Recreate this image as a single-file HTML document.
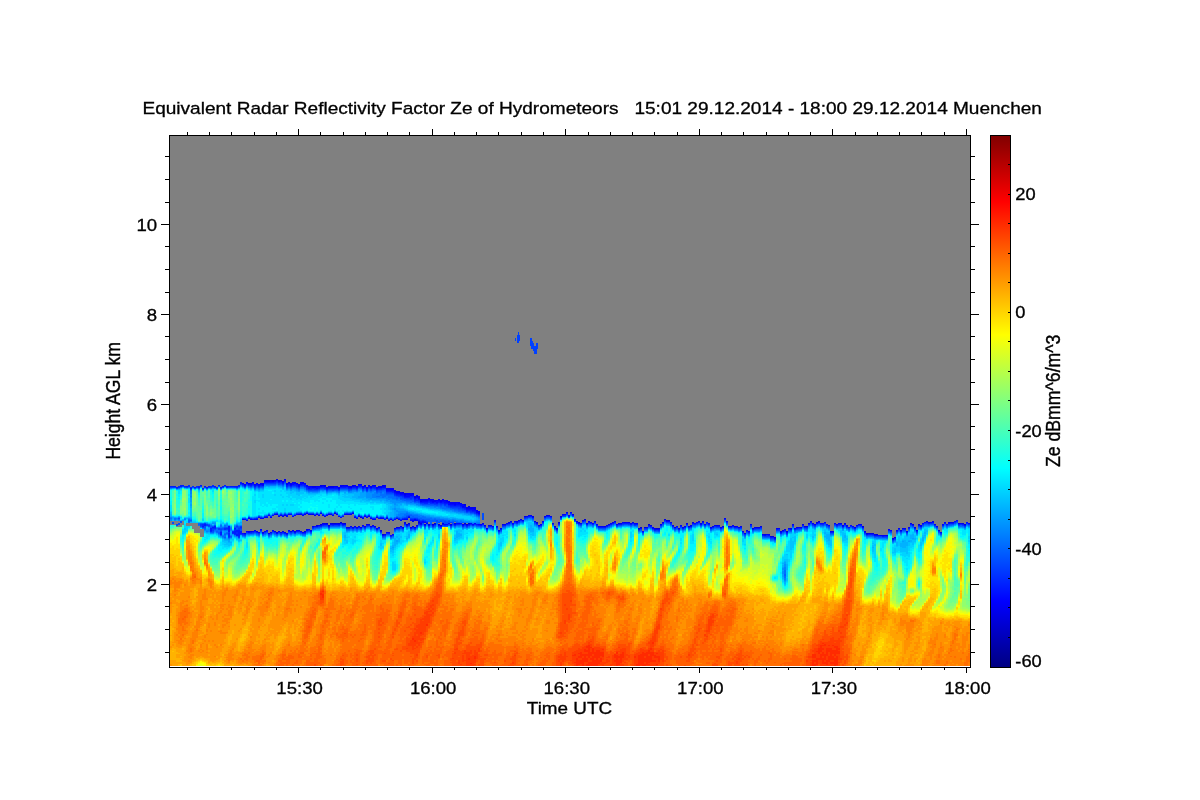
<!DOCTYPE html>
<html><head><meta charset="utf-8"><title>Radar Reflectivity</title>
<style>html,body{margin:0;padding:0;background:#fff;}body{width:1200px;height:800px;overflow:hidden;font-family:"Liberation Sans",sans-serif;}svg{display:block}</style>
</head><body>
<svg width="1200" height="800" viewBox="0 0 1200 800">
<rect width="1200" height="800" fill="#fff"/>
<rect x="170" y="136" width="800" height="531" fill="#808080"/>
<rect x="170" y="666" width="800" height="1" fill="#fff"/>
<g shape-rendering="crispEdges" fill="none" stroke-width="2">
<path stroke="#0000d4" d="M305 531v1m16-8v1m6-2v1m2 1v1m4-3v1m2-1v1m4-1v1m2-2v1m4 0v1m38 10v1m24-11v1m2-2v1m10-2v1m14 1v1m2-2v1m4 0v1m2 0v1m2-3v1m8 0v1m4-2v1m10-1v1m2 0v1m2-2v1m68-2v1m18 3v1m2 1v1m2-7v1m2-7v1m24 2v1m54 8v1m2-2v1m8-4v1m8 3v1m2-1v1m8-9v1m2-1v1m24 1v1m94 8v1m30-10v1m2-2v1m44 4v1m4 6v1m10 0v1m42-11v1m8-4v1m38 2v1"/>
<path stroke="#0000e6" d="M245 533v1m4-51v1m0 47v1m2-49v1m0 47v1m6-1v1m6 0v1m2-53v1m2-1v1m2-1v1m0 52v1m4-54v1m2 50v1m2-53v1m0 34v1m0 17v1m2-53v1m0 50v1m4-16v1m0 14v1m2 0v1m4-51v1m2 48v1m2-2v1m2 0v1m2-49v1m10 45v1m4 0v1m2-45v1m0 27v1m0 11v1m2-41v1m2 38v1m4-41v1m2-1v1m0 37v1m2-39v1m0 37v1m2-37v1m4-2v1m0 36v1m2-38v1m2 26v1m2 9v1m6-39v1m0 37v1m6 3v1m4-43v1m8 31v1m4-33v1m2 38v1m2-1v1m12 5v1m2-46v1m4 32v1m10 8v1m6-36v1m2 0v2m0 27v1m6 4v1m2-35v1m0 27v1m0 4v1m2-31v2m0 29v1m2-32v1m4 26v1m4 0v1m4-1v1m34-1v1m2-21v1m4 1v1m16 18v1m2 2v1m2-4v1m2-1v1m6 0v1m4 1v1m2-5v1m2-1v1m4-3v1m2-2v1m6-1v1m2-2v1m2-2v1m4-4v1m8-1v1m2 4v1m12-7v1m20-4v1m6 1v1m4 6v1m2 0v1m10-2v1m6-1v1m10 4v1m4-3v1m4-3v1m2-2v1m4 1v1m2-1v1m4-2v1m4-1v1m4-1v1m12 4v1m6-3v1m4 2v1m6-5v1m2-3v1m2-4v1m10 7v1m4 0v1m8-6v1m2 2v1m2-2v1m10-3v1m2-3v1m10 4v1m4-2v1m4 1v1m14-2v1m4 0v1m6 5v1m2-4v1m6-3v1m4-2v1m2-1v1m2-2v1m4 7v1m6 1v1m2-1v1m2 0v1m6-7v1m2-2v1m8-3v1m6-2v1m6-4v1m2 1v1m2-1v1m2-4v1m2-3v1m2 1v1m2 0v1m26-2v1m2 1v1m2-3v1m2 1v1m18 5v1m4 1v1m2-1v1m2-1v1m2 0v1m18 3v1m2-2v1m6-8v1m6 0v1m4-9v1m2 0v1m8 0v1m12-5v1m16 0v1m2-1v1m2-1v1m6 0v1m4-1v1"/>
<path stroke="#0000f6" d="M243 483v1m0 35v1m2-36v1m2-3v1m0 48v1m2-14v1m2 0v1m2-38v1m0 48v1m2-48v1m0 34v1m0 10v1m2-48v1m0 35v1m2-36v1m0 47v1m2-50v2m0 33v1m0 10v1m2-47v2m0 33v1m2-38v1m0 35v1m0 13v1m2-51v1m0 35v1m0 12v1m2-50v1m2-2v1m0 36v1m0 14v1m2-52v1m0 48v1m2-51v1m0 33v1m4-34v1m0 34v1m2-37v1m0 34v1m0 16v1m2-52v1m2-3v2m0 34v1m2-33v2m0 31v1m0 16v1m2-51v1m0 46v1m2-48v2m2-3v1m2-1v2m2 46v1m2-47v2m0 28v1m0 15v1m2-49v1m0 31v1m0 16v1m2-50v2m0 31v1m0 16v1m2-50v1m0 30v1m2-30v1m0 27v1m2-28v1m0 27v1m0 14v1m2-44v1m0 27v1m2-28v1m2-1v1m0 27v1m2-30v1m0 27v1m2-29v1m0 28v1m0 9v1m2-40v1m0 26v1m2 1v1m2-30v1m0 29v1m2-2v1m2-30v2m0 26v1m2-28v1m0 26v1m2-28v1m0 27v1m2-30v1m2-1v1m0 27v1m2-28v2m2-4v2m4-2v1m0 28v1m2-30v1m0 28v1m0 12v1m2-42v1m0 27v1m2-29v2m0 26v1m0 11v1m2-41v1m0 26v1m0 13v1m2-43v1m0 31v1m0 8v1m2-41v1m0 31v1m0 8v1m2-44v1m0 31v1m0 9v1m2-43v1m0 42v1m2-42v1m0 31v1m0 6v1m2-40v1m0 29v1m0 9v1m2-40v1m0 29v1m2-33v1m0 30v1m2-31v2m0 30v1m0 7v1m2-42v1m0 33v1m0 5v1m2-41v1m0 33v1m0 6v1m2-40v1m0 29v1m0 10v1m2-43v2m0 39v1m2-42v2m0 30v1m2-33v1m0 31v1m2-34v2m0 47v1m2-47v2m0 42v1m2-45v2m0 30v1m0 11v1m2-45v2m0 29v1m2-32v2m2 0v2m0 36v1m2-38v2m0 25v1m2-28v2m0 26v1m0 7v1m2-36v2m0 26v1m0 5v1m2-34v1m0 33v1m2-33v1m0 23v1m2-27v2m0 24v1m2-27v2m0 22v1m2-25v3m2-2v1m0 25v1m2-2v2m2-26v1m0 1v1m0 22v1m0 4v1m2-30v3m0 22v1m2-23v3m2-3v2m2-2v2m0 21v1m2-24v2m0 22v1m2-26v2m2-1v2m2-2v3m2-2v2m2-2v1m2-2v2m2-1v2m2-3v2m2-1v1m2-1v2m2-1v2m2-1v2m2-2v2m2-2v3m2-3v1m2-1v2m2-1v1m2 0v1m0 1v1m2-2v1m2 1v2m2-2v2m2-2v2m2-2v2m2-2v3m2 0v3m2-2v3m2 10v1m2-2v1m10 2v1m2-7v1m4 9v1m8-8v1m6-1v1m2-3v1m8-2v1m4-5v1m2-2v1m2-1v1m8 9v1m2-2v1m2-4v1m2-6v1m4-2v1m2 0v1m2 6v1m10-10v1m2-1v1m4 0v1m2-4v1m10 10v1m2-4v1m4 2v1m4-2v1m2 0v1m4 0v1m2 1v1m2-1v1m2-1v1m4-2v1m4-3v1m6 0v1m6-3v1m4-1v1m4 0v1m4-1v1m2-1v1m10 3v1m6-1v1m18-6v1m2 2v1m8-1v1m2 1v1m2-2v1m12-5v1m2-2v1m6 2v1m4-2v1m2 3v1m4-3v1m4-1v1m4 0v1m2-9v1m2 2v1m4 4v1m2-2v1m4 0v1m4-1v1m2 4v1m6-1v1m2-8v1m4 2v1m8 6v1m4-1v1m2-1v1m8-7v1m2-1v1m6 0v1m4-2v1m4-5v1m2 3v1m4-2v1m2-1v1m24-6v1m4 2v1m2 5v1m2-1v1m2-9v1m2 0v1m2-2v1m16 3v1m2-3v1m2-2v1m2-1v1m20 10v1m2-1v1m2-1v1m2-1v1m2-7v1m2 0v1m6-1v1m2-3v1m4-1v1m2-1v1m4-2v1m6-1v1m2 2v1m6-8v1m6-2v1m2-1v1m4 1v1m2 1v1m2 3v1m2 1v1m2-9v1m2-3v1m16 0v1m8-1v1"/>
<path stroke="#0008ff" d="M243 533v1m2-49v1m0 33v1m2-37v1m0 36v1m2-37v1m0 47v1m2-49v1m2-2v1m0 35v1m2-35v1m2-2v1m2 0v1m0 31v1m4-33v1m0 47v1m6-19v1m2-35v1m2 33v1m2-35v1m2-2v1m0 52v1m4-53v1m2 0v1m4 32v1m2-2v1m2-30v1m0 28v1m2-32v2m0 31v1m2-2v1m0 16v1m2-49v1m0 29v1m2-29v1m2-4v2m4-1v1m0 47v1m2-47v1m0 43v1m2-44v2m2-2v1m0 43v1m4-6v1m2-40v2m0 37v1m2-40v1m2 37v1m2-40v1m0 37v1m2-1v1m2-37v1m0 35v1m2 1v1m2-3v1m2-1v1m2-38v1m0 36v1m2-38v1m0 36v1m2-9v1m0 7v1m2-8v1m0 5v1m2-38v1m0 37v1m2-39v1m0 37v1m2-39v1m2 0v1m6-2v1m2 0v1m2-3v1m2-1v1m2 1v1m4 0v1m2-3v1m4-1v1m2-1v1m2 1v1m2 29v1m2 12v1m2-45v1m0 47v1m2-49v1m0 31v1m2-30v1m2-1v1m2-1v1m0 44v1m2-46v1m0 29v1m0 13v1m2-43v1m0 26v1m2-27v1m2-1v1m2 0v1m2-1v1m0 24v1m2-24v1m0 26v1m2-29v2m0 28v1m2-31v2m0 27v1m2-5v1m2-26v1m2 2v1m4 0v1m0 23v1m2-2v1m0 1v1m2-24v1m0 19v2m2-22v1m0 23v1m2-25v1m2-2v1m0 24v1m2-25v1m2 0v1m0 22v1m2-2v1m2-24v2m2-2v1m0 23v1m2-24v1m0 23v1m2-26v1m0 22v1m2-24v2m0 21v1m2-23v1m0 21v1m2-22v2m0 18v1m2-20v1m0 20v1m2-22v1m2 0v1m0 18v1m2-22v2m0 18v1m2-20v1m0 18v1m2-20v2m0 17v1m2-19v1m0 1v1m0 17v1m2-20v2m0 16v1m2-16v1m0 15v1m2-17v1m0 14v1m2-16v1m0 13v1m2-15v2m0 13v1m2-15v1m0 12v1m4 0v1m30-2v1m8-2v1m16-6v1m4 5v1m18 3v1m2 1v1m2-7v1m2-7v1m14 1v1m4 3v1m6-4v1m54 8v1m2-2v1m2 2v1m6-7v1m4 2v1m2 0v1m2-1v1m2-1v1m8-9v1m2-1v1m8 4v1m14-1v1m2-4v1m2-1v1m6 0v1m2-3v1m4-1v1m22 3v1m36 8v1m10 2v1m6-7v1m6-1v1m4-4v1m26-7v1m2-2v1m2 0v1m2-1v1m4 0v1m16 1v1m2-3v1m2 1v1m2 0v1m2-3v1m2 0v1m10 0v1m2 4v1m2 1v1m8 0v1m2-1v1m2-1v1m14 3v1m26-15v1m2 0v1m4-5v1m8-1v1m14 1v1m2-2v1m6-3v1m2-2v1m8 4v1m2-4v1"/>
<path stroke="#001aff" d="M171 486v1m2-1v1m2-1v1m2 0v1m4-3v2m2-2v1m4 0v1m4 1v1m4-2v1m4-2v2m2-3v1m2 40v1m2-41v1m0 37v2m2-39v1m2-2v1m2 41v3m2-4v1m2-42v1m0 39v2m4-43v1m2 1v1m0 44v3m2-49v1m2-2v1m2 0v1m2 39v6m2-46v1m2-1v1m0 45v1m2-47v1m0 41v1m0 2v3m2-48v1m0 43v2m0 2v2m2-51v1m0 44v6m2-54v2m0 47v3m2-50v1m2 49v1m6-50v1m0 46v1m2-49v1m2 1v1m0 44v1m2-47v1m0 32v1m0 13v1m2-47v1m2-2v1m0 44v1m4-49v1m2-1v1m0 33v1m0 14v1m2-50v1m2-1v1m2-1v1m0 48v1m6-50v1m4 0v1m0 31v1m0 16v1m2-52v1m0 32v1m0 18v1m2-49v1m0 48v1m2-51v1m0 46v1m4-1v1m2-48v1m2 0v1m0 45v1m2-1v1m4-48v1m2 0v1m2 1v1m4 0v1m2-1v1m0 38v1m2-40v1m4-1v1m2-2v1m2-1v1m2-1v1m2 1v1m2-2v1m2-1v1m2-1v1m2-1v1m2-1v1m2 0v1m2-3v1m2-1v1m0 28v1m2-30v1m2 40v1m2-41v1m0 39v1m2-41v1m2-2v1m0 40v1m2-42v1m0 28v1m0 10v1m2-40v1m0 39v1m2-43v1m0 28v1m0 11v1m2-42v1m0 29v1m2-29v1m0 28v1m0 8v1m2-40v1m0 39v1m2-39v1m0 35v1m2-39v1m0 37v1m2-38v1m2-2v1m0 38v1m2-40v1m0 39v1m2-39v1m0 39v1m2-42v1m2-1v1m0 28v1m4 17v1m2-45v1m0 25v1m2-27v1m0 41v1m2-43v1m2-1v1m2 1v1m2 0v1m0 33v1m2-35v1m0 33v1m2-34v1m2-1v1m0 32v1m2-32v1m0 20v1m2-22v1m0 20v1m2-22v1m0 18v1m2-21v1m0 22v1m0 8v1m2-33v1m0 22v1m0 7v1m2-29v1m0 28v1m2-31v1m0 20v1m0 6v1m2-7v1m2-19v1m0 18v1m2-20v1m2-1v1m0 18v1m2-20v1m0 19v1m2-22v1m2 0v1m4-1v1m2 0v1m2-2v1m4-1v1m2 0v1m2-1v1m4 1v1m2-1v1m4-1v1m2-1v1m2 0v1m4 1v1m2 1v1m2-1v1m2-1v1m2 0v1m2-1v1m2 1v1m0 10v1m2-11v1m2 10v1m2-2v1m2 1v1m2 2v1m2-4v1m2-1v1m4-6v1m2 5v1m2 3v1m2-3v1m2-5v1m2-1v1m6-4v1m2 1v1m6-4v1m2-2v1m4-4v1m4-2v1m2-1v1m10 8v1m2-4v1m2-6v1m2-2v1m2-1v1m14-2v1m4-3v1m2 2v1m4-2v1m4 6v1m6-2v1m4 2v1m2-3v1m6-1v1m2 2v1m2 1v1m2-1v1m2-1v1m2-1v1m2-2v1m2-2v1m2-2v1m2-2v1m2-2v1m4 1v1m2-1v1m2-2v1m2-1v1m2-1v1m2-1v1m2 0v1m2-2v1m2 0v1m2-1v1m14 1v1m10-2v1m2-3v1m2-4v1m8 5v1m6 2v1m2-4v1m2 1v1m2-2v1m2-4v1m2 2v1m10-6v1m10 1v1m2 3v1m2-2v1m4-2v1m2-1v1m2 1v1m2-2v1m2-9v1m8 6v1m2 0v1m2-1v1m4-1v1m6 3v1m2 0v1m4-4v1m2-2v1m2-1v1m2-1v1m2-2v1m2 7v1m6-1v1m2 1v1m2-1v1m4-9v1m6 1v1m2-2v1m8-6v1m2 3v1m2-2v1m6-4v1m2 1v1m2-1v1m2-4v1m2-3v1m2 1v1m2 0v1m16 6v1m2-1v1m4-8v1m2-2v1m2-1v1m14 3v1m6-4v1m8 8v1m2-1v1m2-1v1m10 1v1m6-7v1m6 7v1m2-8v1m4-1v1m4-3v1m2 2v1m2-5v1m2-5v1m2 0v1m2 2v1m12-7v1m2 0v1m14 1v1m2-3v1m6-1v1m2-1v1m6 0v1m4-1v1"/>
<path stroke="#002aff" d="M179 486v2m6-2v1m4-2v2m2 0v1m2-2v1m4-1v1m6 1v1m0 35v2m8-40v1m0 44v1m2-47v2m0 41v1m2-1v1m2-42v1m8 40v2m2-43v1m0 40v1m2-43v1m0 46v4m4-6v1m0 1v1m2-5v2m0 3v1m2-48v1m0 44v2m2-48v1m0 49v1m2-10v1m2 6v1m2-49v1m2 45v1m2-48v1m0 31v1m2 0v1m2 13v1m2-15v1m4 14v1m2-17v1m4-2v1m0 15v1m4 1v1m2-19v1m0 16v1m4-52v1m0 49v1m2-52v1m0 31v1m2 1v1m0 16v1m2-51v1m0 31v1m0 18v1m6-48v1m2-2v1m2 0v1m0 45v1m2-48v1m2-1v1m2 0v1m2 0v1m2-3v1m0 27v1m0 18v1m2-48v1m0 28v1m0 18v1m2-48v1m0 26v1m0 19v1m2-46v1m2 0v1m0 40v1m2-42v1m4-1v1m2-1v1m2 36v1m2-1v1m2-13v1m0 10v1m2-38v1m2 25v1m2 12v1m4-3v1m2-14v1m4 12v1m4-1v1m4-39v1m0 25v1m4-1v1m0 13v1m2-16v1m4 4v1m4 10v1m4-14v1m2-26v1m0 25v1m2-2v1m2 1v1m0 9v1m2-10v1m2-31v1m0 29v1m4-30v1m0 38v1m2-40v1m2-2v1m0 28v1m2-30v1m2 44v1m2-15v1m2 16v1m2-45v1m0 42v1m2-42v1m0 34v1m2-35v1m2-1v1m0 22v1m2 0v1m0 7v1m2-32v1m0 21v1m2 5v1m2 1v1m2-2v1m2-29v2m2-2v1m2 2v1m0 17v1m2-20v2m2-1v1m0 23v1m4-5v1m2-18v1m2-1v1m2-2v1m2 0v1m2-1v1m0 22v1m2-24v1m6-1v1m2-1v1m2 0v1m0 20v1m4-21v1m2 0v1m2-1v1m2-1v1m0 18v1m2-20v1m0 17v1m2-19v1m0 17v1m2-18v1m2 0v1m0 17v1m2-18v1m2 1v1m0 14v1m2-2v1m2-15v1m0 12v1m2 0v1m2-14v1m0 11v1m4 0v1m14 1v1m14-4v1m8-3v1m2 0v1m6-3v1m4-5v1m8 4v1m4 3v1m12-10v1m2 6v1m2 3v1m4-5v1m6-10v1m6-3v1m4 6v1m6 3v1m10-2v1m2 0v1m24 0v1m26 6v1m2-5v1m2-1v1m2-3v1m6 3v1m4-1v1m12-8v1m4 4v1m2-2v1m18-4v1m2-2v1m8 1v1m2-3v1m8 2v1m12-5v1m4 4v1m8 0v1m4 3v1m2 1v1m6-10v1m16 9v1m8 3v1m4-11v1m2 3v1m6-1v1m2-5v1m10-2v1m2-1v1m18-6v1m2 0v1m2-1v1m2-2v1m2 1v1m2 0v1m6-3v1m12 2v1m4-2v1m2 0v1m4-2v1m2-2v1m26 10v1m2-1v1m4-6v1m8-3v1m4-1v1m14 1v1m6-8v1m8-2v1m4 1v1m2 1v1m2 3v1m2 1v1m14-12v1m2-2v1m4 2v1m6-2v1m2 0v1"/>
<path stroke="#003cff" d="M171 487v1m2-1v1m2-1v1m2 0v1m6-3v1m4 0v1m4 1v1m6-3v1m4-2v1m0 37v2m2 1v1m2-41v1m0 35v1m2-36v1m0 35v2m2-39v1m0 37v1m2-39v1m2 41v2m2-44v1m2 0v1m2 39v2m2-42v1m0 40v1m0 1v1m2-45v1m4 41v1m2 2v1m0 4v1m6-51v1m2 38v1m2 1v2m0 7v1m2-54v1m0 41v1m0 1v1m0 5v1m2-50v1m2 49v1m2-52v1m0 34v1m2 13v1m2-48v1m0 46v1m2-49v1m2 1v1m0 44v1m4-46v1m0 28v1m2-31v1m2-1v1m2-4v1m2-1v1m2-1v1m0 30v1m2-32v1m2-1v1m2-1v1m0 29v1m2-32v1m2 0v1m2-1v1m0 50v1m2-51v1m0 48v1m2-52v1m10 50v1m2-21v1m2-1v1m8-25v1m0 22v1m0 18v1m2-19v1m2-1v1m0 18v1m2-44v1m0 23v1m0 14v1m2-15v1m0 12v1m2-15v1m0 13v1m2-39v1m0 24v1m2-27v1m0 23v1m2-25v1m2 26v1m0 9v1m2-36v1m0 34v1m2-37v1m0 23v1m2-25v1m0 23v1m0 11v1m2-37v1m0 24v1m2-26v1m0 35v1m2-37v1m0 23v1m0 11v1m2-36v1m2-3v1m0 35v1m2-37v1m2-1v1m0 24v1m0 11v1m2-38v1m2 0v1m0 23v1m2-25v1m0 38v1m2-41v1m2-1v1m2 0v1m2-3v1m2-1v1m2 1v1m2-2v1m0 39v1m2-3v1m2-39v1m2 0v1m2-2v1m4 1v1m0 25v1m4 15v1m2-44v1m0 46v1m4-45v1m2-1v1m2-1v1m0 25v1m4-24v1m0 22v1m2-2v1m2-22v1m2-1v1m0 31v1m2-32v1m2 0v1m2-1v1m0 18v1m2-20v1m2 0v1m0 18v1m2-21v1m0 19v1m0 9v1m2-28v1m0 27v1m2-12v1m0 8v1m2-27v1m0 17v1m2-17v1m0 16v1m0 4v1m2-23v1m0 19v1m2-4v1m0 5v1m2-6v1m2 4v1m2-3v1m4-21v1m0 20v1m2-22v1m2-2v1m0 22v1m2-23v1m0 22v1m2-3v1m2-21v1m2-2v1m0 20v1m2-20v1m0 17v1m2-18v1m0 14v1m0 3v1m2-20v1m0 16v1m2-18v1m2-1v1m2-1v2m2-1v1m0 15v1m2-16v1m2 15v1m4-15v1m2 0v1m2-1v1m2 0v1m2 0v1m0 10v1m2-11v1m22 14v1m2-5v1m6-3v1m10-3v1m6-5v1m4-2v1m4 0v1m4 5v1m20 5v1m4-13v1m6-5v1m10 8v1m2 0v1m6-4v1m4 1v1m8 2v1m26-3v1m6-1v1m6 0v1m4 4v1m2-2v1m10-3v1m2 1v1m4 0v1m8-10v1m2 0v1m2-1v1m2 1v1m20 2v1m2-4v1m8 0v1m2-3v1m14 3v1m2-1v1m10-1v1m12 0v1m8 4v1m2-8v1m4 2v1m6-2v1m4 7v1m2-1v1m2-1v1m2 1v1m2-1v1m4-9v1m2-1v1m6 0v1m6-2v1m2-5v1m4 2v1m6-4v1m4 1v1m4-6v1m2 1v1m2 0v1m2-3v1m20 1v1m2-2v1m4 1v1m2-3v1m4 2v1m12-3v1m2 1v1m2 4v1m2 1v1m6-1v1m2 0v1m2-1v1m2-1v1m2-1v1m12 3v1m2-2v1m24-14v1m2 0v1m4-5v1m2-1v1m6-1v1m14 1v1m2-2v1m10 0v1m4-1v1m2 0v1"/>
<path stroke="#004dff" d="M173 522v2m4 0v2m2-8v1m0 4v2m2-4v2m4-36v1m8-1v1m2 0v1m4-1v1m2 37v1m2-38v1m2 36v2m4-2v1m2 0v1m2-2v1m0 4v1m2-7v1m0 3v1m6-2v1m0 1v1m0 4v1m2-8v2m2-44v1m0 40v1m2-1v1m2-41v1m2-1v1m2-1v1m2 39v1m2-1v1m0 1v1m2-3v1m2 1v2m2-13v1m0 16v1m2-18v1m2 14v1m6-16v1m0 14v1m4-48v1m0 46v1m2 0v1m2-4v1m2-15v1m0 16v1m2-2v1m2-2v1m2 2v1m2-2v1m2-3v1m2 0v1m2 0v1m2-51v1m0 48v1m6 0v1m2-48v1m0 26v1m0 20v1m2-50v1m0 26v1m0 18v1m2-46v1m0 25v1m0 19v1m2-48v1m0 28v1m0 16v1m2-47v1m0 27v1m2-28v1m0 44v1m2-45v1m0 43v1m2-47v1m0 46v1m2-48v1m2 0v1m4 2v1m0 40v1m2-42v1m2-1v1m2-1v1m2-1v1m2 36v1m6-39v1m8 0v1m10 24v1m4 13v1m2-40v1m0 38v1m4-1v1m2-2v1m2 0v1m2-2v1m2 0v1m2-40v1m0 36v1m4-37v1m2 34v1m2-37v1m0 37v1m2-2v1m2-39v1m0 38v1m2-38v1m0 38v1m2-41v1m0 26v1m2-28v1m4-2v1m0 28v1m0 17v1m2-44v1m0 40v1m2-42v1m0 40v1m2-42v1m2-1v1m0 25v1m2 10v1m2-35v1m0 32v1m2-1v1m2-33v2m2-1v1m0 30v1m2-13v1m2-19v1m0 16v1m2-18v1m0 15v1m2 13v1m2-31v1m4 1v1m2 0v1m4 1v1m0 14v1m0 4v1m2-21v1m2-1v1m2-2v2m2-1v1m2-1v1m4 0v1m0 14v2m2-18v1m0 17v1m2-18v1m0 15v1m2-18v1m0 17v1m2-2v3m2-19v2m0 15v2m2-17v1m0 13v2m4-15v1m0 13v2m2-16v1m2-1v1m2 0v1m2-1v1m2 0v1m2-1v1m2 1v1m0 14v1m14-2v1m2-14v7m0 5v1m2 1v1m2 2v1m2-4v1m2-1v1m2 0v1m2-7v1m2 5v1m2 3v1m6-7v1m6-4v1m2 1v1m2-3v1m6-3v1m6-4v1m4-2v1m4 5v1m6 2v1m2-4v1m2-6v1m2-2v1m2-1v1m2 0v1m12-3v1m2-1v1m4 0v1m2-4v1m2 1v1m8 8v1m2-4v1m4 2v1m8-3v1m4 4v1m2-1v1m2-1v1m2-1v1m2-2v1m2-2v1m2-2v1m2-2v1m2-2v1m2 2v1m2-2v1m2-1v1m4-2v1m2-1v1m4 0v1m2-2v1m4 0v1m8 3v1m2-1v1m12 1v1m2-6v1m2-3v1m10 2v1m2 1v1m2-2v1m2 1v1m2-4v1m2 1v1m2-2v1m2-4v1m2 2v1m8-5v1m2-2v1m8 0v1m2 0v1m2 3v1m2-2v1m2-2v1m6 1v1m2-2v1m2-9v1m2 2v1m6 3v1m2 0v1m2-1v1m2 0v1m4 3v1m2 1v1m2-4v1m6-3v1m4-2v1m2-1v1m4 6v1m20-5v1m4 1v1m2-5v1m6-1v1m4-2v1m6-2v1m4-4v1m14-1v1m2-2v1m2 1v1m2 0v1m2 5v1m2-1v1m2-9v1m6-1v1m12 2v1m2 0v1m2-3v1m12 7v1m2-1v1m12 1v1m2-1v1m2-1v1m2-7v1m2 0v1m6-1v1m2-3v1m2 1v1m2-3v1m2-1v1m2 2v1m2-5v1m2-5v1m2 0v1m2 2v1m2 2v1m6-8v1m6-2v1m6 1v1m4 5v1m2 1v1m2-9v1m8-3v1m2-1v1m2-2v1m2-2v1"/>
<path stroke="#005eff" d="M181 487v1m8 32v2m2-2v1m8 3v1m2-2v1m2-1v1m2 4v1m4-5v1m2 1v1m0 5v1m2-1v1m4-5v1m0 2v1m2-46v1m0 45v2m6 0v1m0 2v1m2-5v1m4 2v1m6-12v1m0 2v1m2-3v1m6-40v1m2-3v1m2 0v1m6 1v1m2 28v1m4-31v1m2-1v1m4-4v1m0 30v1m2-32v1m2-1v1m2-1v1m0 29v1m2-31v1m2-2v1m4 0v1m2 0v1m2-3v1m0 29v1m18 20v1m2-1v1m2-3v1m4 0v1m4-6v1m4-39v1m2-2v1m0 37v1m2-39v1m0 36v1m2-1v1m2-36v1m0 34v1m2-37v1m0 37v1m2-39v1m0 35v1m2-1v1m2-37v1m0 35v1m2-37v1m0 35v1m2-12v1m0 10v1m2-38v1m0 26v1m0 8v1m2-37v1m0 36v1m2-38v1m0 36v1m2-38v1m4 0v1m2-2v1m2-1v1m2 0v1m4-3v1m4 0v1m4-1v1m4-1v1m4 2v1m2-2v1m0 37v1m2-39v2m2-3v1m0 46v1m2-48v1m2 3v1m0 21v1m2-23v1m2-1v1m0 42v1m2-44v1m0 41v1m2-41v1m2 0v2m2-2v1m0 19v1m2-19v1m0 18v1m2-20v1m0 17v1m2-19v2m0 24v1m2-26v1m0 14v1m0 11v1m2-28v1m0 25v1m2-27v1m0 14v1m0 1v1m2-18v2m0 14v2m2-16v1m0 14v1m2-16v1m0 14v1m2 0v1m0 6v1m2-22v1m0 13v2m0 6v1m4-8v1m0 7v1m2-9v2m0 3v1m2-6v3m0 5v1m2-23v1m0 14v4m0 1v1m2-21v1m0 14v2m0 5v1m2-23v1m0 13v3m0 4v1m2-5v2m2-19v1m0 15v1m0 5v1m2-22v1m0 13v1m0 7v1m2-24v1m0 14v2m2-16v1m0 13v1m0 5v1m2-20v1m0 13v1m0 4v1m2-7v1m0 4v1m2-18v1m0 18v1m2-7v1m0 3v1m2-17v1m0 11v1m0 4v1m2-18v1m0 12v1m0 2v1m2-16v1m0 11v1m0 2v1m2-16v1m2 11v1m0 4v1m2-17v1m0 14v1m4-15v1m0 13v1m2-14v1m0 11v1m2-13v1m2 11v1m2-11v1m0 10v1m2-11v1m0 9v1m22 4v1m6-7v1m2-1v1m14-4v1m10-4v1m6 7v1m16 1v1m4-5v1m16-5v1m10 0v1m6 1v1m2 0v1m48 4v1m2 2v1m6-7v1m6 3v1m2-1v1m12-9v1m24 1v1m2-1v1m8-2v1m2 1v1m26 1v1m30 0v1m4 7v1m2-1v1m2-1v1m2 1v1m2-1v1m2 0v1m10 33v2m6-45v1m10-3v1m2-3v1m4 1v1m12-6v1m2 0v1m24 0v1m2 1v1m2 0v1m2-3v1m8-2v1m4 2v1m2 4v1m10 2v1m4-1v1m2-1v1m12 3v1m26-15v1m2 0v1m4-5v1m2-1v1m4-1v1m2-1v1m4 3v1m8-5v1m2 1v1m2-2v1m12-1v1m4 1v1m2-4v1m2 0v1"/>
<path stroke="#006eff" d="M171 518v1m4-1v2m4-32v1m0 30v1m10-33v1m0 31v1m0 2v1m2-33v1m8 32v1m0 1v1m4 2v1m2 0v1m6-5v1m2-39v1m2 42v1m2-2v2m0 1v1m2-3v2m2-7v3m2-1v1m0 8v1m2-12v2m0 3v1m0 2v1m0 1v2m2-7v1m0 1v1m2 5v1m2-11v2m0 7v1m4-12v1m0 8v1m2-48v1m0 47v1m2-50v1m4-2v1m2 49v1m4-3v1m2-48v1m2-2v1m2 46v1m2-47v1m0 46v1m2-47v1m0 46v1m2-20v1m0 15v1m2 2v1m2-52v1m0 49v1m2-2v1m2 2v1m2-22v1m2 17v1m2 0v1m2 0v1m4-23v1m0 21v1m2-22v1m2 20v1m2-48v1m2-2v1m0 45v1m2-46v1m0 45v1m2-48v1m0 45v1m2-47v1m2 0v1m2 0v1m0 43v1m2-47v1m2-1v1m2 0v1m2 1v1m2 0v1m2-1v1m2-1v1m0 37v1m2-39v1m2-1v1m0 36v1m2-1v1m20-38v1m8 38v1m2-40v1m0 38v1m2-2v1m2 0v1m2-16v1m0 13v1m2 0v1m2-43v1m0 25v1m0 14v1m4-39v1m0 24v1m2-27v1m0 38v1m2-3v1m2-38v1m2 0v1m0 37v1m2-40v1m2-1v1m0 38v1m2-37v1m0 2v1m2-5v1m0 3v1m2-4v3m0 20v1m0 16v1m2-43v1m0 2v4m2-7v6m0 40v1m2-43v1m2-1v3m0 20v1m2-24v3m2-3v4m2-2v2m0 18v1m0 13v1m2-33v1m0 16v1m2-19v1m0 31v1m2-14v1m0 11v1m2-30v1m0 15v1m0 13v1m2-17v3m2-16v1m0 11v2m2-14v1m0 12v1m2-14v2m0 11v1m0 1v1m0 13v1m2-16v1m0 13v1m2-15v2m2-2v2m0 11v1m2-26v1m0 12v2m2-1v1m2-13v1m0 10v3m2-14v1m0 11v2m2-14v1m0 12v1m2-14v1m0 12v1m2-1v2m2-1v1m2-14v1m0 11v1m2-13v1m0 12v1m0 4v1m2-19v1m0 12v2m2-14v1m0 11v1m2-14v3m0 10v1m0 6v1m2-20v2m2-1v1m0 11v1m2-13v1m2 0v1m0 11v1m2-13v1m0 10v1m2-11v1m2-1v1m0 10v1m2-11v1m2-1v1m0 9v2m0 2v1m2-15v1m2 0v1m0 9v1m8 0v1m0 2v1m2-13v1m2 8v1m2-1v1m2 3v1m2-2v1m4 4v1m4-4v1m2 0v1m4-1v1m2 3v1m4-7v1m2-1v1m6-4v1m2 1v1m4-3v1m2-2v1m2-2v1m4-4v1m6-2v1m4 5v1m2 0v1m8-7v1m2-2v1m2-1v1m2 0v1m2 5v1m4 5v1m4-13v1m6-5v1m4-1v1m8 9v1m4-3v1m6 0v1m8 2v1m2 1v1m4-1v1m2-1v1m4-3v1m2-2v1m12-2v1m6-1v1m2 0v1m2-2v1m4 0v1m2 4v1m12-4v1m2 1v1m8-4v1m2-3v1m2-4v1m2 0v1m4 1v1m2 2v1m2 1v1m2-2v1m2 1v1m2-4v1m4 0v1m2-4v1m2 2v1m2-2v1m8-5v1m2 1v1m10 3v1m2-2v1m2-2v1m2-1v1m2-1v1m2 1v1m6-7v1m2 3v1m10 1v1m2-2v1m2 4v1m2 1v1m2-4v1m2 0v1m2-8v1m2 3v1m2-2v1m2-1v1m2-1v1m4 6v1m14-7v1m2-1v1m2 2v1m2-2v1m2-2v1m0 37v4m0 2v2m4-47v1m4-5v1m2 3v1m2-2v1m2-1v1m6-2v1m6-6v1m2 1v1m2 0v1m2-3v1m8-1v1m2 1v1m2 0v1m2 5v1m2-1v1m4-8v1m2-2v1m2-1v1m2 1v1m12 1v1m6-4v1m6 8v1m2-1v1m2-1v1m2-1v1m4 0v1m10 0v1m2-7v1m6 7v1m2-8v1m2-3v1m2 1v1m2-3v1m2-1v1m2 2v1m2-5v1m2-5v1m2 0v1m2 2v1m2 2v1m6-8v1m6-2v1m22-1v1m8 0v1m2-1v1m2-1v1"/>
<path stroke="#0080ff" d="M171 488v1m0 28v1m0 1v1m6-2v1m2-2v1m6 1v1m6-29v3m0 2v1m0 22v1m0 1v1m10 5v1m6-5v1m0 7v1m4-44v1m4 42v1m4-5v1m0 6v1m4-5v1m0 4v1m0 1v1m2 0v1m2-14v2m0 7v1m4-8v1m0 2v1m0 4v1m8 2v1m2-54v1m0 39v1m2 10v1m4-3v1m2-48v1m2 29v1m0 16v1m2-1v1m2-46v1m0 27v1m8-30v1m2 26v1m2-31v1m2-1v1m2-1v1m0 49v1m2-51v1m2-1v1m2-2v1m0 27v1m2-28v1m0 28v1m0 19v1m2-50v1m2 0v1m0 47v1m2-51v1m2 51v1m8-3v1m2-2v1m2-22v1m2-25v1m0 23v1m0 21v1m2-47v1m0 24v1m0 21v1m2-47v1m0 22v1m0 22v1m4-4v1m6-4v1m4-39v1m4-2v1m0 22v1m4-22v1m2-2v1m2-1v1m2-1v1m0 21v1m4-23v1m2 0v1m2-3v1m2-1v1m0 36v1m2-38v1m0 36v1m2-38v1m0 21v1m4-22v1m0 20v1m2-23v1m0 20v1m2-22v1m2 0v1m0 24v1m4-28v1m0 25v1m0 14v1m2-3v1m2-15v1m2-23v1m0 22v1m2-25v1m0 22v1m0 12v1m2-36v1m0 23v1m2-26v1m0 2v4m0 19v1m0 10v1m2-37v6m0 19v1m2-24v2m0 1v1m0 17v1m0 15v1m2-39v3m0 1v1m0 32v1m2-35v2m2-6v2m0 22v1m2-20v1m2-2v3m0 36v1m2-38v2m0 35v1m2-38v1m0 18v1m0 20v1m2-40v1m0 18v1m0 18v1m2-39v1m2 0v1m0 29v1m2-32v2m0 13v3m2-17v2m0 11v4m2-16v1m0 11v3m2-15v1m0 11v1m0 12v1m2-25v1m0 9v1m0 15v1m2-27v1m0 10v1m4-12v1m0 11v1m2-12v1m0 10v1m0 15v1m2-28v2m0 9v1m2-11v1m0 10v1m2-11v1m0 9v2m0 10v1m2-3v1m2-10v1m0 11v1m2-23v1m0 10v1m0 7v1m2-20v1m0 10v1m2-12v1m0 10v1m0 8v1m2-21v1m0 11v1m2-12v1m0 19v1m2-10v1m2-12v1m0 10v1m2-11v1m4 0v1m0 9v1m2-11v1m0 9v1m2-11v1m2 10v1m2-11v1m0 8v1m2-9v1m0 8v1m0 6v1m2-17v1m0 8v1m2 0v1m0 4v1m2-15v1m0 7v1m2-9v1m0 8v1m0 6v1m2-2v1m2-15v1m0 8v1m2-10v1m0 8v1m0 4v1m2-14v1m0 7v1m6-7v1m0 5v1m2-6v1m0 4v1m6 5v1m4-1v1m6-6v1m32-5v1m2-2v1m4 1v1m6 7v1m2-2v1m2-4v1m38 1v1m4-4v1m2 2v1m4-2v1m2 0v1m2-3v1m6 4v1m6-2v1m6-4v1m2-2v1m4 1v1m2-1v1m4-2v1m2-1v1m8 0v1m6 4v1m2 2v1m2-5v1m2-1v1m12 1v1m24-3v1m10-5v1m2-1v1m2-2v1m10-1v1m2 0v1m14 2v1m2-9v1m8 6v1m2 0v1m2-1v1m34 10v1m2-1v1m2 0v1m10 25v3m0 8v2m2-45v1m14-6v1m6-1v1m2-5v1m10-2v1m2 0v1m2-1v1m12-1v1m14 3v1m4-2v1m4-2v1m2-2v1m4 2v1m14 7v1m2-1v1m2-1v1m2-1v1m2-1v1m6-6v1m2 8v1m26-15v1m6-4v1m2-1v1m8 1v1m4 5v1m2 1v1m2-9v1m2-3v1m2 1v1m6-3v1m2-2v1m2-2v1m10 1v1m2 0v1"/>
<path stroke="#0090ff" d="M171 520v1m4-1v1m2-2v1m2 0v1m6-3v1m4-1v1m2-25v2m0 1v1m8-9v1m6 40v1m2-42v1m0 36v1m0 3v1m2-4v1m0 1v3m2-8v1m0 8v1m2-11v1m0 1v1m0 7v1m2-11v2m2 2v1m4-39v1m0 34v1m0 11v1m4-6v2m2-9v1m0 6v1m2-7v1m0 13v1m4-10v1m0 3v1m2-10v1m0 10v1m2-13v1m2 0v1m8-8v1m2-3v1m4-30v1m0 29v1m4-30v1m0 46v1m2-47v1m0 25v1m2-28v1m4-4v1m4 27v1m6-2v1m12-24v1m2-2v1m2 0v1m2-2v1m2-1v1m0 24v1m2-25v1m0 22v1m2-23v1m8 0v1m0 19v1m0 21v1m2-42v1m0 19v1m2-1v1m2-21v1m0 19v1m2-21v1m0 20v1m2-22v1m0 19v1m2 0v1m2-24v1m0 20v1m0 16v1m2-2v1m2-38v1m0 23v1m0 12v1m2-15v1m0 13v1m2-16v1m0 16v1m2-18v1m0 14v1m2-1v1m2-37v1m0 19v1m0 15v1m2-16v1m0 14v1m2-1v1m2-2v1m4-15v1m2 18v1m2-40v1m0 19v1m2-21v1m0 37v1m2-40v1m2-1v1m0 38v1m2 0v1m2-43v2m4 1v1m2-2v1m2 1v5m2-6v6m2-5v6m2-7v2m2-3v1m2 6v1m2-1v1m2-1v1m2-1v1m0 39v1m2-41v1m0 18v1m0 20v1m2-40v2m0 14v1m4-17v3m2-2v3m2-3v5m0 3v2m2-9v2m0 7v2m0 2v2m2-15v2m0 8v3m0 17v1m2-30v1m0 8v2m0 17v1m2-29v1m0 8v2m0 18v1m2-30v1m0 8v2m2-10v1m0 7v1m2-9v1m0 8v1m0 14v1m2-25v1m0 9v1m2-11v1m0 9v1m6-9v1m0 8v1m0 11v1m4-12v1m2-10v1m2 9v1m2-1v1m0 11v1m2-22v1m2-1v1m0 9v1m0 10v1m2-12v1m2-11v2m0 8v1m0 7v1m2-18v1m0 8v1m0 10v1m2-11v1m2-10v1m0 8v1m2-1v1m2-9v1m0 7v1m2-9v1m0 8v1m2-10v1m0 8v1m0 8v1m2-18v1m0 14v1m2-8v1m2-8v1m0 13v1m2-15v1m0 7v1m2 5v1m2-7v1m2-8v1m0 7v1m2-1v1m0 6v1m2-15v1m0 6v1m2 4v1m2-13v1m0 7v1m0 4v1m2-13v1m0 6v1m0 3v1m2-6v1m0 5v1m2-10v1m0 1v2m0 5v1m16-4v1m6 7v1m2-5v1m2-1v1m2-3v1m2-1v1m2-2v1m2 1v1m2-4v1m2 0v1m2-2v1m4-2v1m8-5v1m4 5v1m2 0v1m20 5v1m32-8v1m28 1v1m32 0v1m6 3v1m2-1v1m6-7v1m2-4v1m2 0v1m2-1v1m12 4v1m10-1v1m12-5v1m2 1v1m12 1v1m2-1v1m12-1v1m10 0v1m2 4v1m2 1v1m4-3v1m2-8v1m2 3v1m6-2v1m2-2v1m2 7v1m2-1v1m2-1v1m2-1v1m8-7v1m4 2v1m2-2v1m0 33v2m0 1v3m2-41v1m0 30v3m0 13v1m4-49v1m2-1v1m2-5v1m2 3v1m2-2v1m6-4v1m2 1v1m6-6v1m2 1v1m2 0v1m2-3v1m12 2v1m2 5v1m8-9v1m2-1v1m2 1v1m2-3v1m2 1v1m4-2v1m14 6v1m2 1v1m6-1v1m2 0v1m20 2v1m6-8v1m2-3v1m4 2v1m2-5v1m2-5v1m4 3v1m2 2v1m4-6v1m10-5v1m2-1v1m4 3v1m12-4v1m10 0v1m4-1v1m2 0v1"/>
<path stroke="#00a2ff" d="M171 516v1m2-29v1m0 28v2m2-2v1m2-29v1m6 30v1m4-33v1m4 9v4m0 2v2m0 12v1m6-31v1m4-2v1m4 34v1m2 6v1m0 2v1m2-5v1m4-7v1m2-35v1m0 33v1m0 9v1m2-44v1m0 43v1m2 1v1m4-10v1m0 4v2m0 1v1m0 3v1m2-15v1m0 14v1m2-52v1m0 34v1m0 14v2m2 0v2m2-16v1m0 4v4m0 3v1m6-2v1m4-16v1m4-35v1m0 28v1m0 19v1m2-52v1m2 48v1m2-48v1m4 45v1m4 1v1m2-4v1m2-45v1m0 26v1m2-31v1m0 48v1m2-2v1m2-49v1m0 50v1m2-2v1m2-24v1m0 20v1m2 0v1m2-51v1m0 50v1m2-51v1m2-1v1m0 49v1m2-50v1m2-3v1m0 26v1m0 23v1m2-24v1m0 23v1m2-26v1m0 21v1m2-45v1m0 21v1m0 22v1m2-47v1m0 24v1m0 19v1m2-46v1m0 45v1m2-46v1m0 43v1m2-44v1m2-3v1m2-1v1m2 0v1m6 1v1m0 41v1m2-5v1m4-2v1m2-38v1m0 36v1m4-39v1m4 1v1m2-2v1m2-1v1m6-1v1m2 0v1m2-3v1m0 23v1m2-25v1m0 22v1m2-24v2m0 35v1m2-38v1m2 39v1m4-40v1m0 38v1m4-40v1m2-2v1m0 4v2m0 32v1m2-41v1m0 1v6m0 33v1m2-39v5m0 31v1m2-38v5m0 33v1m2-33v1m0 29v1m2-31v2m0 28v1m2-30v1m0 30v1m2-33v2m0 29v1m2-32v2m0 30v1m2-32v1m2-1v1m0 16v1m0 14v1m2-33v2m0 33v1m2-36v1m2-1v2m2 0v1m2-2v2m2 0v2m2-1v1m0 4v2m0 7v1m0 20v1m0 8v1m2-43v3m0 2v7m0 15v1m2-30v3m0 2v2m0 2v2m0 17v1m0 8v2m2-39v1m0 4v3m2-8v2m0 4v2m2-2v2m2-8v1m0 6v1m2-7v1m0 24v1m2-2v1m2-25v1m0 7v1m0 18v1m2-28v1m0 7v1m0 17v1m2-27v1m0 8v1m0 17v1m2-27v1m0 7v1m0 15v1m4-16v1m2-9v1m2 8v1m2-9v1m0 7v1m2-9v1m0 7v1m2-8v1m0 7v1m0 10v1m2-20v1m0 7v1m2-9v1m2 17v1m4-18v1m0 7v1m2-8v1m0 6v1m2-8v1m4 0v1m0 6v1m2-8v1m2 6v1m2-7v1m0 5v1m2 0v1m2-7v1m0 5v1m0 7v1m2-15v1m0 5v1m2-7v1m0 5v1m0 9v1m2-16v1m0 5v1m0 7v1m2-15v1m4 0v1m0 5v1m2 6v1m2-13v1m0 4v1m2-5v1m0 2v1m2-2v1m2 8v1m2-2v1m8 1v1m6 0v1m2 3v1m22-12v1m4-4v1m2-1v1m2-2v1m4 1v1m6 7v1m4-5v1m2-6v1m2-2v1m2-1v1m2 0v1m4 9v1m24-5v1m2 0v1m2-4v1m4 2v1m10 0v1m2 1v1m2-1v1m2-1v1m2-1v1m2-2v1m2-2v1m2-2v1m20-1v1m2-2v1m4 0v1m2 4v1m12-4v1m2 1v1m18-6v1m2 2v1m2 1v1m2-2v1m2 1v1m4-2v1m2-2v1m2-4v1m2 2v1m6-4v1m4-3v1m2 1v1m8-1v1m2 3v1m2-2v1m2-2v1m6 1v1m2-2v1m4-6v1m8 4v1m2-1v1m2 0v1m8 2v1m8-4v1m2-1v1m22 0v1m4 34v1m0 2v1m0 3v3m2-15v2m0 17v1m2-46v1m10-5v1m2-2v1m8-1v1m2-5v1m14-1v1m2-2v1m2 1v1m6 6v1m4-8v1m6 1v1m6 0v1m6-1v1m2-3v1m4-2v1m8 8v1m2-1v1m12 1v1m2-1v1m2-1v1m2-7v1m2 0v1m6-1v1m2-3v1m4 8v1m2-10v1m4 8v1m4-14v1m0 9v1m6-10v1m4-3v1m2-2v1m2-1v1m2-1v1m10 7v1m4-7v1m2-3v1m6-1v1m10 0v1m8-1v1"/>
<path stroke="#00b2ff" d="M171 514v2m2 3v1m2-32v1m2 28v1m0 2v1m2-32v1m0 26v1m2-29v1m0 31v1m2-34v1m4 30v1m4-17v2m0 2v2m0 9v1m0 4v1m2-35v1m10 1v1m2-3v1m0 42v1m2-10v1m0 5v1m2-41v1m0 34v1m0 8v1m2-10v1m2-36v1m6 47v1m2 0v1m2-5v1m2 6v1m2-6v1m0 1v1m0 2v1m2-53v1m0 53v1m2-1v1m2-55v1m0 46v1m2-48v1m2 34v1m0 14v1m2-16v2m0 14v2m2-55v1m0 36v2m0 10v1m2-49v1m0 29v1m4 17v1m4-1v1m2-1v1m2-46v1m2-2v1m0 26v1m2-27v1m2-2v1m2 46v1m4-51v1m0 27v1m4-29v1m2-1v1m2-1v1m4 48v1m2-49v1m0 24v1m2-25v1m0 24v1m0 21v1m2-50v1m2 3v1m2-2v1m6 0v1m2 0v1m2 42v1m2-45v1m0 44v1m2-46v1m2 0v1m0 44v1m2-45v1m2 0v1m0 39v1m2-41v1m2-1v1m2-1v1m2-1v1m4-3v1m0 37v1m4-39v1m0 36v1m8-37v1m2-1v1m4 1v1m0 19v1m2 12v1m2 0v1m2-36v1m0 41v3m2-6v1m2-40v1m2-1v1m2-1v1m0 2v2m2-6v6m2-5v6m2-7v4m0 2v1m2-8v1m0 6v1m2-1v2m2-3v3m2-1v2m2-1v1m4-1v1m2-1v1m2-1v1m0 31v1m2-33v1m2 0v1m0 13v1m2-16v1m0 38v1m2-39v2m0 36v1m2-38v1m0 33v1m2-35v2m0 13v1m0 18v1m2-31v4m0 2v5m0 22v1m0 8v1m2-45v4m0 2v7m0 28v2m0 1v2m2-12v8m2-40v2m0 24v1m0 3v2m0 4v2m2-40v4m0 24v1m0 5v4m2-37v1m0 2v1m0 22v1m2-29v1m0 4v1m2-5v1m0 4v1m0 17v1m2-23v1m0 4v1m0 27v1m2-35v1m0 6v1m0 22v4m2-27v1m4-7v1m0 6v1m4-7v1m0 6v1m2-8v1m0 6v1m2-7v1m0 6v1m2-8v1m0 6v1m0 14v1m2-4v1m2-19v1m0 20v1m2-15v1m2-1v1m0 13v1m2-21v1m0 6v1m0 11v1m2-20v1m0 6v1m2-8v1m0 6v1m0 12v1m2-14v1m4 0v1m2-7v1m0 5v1m4-6v1m0 4v2m2-7v1m0 4v1m2 10v1m0 9v1m2-26v1m0 4v1m0 8v1m0 3v7m2-5v4m2-10v1m0 6v2m2-22v1m4 0v1m0 4v1m0 8v1m2-15v1m0 4v1m0 7v1m2-9v1m0 6v1m2-13v2m0 4v1m2-2v1m2-3v2m0 8v1m8 0v1m2 2v1m2-4v1m4 0v1m8 2v1m2-5v1m4-3v1m8-3v1m14-6v1m0 7v2m2-10v1m0 4v7m2-4v4m2-6v1m2 0v1m4 0v1m12-3v1m6-1v1m26-3v1m4 1v1m2-1v1m2 0v1m2-3v1m18 0v1m2-2v1m6 1v1m2-2v1m2-1v1m2-1v1m2-1v1m6 0v1m6 4v1m4-2v1m2-1v1m10 1v1m2-1v1m2-6v1m6-4v1m2-1v1m24 1v1m4-2v1m10-1v1m8 3v1m10-9v1m4 6v1m4-1v1m12 8v1m26 2v1m2-1v1m2 0v1m6-7v1m2 26v1m0 1v2m0 10v2m2-18v1m0 20v2m2-20v6m4-37v1m2-5v1m2 3v1m6-3v1m12-4v1m2 0v1m6-3v1m4 4v2m0 2v1m2-3v5m2-9v1m0 3v7m2-5v1m4-10v1m4 0v1m2-1v1m4-1v1m0 6v3m2-8v1m4-2v1m2 0v1m6-3v1m4 2v1m2 4v1m2 1v1m6-1v1m0 8v1m2-9v1m2-1v1m4-1v1m12 3v1m2-2v1m2-1v4m4-11v1m0 7v4m2-7v1m0 1v6m2-8v8m2-12v1m0 5v4m2-6v1m2-13v1m0 6v4m0 1v2m2-8v4m0 1v1m2-8v1m0 5v2m2-5v1m6 1v4m2-9v2m0 1v1m16 0v1m6-9v1m6-3v1m2-2v1m2-2v1m8 4v1m2-4v1"/>
<path stroke="#00c3ff" d="M171 512v2m2 2v1m0 3v1m10-2v1m2-32v1m0 31v1m0 7v2m4-42v1m0 28v1m2-10v9m2 5v1m2-34v1m0 32v1m4-33v1m0 31v1m2-1v1m4 9v1m2-6v1m0 5v1m2-1v1m4-13v1m0 2v1m2-4v1m0 11v1m2 0v1m2-9v1m2-4v1m2-36v1m0 34v1m0 1v1m0 13v3m2-55v1m0 53v2m0 1v1m2-9v1m0 4v4m2-2v3m2-58v1m0 50v1m0 1v1m0 1v2m2-9v1m0 2v1m2-16v1m0 12v1m2-49v1m0 49v1m2-52v1m0 52v1m2-21v1m0 18v1m2-4v1m6-50v1m2 0v1m2-2v1m2 27v1m2-27v1m2 0v1m2-2v1m0 24v1m2-26v1m2-4v1m0 26v1m0 21v1m2-2v1m2-49v1m2-1v1m0 26v1m0 22v1m2-51v1m2-1v1m0 48v1m2-51v1m0 24v1m2-25v1m0 25v1m4-25v1m6 0v1m2 0v3m2-4v3m0 42v1m2-45v1m2 0v3m2-3v4m0 15v1m2-21v3m0 17v1m2-21v3m0 42v1m4-44v1m0 40v1m2-41v1m2-1v1m2-1v1m2-1v1m0 35v1m2-1v1m2-38v1m0 36v1m2-39v1m2-1v1m0 35v1m2-37v1m2 1v1m0 33v1m2-36v1m0 36v1m2-38v1m0 34v1m2-1v1m2-1v1m2-36v1m0 34v1m2-34v1m0 32v1m2-37v1m2-1v1m0 1v1m0 1v1m2-3v4m0 34v3m0 3v3m2-49v3m0 1v2m0 13v1m0 25v1m0 2v3m2-49v4m0 34v1m2-39v5m0 32v1m2-38v2m0 2v2m0 32v1m2-35v2m0 14v1m0 16v1m2-33v1m0 15v1m0 16v1m2-34v1m0 13v1m0 17v1m2-33v3m0 30v1m2-33v1m0 14v1m2-16v2m0 29v1m2-31v1m2-1v1m2-2v1m0 1v1m0 28v1m2-31v2m0 27v1m2-30v1m2-1v2m2-2v2m2-1v1m0 32v1m0 7v3m2-45v2m0 12v1m2-13v1m2-1v2m0 9v1m2-11v6m0 2v5m2-13v2m0 4v2m0 34v2m0 1v3m2-10v3m0 5v3m2-20v1m0 2v2m0 8v2m2-14v2m0 2v2m0 4v1m2-11v4m0 4v1m2-37v2m0 28v2m2-34v4m0 24v1m2-28v1m0 2v1m2 0v1m0 26v2m0 1v1m2-30v1m0 20v3m2-29v1m0 26v1m2-28v1m0 5v1m0 19v1m2-21v1m2-6v1m0 5v1m2 14v1m2-21v1m0 20v1m2-16v1m0 12v1m4-19v1m0 5v1m2-1v1m2-6v1m2-1v1m2 5v1m4-6v1m2-1v1m2 0v1m0 4v1m2-6v1m0 4v1m2-5v1m0 3v1m2-5v1m0 4v1m2-5v1m0 15v1m2-17v1m0 13v1m2-15v1m0 3v1m0 17v3m0 1v2m2-11v1m0 7v2m2-26v1m0 3v1m0 10v4m0 4v2m2-25v1m0 3v1m0 11v2m0 1v1m0 2v2m2-23v1m0 2v1m2-4v1m0 3v1m2-1v1m4-4v1m0 2v1m2-3v1m0 2v1m2-4v3m0 7v1m4 0v1m16-4v1m2 5v1m4 10v4m4-17v1m4-3v1m2-2v1m6-1v1m6-3v1m2-4v1m2-1v1m2 0v6m0 2v1m2-9v3m0 7v1m0 1v1m2-12v5m0 4v4m14-16v1m10 12v1m6-17v1m4-2v1m4-1v1m6 7v1m2 2v1m4-3v1m4 2v1m32-2v1m12 0v1m2-2v1m6 5v1m4 1v1m12-3v1m10-10v1m12 6v1m4-2v1m2 1v1m8-3v1m14-3v1m6 3v1m6-3v1m0 3v1m2-5v1m24 5v1m6-1v1m2-8v1m2 3v1m8-3v1m4 7v1m2-1v1m10-7v1m6 1v1m0 26v1m0 1v1m0 14v1m2-46v1m0 24v2m0 23v1m2-31v1m0 4v5m0 6v7m0 1v3m2-48v1m2 4v12m2-13v1m0 3v7m2-12v6m8-13v1m2 1v1m4-4v1m2-3v1m2 9v2m6-12v1m4 1v1m2-2v1m0 1v3m0 2v2m0 1v1m2-9v1m0 2v2m0 5v3m2-10v2m0 7v4m2-5v6m10-16v3m2-1v9m2-8v2m0 3v3m2-3v2m24-2v1m2 4v1m0 1v2m0 1v4m2-8v2m4-7v1m14 12v1m2-5v5m2-18v1m0 5v1m0 4v1m2-14v1m0 2v10m2-5v2m0 4v5m2-19v1m0 5v1m0 8v4m2-16v4m0 8v4m2-15v5m0 4v8m2-22v1m0 1v6m0 2v4m2-12v1m0 4v1m0 2v1m2-14v1m0 2v2m0 6v5m2-10v3m0 2v2m6 0v4m2-11v2m0 4v1m2-13v3m0 2v1m0 1v2m2-8v2m4-6v1m4 1v1m2 1v1m8-4v1m4-1v1m10 0v1m4-1v1"/>
<path stroke="#00d4ff" d="M171 489v1m0 21v1m10-23v1m0 27v1m2 13v3m2-17v1m0 6v4m0 2v3m2-16v1m0 1v1m0 1v2m0 3v5m2-5v1m4-6v1m2-1v1m2 0v1m2-32v1m4 27v2m0 1v1m6 11v1m2-46v1m0 32v1m0 11v1m2-1v1m6-48v1m0 49v1m2-17v2m2-1v1m0 1v1m0 17v3m2-22v1m0 19v1m0 1v2m2-25v1m0 22v2m2-1v1m2-22v1m0 14v1m0 4v1m2-9v2m0 1v1m4-19v1m2-1v1m2-4v2m0 15v1m0 2v1m4-2v1m2-52v1m0 48v1m2-22v1m0 20v1m4-21v1m2-26v1m0 2v2m0 4v3m0 32v1m2 0v1m2 0v1m2-47v1m2-1v1m0 2v4m2-10v1m2-2v2m2-1v1m0 23v1m0 25v1m2-51v1m2-1v1m0 46v1m2-48v1m0 1v2m0 2v2m0 15v1m2-25v1m0 49v1m2-50v1m2-1v1m0 1v2m0 2v2m2 0v2m0 6v2m0 6v1m2-26v5m0 16v4m2-21v3m0 2v1m0 7v2m0 6v1m2-22v7m0 37v1m2-42v2m0 2v2m0 4v2m0 5v1m0 24v1m2-44v5m0 6v2m0 7v1m2-22v6m0 14v1m0 23v1m2-42v5m0 11v1m0 23v1m2-40v3m2-5v1m0 1v4m2-6v4m0 14v1m2-21v5m0 1v1m0 12v1m2-18v4m2-3v1m2-1v3m0 37v1m2-41v2m2-2v1m2-2v1m2-1v1m0 1v1m0 15v1m2-20v3m0 14v1m2-18v1m0 18v1m2-20v1m0 19v1m2-19v1m0 16v1m2-19v1m0 16v1m2-18v1m0 16v1m2-19v1m0 18v1m2-20v1m0 16v1m2-17v1m0 16v1m2-16v3m2-6v7m2-7v1m0 1v1m0 1v4m0 31v6m2-40v4m0 9v1m0 17v3m0 9v3m2-49v1m0 2v3m0 32v4m0 1v2m0 3v1m2-46v3m0 10v1m0 24v2m2-39v2m0 10v1m2-12v1m0 9v1m0 28v5m2-44v2m0 34v2m0 2v2m2-42v2m2-2v2m2 0v1m0 11v1m2-14v2m0 27v1m2-29v1m0 10v1m2-12v2m0 10v1m0 14v1m2-28v1m0 10v1m0 15v1m2-29v1m0 1v1m0 11v1m2-13v1m0 12v1m2-15v1m0 13v1m0 14v1m2-29v1m0 10v1m2-12v1m0 11v1m0 16v1m2-30v1m0 36v3m0 3v3m2-46v1m0 39v1m0 2v2m2-40v2m0 2v2m0 2v1m2-12v9m2-4v2m2 40v2m2-15v3m0 11v3m0 6v8m2-36v2m0 12v2m0 14v6m2-37v1m0 11v2m2-14v1m0 9v1m2-12v4m0 2v6m2-4v2m2-36v2m0 28v1m2-31v3m0 23v4m0 4v1m2-36v2m0 22v2m0 7v1m2-33v1m0 3v1m0 22v1m2-28v1m0 3v1m2-5v1m0 25v1m2-26v1m0 3v1m2-5v1m0 3v2m2-1v1m2-5v1m2-1v1m0 4v1m0 48v1m2-50v1m2-5v1m2 4v1m2-5v1m0 3v1m0 25v1m2-31v1m0 3v1m2-5v1m0 4v1m2-1v1m0 18v4m2-27v1m0 3v1m4-4v1m2 0v1m2-1v1m0 1v2m0 9v1m2-13v3m2-3v3m2-3v1m0 1v1m0 13v2m0 2v1m0 6v2m2-29v4m0 10v2m0 10v3m2-28v3m0 10v1m0 10v1m2-25v3m0 10v2m0 2v1m0 5v1m2-23v2m0 12v9m2-23v3m2-3v3m0 14v1m0 3v2m2-23v4m2-3v2m2-1v2m26 15v3m0 5v7m2-12v4m0 4v1m2-12v1m0 1v5m10-14v1m6-4v1m2-2v1m6-3v2m2-3v1m0 9v3m2-13v1m0 11v1m0 1v3m2-16v1m2 4v9m2-8v2m6-4v1m2-6v1m10 9v1m10-15v1m8-1v1m8 10v1m0 1v2m2-4v2m2 0v2m20-1v1m2-2v1m2-2v1m22 2v6m4-10v1m14 0v1m14-3v1m8-1v1m8 5v1m6-3v1m4-1v1m4 2v7m6-15v1m4-1v1m6 1v1m0 7v2m4-7v1m2-1v4m2-3v2m0 1v1m14-6v1m10 0v1m2 6v4m2 2v1m2-10v1m10-4v1m2-1v1m4 6v1m6-1v1m10-7v1m4 23v5m0 18v2m2-28v5m0 26v1m2-40v6m0 3v4m0 18v1m0 3v1m2-41v11m0 7v3m2-28v4m0 12v8m2-26v5m0 1v3m0 7v2m2-16v2m0 6v2m12-10v4m6-9v7m0 2v2m2-10v2m0 2v2m2-9v1m6 1v2m0 1v1m2-5v1m0 9v2m2-10v2m0 10v2m2-13v1m0 13v2m2-10v3m0 6v2m6-19v1m2-1v2m2-2v1m0 3v2m2-4v1m0 9v1m2-12v3m0 8v2m2-7v2m0 2v3m4-13v1m2 0v1m2 0v1m2-3v1m4-2v1m8 8v1m4 2v2m0 1v1m0 7v2m2-14v4m0 2v12m8-18v1m2-1v1m2-1v1m4-6v1m2 11v5m0 1v1m2-9v3m0 5v2m2-16v2m0 6v5m2-17v1m0 10v5m2-15v5m0 11v1m0 1v1m2-17v1m0 13v4m2-23v1m0 1v1m0 16v5m2-3v2m0 2v1m2-26v1m0 12v5m0 1v5m2-28v5m0 9v5m2-17v1m0 13v2m2-14v2m0 7v1m2-5v1m4-9v1m0 8v3m0 4v3m2-21v1m0 4v2m0 7v2m2-17v2m0 9v1m2-12v3m0 2v2m2-7v1m4-2v1m6 8v1m4-7v1m18-2v1m8-1v1m0 7v3m0 1v2"/>
<path stroke="#00e5ff" d="M171 505v6m4 5v1m2-1v1m2-27v4m2-4v1m0 27v2m2 9v2m0 3v1m2-14v3m0 9v1m2-14v1m0 10v1m2-38v2m0 2v5m0 13v1m0 10v1m4-8v1m2-1v1m4-29v1m2 35v1m2-11v1m2 14v1m0 3v1m0 1v1m2-50v1m0 43v5m2-17v1m0 12v2m2-16v1m2-33v3m2 42v1m2-15v2m0 13v1m2-11v1m2-6v1m0 17v1m0 3v4m2-1v4m2-2v1m2-1v2m2-25v1m0 22v1m4-19v1m0 11v1m2-4v1m2-18v1m0 18v1m2 1v1m2-56v1m0 30v1m0 18v2m0 2v1m2-54v1m2 0v1m2 52v6m2-59v1m2 0v1m0 25v1m2-28v1m0 6v20m0 20v1m2-45v2m0 2v4m0 3v13m2-25v1m0 8v1m0 14v1m2-24v6m0 2v2m0 6v2m0 2v3m2-23v14m0 6v2m0 20v1m2-43v2m0 4v6m0 2v1m0 3v4m0 1v1m0 21v1m2-49v17m0 6v2m2-25v13m0 2v3m0 6v1m2-25v1m0 1v13m2-15v1m0 1v8m0 1v6m0 6v2m2-25v3m0 2v10m0 4v2m0 1v2m2-24v1m0 2v2m0 2v8m0 4v2m2-22v16m0 2v2m2-19v24m0 23v1m2-48v1m0 2v2m0 2v16m0 25v1m2-48v6m0 2v2m0 2v2m0 2v6m0 24v1m2-45v16m0 29v1m2-44v2m0 1v3m0 2v2m0 2v6m0 26v1m2-41v14m2-16v2m0 2v4m0 2v5m2-13v3m0 1v2m0 2v7m2-15v5m0 1v8m2-12v11m2-12v3m0 2v2m0 2v3m0 24v1m2-41v1m0 4v4m0 2v2m0 2v1m2-13v3m2-4v1m0 1v3m2-4v4m0 8v1m2-15v7m0 8v1m0 22v1m2-37v2m0 11v1m2-15v3m0 11v1m0 19v1m2-36v6m0 10v1m2-18v6m0 10v1m2-17v1m0 1v2m0 1v2m2-6v2m0 32v3m2-39v3m0 1v2m0 2v2m2-10v3m0 1v2m2-4v2m0 2v2m2-7v3m0 6v4m2-13v3m0 2v2m0 8v1m2-17v1m0 1v4m2-6v6m0 8v2m2-15v9m0 2v2m2-9v7m0 4v2m0 1v1m2-14v4m0 2v2m0 4v3m2-14v3m0 6v2m0 1v1m0 15v3m0 6v7m0 1v1m2-45v2m0 40v1m2-44v3m0 6v1m2-10v4m0 1v2m0 25v3m0 2v4m2-41v3m0 4v1m0 23v4m0 2v6m2-43v3m0 29v6m0 5v1m2-43v4m0 26v4m0 2v2m0 2v1m2-41v2m0 8v1m0 1v1m0 19v1m0 5v1m2-39v3m2-2v2m0 3v2m2-7v2m0 27v1m2-30v2m2-1v1m2-2v1m2 0v1m0 1v2m2-4v1m0 1v4m2-7v2m2-1v1m0 28v1m2-30v1m0 41v2m2-40v2m0 4v1m0 21v4m0 9v1m2-46v10m0 26v3m0 1v2m0 2v1m2-45v4m0 2v2m0 2v2m0 24v3m2-6v1m4 5v1m0 1v1m0 8v4m2-2v2m0 3v1m0 8v1m2-21v3m0 1v1m0 6v3m0 6v1m2-24v2m2-5v3m2-3v1m2-12v7m0 2v1m2-15v2m0 1v5m0 1v2m0 1v2m2-12v2m0 9v1m2-35v3m2-3v1m0 1v1m0 24v2m2-29v1m0 24v2m2-27v4m2-1v1m0 19v1m2-23v1m0 1v1m2-3v1m0 1v2m2-3v1m0 2v1m2-4v1m0 2v1m0 17v4m0 4v1m0 20v3m0 1v1m2-55v1m0 17v6m2-23v1m0 2v1m0 31v2m2-37v1m0 2v1m0 28v3m2-32v1m0 23v3m0 1v2m2-32v1m0 1v1m0 15v2m2-20v1m0 2v1m0 12v3m2-19v4m0 15v4m0 4v1m2-27v3m2-3v4m2-3v3m2-1v1m2-2v1m6 0v1m0 13v1m0 2v2m0 9v2m2-2v1m2-4v1m2-2v1m2-1v1m2-11v6m2-5v3m0 2v2m0 2v1m2-10v2m2-4v5m2-4v3m8-3v1m2-2v1m2 1v1m4-1v1m2-1v1m6 1v1m0 21v1m2-17v5m0 7v2m2-18v4m0 9v2m2-19v5m0 1v1m0 5v2m2-14v3m0 1v2m2-8v1m0 2v4m0 1v2m8-12v1m0 3v2m0 2v2m12-12v3m2 7v2m2 2v1m2-3v4m2-4v2m2-8v2m2-2v1m2-2v1m8-10v1m2 0v1m8 5v1m18-3v1m2 2v9m2-8v1m0 2v4m2-10v2m0 2v5m2-10v5m0 2v3m0 1v1m2-8v1m0 2v2m2-7v1m2-1v1m6 1v1m2 1v1m2-1v1m2-1v1m8-4v1m6-1v1m4-1v1m4-2v1m4-1v1m2 1v1m0 1v1m0 6v4m2-12v2m0 2v3m4-9v1m14 1v1m2 1v1m8-4v1m8 4v2m2-8v1m2 1v1m2 1v1m6 5v3m0 1v2m6-16v1m4 6v9m2-16v6m0 7v3m2-16v1m2-2v1m4 0v1m6-2v1m0 3v1m0 3v1m2-3v3m0 2v4m2-3v1m0 1v3m4-9v3m2-7v1m0 4v1m2-6v6m2-5v1m2-2v1m10-2v1m2 0v1m2-1v1m2 0v1m4 4v1m0 4v3m2-6v5m0 1v1m0 2v1m6-17v2m4-2v1m18 9v2m2 33v2m6-42v2m0 23v2m0 8v2m2-18v1m0 25v1m2-32v3m2-17v1m0 6v2m0 6v2m0 28v1m2-43v1m0 11v7m0 3v4m2-8v2m2-30v2m0 18v3m2-9v1m2-12v3m2-4v1m8-1v2m0 4v1m2-10v3m2-5v5m0 2v3m2 3v1m2-9v2m0 2v2m6-10v1m2 2v1m0 1v1m2 6v1m2 3v1m2 2v1m2 0v2m2-14v1m2-9v1m6 6v1m2 6v1m2-14v1m0 13v3m2-11v1m0 7v3m6-14v1m4-2v1m2-3v1m4 2v2m2 3v3m8-1v2m0 13v4m2 0v4m6-22v1m0 7v3m2-9v6m2-7v2m4-9v1m4 9v3m0 7v2m2-13v2m0 10v1m2-20v3m0 13v1m2-19v1m0 16v2m2 0v1m0 1v1m2-22v4m0 18v5m2-27v1m0 22v6m2-7v2m0 1v7m0 2v2m2-19v1m0 5v3m2-12v3m0 1v2m2-24v1m0 16v2m2-6v1m2-8v2m0 1v1m2-10v4m0 11v7m2-14v1m0 10v2m2-20v2m0 11v1m2-6v1m2-6v1m14 2v1m4-10v3m2-2v3m4-5v1m6-3v1m6 3v6m2-5v5m2-8v2m2 0v7m0 3v1m0 2v2"/>
<path stroke="#00f6ff" d="M171 501v4m2-16v1m4 0v1m2 3v3m0 1v1m2-8v3m0 22v1m2 18v4m2-5v1m4-46v5m0 2v2m0 5v7m0 2v2m4 5v1m2-1v1m2 1v1m2-29v2m4 18v5m0 3v1m2-1v1m0 12v3m0 1v1m0 1v2m2-3v1m2-3v2m2-4v1m2-44v2m0 26v1m0 14v1m2-16v1m0 14v2m2-11v1m2-6v1m0 2v1m0 20v6m2-61v1m0 28v1m0 21v1m0 4v6m2-31v1m0 27v1m2-2v2m2-1v1m2-27v1m0 24v1m2-3v1m2-5v1m4-23v1m2 22v2m2-28v1m2 20v1m2-23v1m2-29v1m0 28v1m0 19v5m0 6v2m2-36v1m2 21v1m2-47v6m4-4v8m0 1v14m0 22v1m2-40v2m0 2v6m0 2v2m0 26v2m0 2v5m2-41v6m0 2v1m2-11v2m0 1v3m0 4v1m2-9v6m0 25v2m2-37v2m0 3v6m0 23v3m2-49v1m0 13v8m0 27v1m2-50v1m0 8v1m0 6v6m0 26v2m2-48v2m0 10v4m0 2v1m2-7v4m0 2v1m0 26v1m2-34v2m0 2v3m6-11v2m4-2v2m6-1v1m0 34v1m2-34v1m4-2v2m0 2v2m2-4v2m0 2v2m0 26v1m2-36v11m2-10v9m0 26v1m2-36v8m2-7v5m2-8v3m0 1v2m0 2v2m2-10v7m2-5v5m0 1v4m2-11v4m0 1v1m2-8v1m0 2v10m2-14v12m0 23v1m2-37v1m0 2v2m0 2v8m0 20v1m2-36v1m0 2v13m2-15v2m0 2v10m2-14v6m0 4v3m2-13v2m0 2v8m2-15v1m0 4v12m2-12v8m2-4v2m0 2v3m2-5v4m0 2v1m2-9v2m0 2v4m0 16v1m2-25v6m0 2v1m0 32v1m0 1v1m2-44v7m0 34v1m2-42v6m0 34v2m2-41v1m0 2v3m0 31v7m2-45v4m0 1v2m0 25v2m0 6v4m2-44v6m0 35v1m2-40v6m0 1v1m0 29v1m2-40v8m0 1v1m0 19v1m0 1v5m0 1v1m2-37v8m0 19v4m0 3v3m2-37v3m0 2v2m0 1v1m0 19v3m0 4v2m2-37v7m0 2v1m0 16v1m0 1v2m2-30v8m0 19v1m2-28v9m0 16v1m2-27v9m2-8v1m0 2v7m0 17v6m2-33v1m0 4v6m0 15v2m2-28v11m2-11v9m2-9v10m0 18v2m0 1v10m0 2v2m2-46v4m0 2v4m0 36v1m2-37v1m2 28v1m4-7v1m2 2v1m0 1v1m0 1v1m0 13v4m0 2v2m2-8v3m0 10v1m2-19v1m0 1v3m0 1v2m0 10v1m2-23v2m0 13v5m2-22v1m2-3v1m2-3v3m2-16v1m0 8v1m0 2v1m4-4v1m2-32v1m0 27v1m2-29v2m0 24v1m4-27v2m2-1v1m2-1v1m2 0v2m2-2v2m0 22v4m0 1v1m0 17v2m0 5v1m2-55v3m0 20v3m0 14v3m0 3v2m0 3v2m2-52v2m0 17v1m0 13v1m0 2v6m2-42v2m0 15v1m0 12v1m0 3v2m2-36v2m0 17v2m0 4v1m0 6v1m2-32v1m0 18v3m2-22v2m0 16v4m0 7v7m2-9v2m8-27v1m6 13v1m0 11v4m2 1v1m4-5v2m2-3v3m2-3v1m2-6v3m2-4v1m0 5v1m2-12v1m0 2v4m2-3v1m2-2v2m14-1v1m6-3v1m0 22v7m2-35v3m2 4v1m0 8v12m0 1v1m2-4v1m2-4v1m2-6v2m2-13v1m0 2v7m2-13v1m0 4v1m0 2v1m4-12v1m2 1v3m2-4v2m0 2v2m0 2v1m10-15v1m2 4v1m2 8v3m2 0v1m4-2v2m2-8v1m10-12v1m6 5v1m4 14v3m4-25v1m16 5v1m2 10v1m2-2v1m2-2v2m0 1v2m2-5v1m0 1v2m2-9v2m0 2v3m4-9v1m2-1v1m2-3v1m12 4v3m6-7v1m2-2v1m8 0v1m4-1v1m4 2v1m0 11v3m2-17v2m0 2v2m0 3v4m6-7v6m2-7v1m4-2v1m20-1v3m2-9v5m2 2v1m2-5v3m6 0v2m2 15v4m2-22v7m0 3v1m0 2v3m2-14v5m8-7v1m0 1v2m0 9v7m2-7v7m2-11v2m0 1v4m12-19v3m0 1v3m0 1v2m2-9v4m0 9v4m2-13v6m0 1v1m0 3v4m2-16v1m2 5v1m2-2v1m2-1v1m6-15v1m4 6v1m14 14v1m2 0v2m0 1v1m4-13v2m2-9v2m0 2v2m10-4v1m10 9v1m2 1v1m2-2v1m0 32v1m2-1v3m4-40v3m0 19v1m0 2v8m0 2v4m2-42v1m0 18v1m0 27v1m2-34v1m0 35v1m2-49v1m0 2v3m0 39v2m2-51v6m0 26v2m2-8v2m2-9v1m2-9v1m2-10v2m10 1v1m2-8v4m2-4v2m0 3v2m2 2v1m2-4v1m6-10v1m2 4v1m2 6v1m2 3v3m2 0v3m2-1v2m8-21v1m4 11v1m2 2v3m2-18v4m0 11v1m2-15v1m2-2v1m2 1v1m2-1v1m2-2v1m6 1v2m2 4v4m2-5v1m4 7v4m2 7v2m4-20v1m0 17v9m4-25v6m0 3v1m2-11v1m0 6v10m2-15v1m8 12v1m2-1v1m8 4v1m2 1v3m0 2v1m2-3v2m0 2v2m2-12v9m2-18v1m0 2v10m2-15v2m2-7v1m2-5v1m2-7v1m0 9v1m0 7v6m2-7v2m2-24v2m0 14v1m2-6v1m12-10v1m8-1v2m2-1v1m6-6v1m6 1v1m2-1v2m0 1v2m0 2v1m2-2v2m2-2v1m2-7v4m2 11v4m0 2v1"/>
<path stroke="#09fff6" d="M171 497v4m6 14v1m2-19v1m0 1v1m0 15v1m2-22v1m2 23v1m0 9v1m0 10v3m2-7v1m4-26v2m0 2v2m0 12v1m6-11v1m2-30v1m2 5v2m2-9v1m2 20v4m0 24v7m4-23v1m0 18v1m2-20v1m0 17v1m2-50v1m0 29v1m0 15v1m2-43v4m0 38v1m2-48v1m0 61v1m0 2v1m2-65v1m0 28v1m0 16v1m0 11v1m0 1v4m2-34v1m0 1v1m0 15v1m0 5v1m0 6v3m2-54v2m0 4v4m0 6v3m0 20v2m0 11v1m2-33v1m0 29v3m2-3v2m2-63v1m0 31v1m0 28v1m2-30v2m0 26v1m2-3v1m2-5v2m2-22v1m0 15v1m2-50v1m0 28v1m2 1v1m0 23v2m2-59v2m0 25v2m0 25v1m2-54v1m0 26v1m2-27v1m0 57v6m2-39v1m0 34v2m2-62v1m0 15v2m0 2v4m2-23v10m6 37v2m2 0v2m0 5v2m6-10v1m2-1v3m2-2v2m2-2v4m2-8v6m2-4v3m2-3v7m14-8v1m2-1v1m10-1v1m2 0v2m2-5v1m2-28v3m2-8v1m0 2v2m0 2v1m2-4v4m2-4v1m0 23v1m2-27v1m0 1v4m0 33v2m2-15v1m2 2v1m2-6v3m0 1v1m2-5v1m16-1v1m0 16v3m4-3v1m2-1v6m2-3v2m2-3v2m2-4v2m2-36v1m0 31v2m2-4v2m0 2v3m2-13v3m0 3v3m2-33v1m0 23v4m0 2v2m2-32v2m0 21v3m2-5v1m2-3v1m2-2v2m2 6v1m2-6v1m2-2v1m2 1v1m0 6v4m2-10v1m0 14v5m2-4v2m2-4v1m4-12v1m4 2v1m0 20v2m0 2v4m2 2v1m2-15v1m2-8v5m0 2v6m0 5v1m2-22v3m2-5v2m2-2v1m2-4v2m2-3v1m4-6v1m2-3v1m2-3v1m10 6v2m0 14v1m2-8v1m0 3v3m0 2v3m0 2v2m2-34v2m0 20v3m0 2v3m2-32v2m0 9v1m0 6v3m2-18v2m0 1v1m0 8v1m2-11v2m2-2v2m0 3v2m0 7v2m2-9v1m2-13v1m8-3v1m2 2v1m2-2v1m0 7v3m0 4v2m2 0v1m2-3v1m2-2v1m2-1v1m2-3v1m2-4v5m2-2v1m2-6v1m2-3v2m2-2v1m4-6v1m2-1v1m12 26v4m2-8v2m0 7v2m2-34v1m0 17v3m0 1v11m2-28v2m0 4v2m0 14v2m2-5v2m2-5v1m2-5v1m2-4v2m2-16v1m0 9v2m6-9v1m2-6v1m0 9v2m8-14v1m2-3v1m4 15v1m2 0v1m2-1v1m4-8v2m8-13v2m2-2v2m8 8v1m2 1v8m0 3v2m6-29v1m14 9v2m0 4v3m2 1v1m2-2v4m2-4v1m0 2v1m0 1v1m2-4v3m2-5v1m2-10v2m2-1v2m2-2v1m14 4v4m2-8v2m10-4v1m12 16v1m2-5v1m6-2v4m2-10v2m2 0v1m4-5v1m8 1v2m2-2v1m6-1v2m2-11v1m0 2v4m0 3v1m2-5v1m2-6v2m0 4v1m0 3v1m6 21v2m2-26v2m0 18v3m2-23v1m0 13v1m0 4v2m2-8v3m2-12v4m2-10v1m4 16v1m0 2v1m2-21v1m0 18v2m2-2v1m2-23v2m0 11v1m0 4v3m10-21v1m2 8v2m2 6v2m2 0v1m2-16v5m2 1v1m2-2v1m2-1v2m8-14v1m14 5v1m2 13v2m2 2v2m4-13v1m2-4v1m2-3v1m6-2v2m2-2v2m6 5v1m2-1v1m2 2v1m2 1v1m0 31v2m2-35v1m0 34v1m2-46v1m0 40v1m0 3v1m2-46v1m0 31v4m2-11v2m0 17v1m2-42v1m0 16v1m0 29v1m2-50v2m0 12v1m0 37v2m2-50v2m0 44v2m2-19v3m2-9v2m2-10v3m2-11v3m2-11v1m4-7v1m4-1v2m0 8v6m0 14v1m2-23v1m2-5v1m2 2v3m2 0v1m2-4v2m10 1v1m2 5v1m2 2v1m2 0v2m6-24v1m2 1v1m2 3v1m2 7v2m2 3v2m2-4v2m2-16v1m2-2v1m2 1v1m2-1v1m2-2v1m2-4v1m0 1v1m2-3v1m2 5v6m2 2v4m2-8v1m4-2v1m0 5v2m0 4v3m2 6v2m2 0v8m2-29v1m0 15v1m0 9v4m2-7v2m2-25v1m0 10v4m2 2v2m2-16v2m0 12v3m6-17v6m2 7v2m2-2v4m2-8v1m2-1v1m2 2v1m2 5v3m2 1v2m0 1v1m2 2v2m2-5v1m2-6v3m2-16v1m2-7v2m2-6v1m0 7v4m0 1v2m2-21v1m0 7v1m0 14v1m0 1v1m0 22v2m2-48v1m0 15v5m10-31v1m8 8v3m6-6v2m2-2v1m8-8v1m4 3v1m2 0v1m0 2v2m0 1v1m2-1v2m2-3v2m2-5v1m2 14v2m0 1v3"/>
<path stroke="#1affe5" d="M171 490v7m2 18v1m0 9v1m4-32v2m0 2v2m2 0v4m2-9v1m0 42v2m2 2v4m4-57v1m0 26v1m0 15v1m4-7v1m2-10v2m2-2v1m2 2v1m2-24v1m2 23v1m2-31v1m0 14v3m2-20v1m0 30v1m0 21v1m2-2v1m2-53v1m2 1v4m0 42v1m2-40v3m0 18v1m0 34v1m2-36v1m0 17v1m0 12v1m0 1v2m0 1v2m2-39v1m0 6v1m0 11v1m0 9v1m0 1v1m0 4v2m2-33v1m0 30v3m2-62v1m0 1v1m0 1v1m0 2v4m0 4v6m0 37v2m2-36v1m0 33v2m2-33v1m0 29v1m2-2v1m2-34v3m0 29v1m2-27v1m0 23v1m2-4v1m2-57v1m2 27v2m0 22v1m2-53v1m0 30v1m0 26v1m2-58v12m0 9v4m0 28v1m2-54v1m2 48v1m0 5v3m0 6v2m2-42v1m0 1v1m0 35v2m2-55v3m0 1v3m0 2v2m0 27v1m2-37v15m6 24v1m2 8v1m4-12v1m2 1v4m2-2v4m2-4v3m4-3v4m2-5v4m2 0v1m2-8v1m10-3v2m2 0v1m2-1v1m2-2v1m4-2v1m4 5v2m2-4v1m2-5v1m8 10v2m2-18v1m0 11v1m0 2v1m2-8v5m2-9v1m4-6v1m2-2v2m2 0v1m8-3v1m2 19v2m2-7v2m0 3v2m2-3v1m0 3v2m2-7v3m0 2v2m2 0v1m2-4v2m2-3v1m2-3v1m0 3v2m2-8v2m0 2v2m2-8v2m0 3v2m2-6v3m2-4v2m2-8v2m2-6v2m2-4v1m2-1v2m6-1v1m2 1v6m0 4v15m2-5v3m2-5v2m4-11v1m6 25v1m0 1v1m2 0v1m2-2v1m2-17v2m0 12v1m2-20v3m2-6v2m2-3v1m6-8v1m2-3v1m4-5v1m2-4v1m4-3v1m2-3v2m2 23v4m0 9v1m2-30v1m0 10v2m0 16v2m2-34v1m0 9v1m0 12v2m0 3v3m2-33v2m0 5v2m0 10v2m2-18v1m0 10v1m2-10v2m2-2v3m0 11v2m2-10v1m12-12v1m2-2v4m0 2v1m0 9v2m2-1v2m2-4v1m2-2v1m0 1v3m2-5v3m2-5v2m2-1v2m0 1v1m4-10v1m2-2v2m2-3v2m2-9v1m6 1v1m10 29v1m2-11v2m0 11v2m2-35v1m0 19v1m0 11v1m2-27v4m0 18v7m2-10v3m0 6v1m2-14v1m2-5v1m2-3v1m2-5v1m2-14v1m2-1v1m2 4v2m0 7v2m2-5v2m2-14v3m8-6v1m2 3v1m2 11v1m4 0v1m2-2v2m2-7v1m2-5v1m2-2v1m2-4v2m2-5v2m2-2v1m8 8v10m2 4v2m20-22v1m0 2v4m0 3v3m2-1v2m2 0v2m2-2v1m0 1v1m2-2v1m2-5v2m2-10v4m2-3v1m2-2v2m12 0v1m0 8v1m2-4v1m2-7v4m12-7v1m8 12v8m2-4v2m2-6v2m6 0v2m2-10v2m12-5v1m2 2v2m2-3v2m2-3v1m4-7v1m0 4v1m2-8v2m2 4v1m2-5v4m0 5v2m2-7v2m4-1v3m0 21v1m0 2v2m2-26v1m0 16v1m0 3v2m2-24v2m0 10v1m0 7v1m2-6v2m2-10v3m6-13v1m0 13v3m0 1v2m0 1v2m2-2v5m2-6v4m2-25v1m0 6v2m0 10v2m2-24v1m2-2v1m8 12v2m2 6v5m2-4v1m2-12v4m4-3v1m2 0v1m0 1v1m12-12v1m6 0v1m2 0v1m2-1v2m2 13v1m2 3v2m2-18v2m2 2v3m2-6v2m2-4v1m4-3v1m2 1v1m2-1v1m2 4v1m2-1v1m2 0v1m4 2v1m2 31v1m0 2v1m2-35v1m2-11v1m0 38v1m2-40v1m0 27v3m0 4v3m0 1v1m2-33v1m0 15v1m0 20v1m2-42v1m0 46v1m2-49v1m0 10v1m2 38v1m2-17v1m2-8v1m2-8v2m2-10v1m2-11v1m2-7v1m4-4v1m0 15v4m2-16v8m0 6v3m0 6v5m0 1v1m0 2v1m4-30v1m4 5v2m4-17v1m2-2v1m2 2v1m2 4v1m2 7v2m2 4v2m2 1v2m8-23v1m6 14v2m2 3v4m2-6v1m2-16v2m2-3v1m2 1v1m6-5v1m2-1v1m2 10v10m2-4v2m2-9v2m2-4v1m2 0v2m0 1v2m0 9v1m2 7v1m2 7v2m0 2v1m2-33v1m0 13v1m0 14v4m2-35v1m0 22v1m0 2v5m2-15v1m2 3v7m0 1v2m2-24v1m0 7v4m0 3v6m2-26v2m2-8v1m2 0v1m0 5v2m0 6v3m2 6v1m2 1v1m2-8v1m4 2v1m2 7v1m2 4v3m2 1v1m2-5v1m2-4v1m2-16v4m2-9v1m2-6v1m0 5v1m0 4v1m0 2v1m2-15v1m0 16v1m0 1v2m0 19v1m0 2v1m2-55v1m0 26v2m2-14v1m2-6v1m2-7v1m2-8v1m6 0v1m2 6v5m2-2v1m2-2v1m2-9v1m0 1v1m2 2v1m4-8v1m8-3v1m2 4v2m4 6v1m2-2v1m2-5v8m0 4v2m0 6v2m2-2v3"/>
<path stroke="#2bffd4" d="M171 525v3m2-2v1m2-38v1m0 35v1m2-35v3m0 2v2m0 2v8m0 6v1m2-11v4m0 2v2m0 2v1m2-19v3m0 38v1m0 2v2m2-54v1m0 28v1m0 28v2m2-32v1m0 19v1m2-22v1m6-27v1m0 26v1m2-27v1m0 25v1m2 2v1m2-22v2m2 42v5m2-44v3m0 38v1m2-27v2m0 23v1m2-53v1m2 27v2m2-26v5m0 19v1m2-19v1m0 35v1m0 13v3m0 1v4m2-21v1m0 10v1m0 7v1m2-54v2m0 11v1m0 4v3m0 31v2m2-39v1m0 37v1m2-67v4m0 1v1m0 1v1m0 56v2m2-41v3m0 36v1m2-68v1m0 64v1m2-34v1m0 31v1m2-64v1m0 26v2m4-29v1m0 35v2m0 1v1m2-7v1m0 17v1m2-25v1m0 31v2m2-31v1m2-18v9m2-20v6m0 1v2m0 39v1m0 14v6m2-69v1m0 20v4m0 24v1m0 3v1m0 11v3m2-70v1m0 12v2m0 4v6m0 40v4m2-67v8m0 3v1m0 35v1m0 7v4m4-13v1m2-2v1m2 4v1m2 8v1m2-16v1m2 3v1m2 4v2m2 0v1m2-2v2m2-3v3m2-1v1m2-2v2m2-1v3m2-12v1m0 1v2m2-3v1m2-2v1m2 0v1m2 0v1m4-1v1m2-1v2m2-3v1m2-3v2m2-1v1m2 10v1m2-11v1m0 1v2m0 2v1m2-4v1m2-5v1m2-3v1m4-4v1m2 13v1m0 2v1m2-18v1m0 14v1m2-16v1m0 11v1m2-9v1m4-6v2m2-2v2m2-1v1m2-4v1m2-1v1m2-1v1m2 0v1m0 21v4m2-27v1m0 17v2m0 2v2m2-23v1m0 20v1m2-3v3m0 2v4m2-8v2m0 2v1m0 1v1m2-5v2m0 1v1m2-3v1m2-3v1m2-3v3m0 2v3m2-9v2m0 2v2m2-3v2m2-5v1m2-3v1m2-7v3m2-7v2m2-5v2m2-1v3m2 2v1m2-6v1m2 16v10m0 1v2m0 2v1m2-7v5m0 1v2m2-10v2m2-5v1m6-17v1m2 12v4m2 15v1m0 1v1m2 0v1m2-2v1m2-3v1m2-18v5m0 5v2m2-16v1m2-3v1m2-4v1m6-7v1m2-4v1m2-2v1m2-4v1m2-5v1m2 1v1m2-2v1m2 12v1m0 8v1m0 14v1m2-21v1m0 20v1m2-34v2m0 5v2m0 21v2m2-33v2m0 1v2m0 14v2m4-16v1m0 12v5m2-4v3m2-12v1m2-14v1m12 3v2m0 12v1m2 0v1m2-4v2m2-3v1m0 3v1m2-3v1m2-4v1m2 0v1m2-4v1m2-5v1m2-1v1m2-2v1m2-9v2m2-1v1m2-1v2m2-1v1m2-3v2m2 0v1m2 2v1m2-4v1m2-1v1m0 22v2m0 5v1m2-30v1m0 16v1m2-19v1m0 14v1m0 16v3m2-1v2m2-9v2m0 2v2m0 1v1m2-14v1m2-5v1m4-7v1m2-14v2m0 1v1m2-4v1m2 5v1m0 4v2m0 2v1m2-4v2m2-13v2m2-6v1m2-2v1m2 0v1m2-2v1m2 3v2m2 10v1m2-1v1m2 0v1m2-1v2m2-8v1m4-6v1m2-3v3m2-6v2m0 2v3m2-8v2m2-6v1m6 21v2m2 4v2m2-15v7m0 1v2m0 2v6m2-33v1m10-5v1m2 0v1m4 21v1m0 1v1m2-2v1m2 1v3m2-2v3m2-4v2m2-5v1m2-7v1m2-3v1m2-1v1m10-1v1m2 0v1m0 6v1m2-2v1m2-4v3m2-10v1m10 0v1m2-3v1m2-1v1m2 22v3m2-26v1m0 11v2m0 8v2m2-4v1m4-20v1m4 16v1m2-9v1m8-9v1m4 3v1m2 3v1m2-2v1m2-3v2m2-7v1m2-2v4m0 3v1m2-1v1m2-4v7m2-1v1m4-9v1m0 15v1m0 12v6m2-30v8m0 12v1m0 5v1m2-26v2m0 20v1m2-23v2m0 7v1m0 9v1m2-5v1m2-8v3m2-15v1m2-5v1m0 24v2m2-23v2m0 5v6m0 9v8m2-5v2m2-4v2m2-26v6m0 14v1m2-24v3m2-4v1m4-2v1m2 2v1m2 11v1m0 12v2m2-4v2m2-5v1m2-9v2m2-4v3m4-2v1m0 1v1m0 2v2m2-15v1m12-3v1m2 0v1m2 0v1m2 0v3m2-2v1m0 12v1m2 0v5m2 0v1m2-17v3m0 4v6m0 5v2m2-15v1m2-5v5m2-8v1m0 11v2m2-17v1m2 0v1m2 1v1m2-1v1m2 4v1m2-1v1m4-1v1m2 3v2m2-1v1m2 28v1m0 4v1m2-8v1m0 6v1m2-8v1m0 1v2m2-34v1m0 36v1m2-42v1m0 13v1m0 32v2m2-41v1m0 41v1m2-2v1m2-17v3m2-10v1m2-7v1m2-10v1m2-11v1m2-7v1m2-2v1m2-3v1m0 13v1m0 4v4m0 16v2m2-21v6m0 7v2m0 1v2m2-28v1m2-4v1m2 3v1m2 2v1m2-5v1m2-13v3m2-4v1m4 7v1m2 8v1m2 5v2m2 1v4m2-4v2m2-19v3m0 4v1m2-16v1m4 3v1m4 14v4m2 3v1m2-6v2m2-16v2m2-4v1m2 1v1m2-2v1m4-3v1m2-2v1m2 19v2m2-4v1m2-8v1m4-2v1m0 12v1m0 24v1m2-18v3m0 6v9m2-9v2m0 1v3m2-35v1m0 11v1m0 19v2m2-36v1m0 19v2m0 8v5m2-19v1m0 12v2m2-5v1m0 2v4m2-27v2m0 2v1m0 15v4m2-10v5m2-30v1m2 0v5m0 11v1m2 6v1m2 1v2m2-9v2m2-3v1m2 3v1m2 7v2m0 14v2m2-11v3m0 5v3m2-9v2m2-6v1m2-4v1m2-13v3m2-11v1m2-6v2m0 12v1m2-22v1m0 26v1m0 17v1m0 4v1m2-55v1m0 3v1m0 23v1m0 1v1m2-16v1m6-19v1m4-3v1m4 4v4m0 5v1m4-3v1m2-9v1m0 1v1m2 2v1m2-3v1m2-6v1m2-2v1m2-1v1m4-2v2m2 4v1m2 4v1m4 0v2m2 1v4m0 2v6m0 2v10m2-9v4"/>
<path stroke="#3cffc3" d="M173 490v1m0 36v1m2-13v1m2-8v3m0 1v2m2-6v2m0 2v2m2-15v1m0 15v1m0 20v1m0 5v2m2-19v3m0 20v2m2-61v1m0 47v2m6-12v1m4-14v2m2-26v1m0 27v1m2-19v3m0 1v1m0 16v1m2-3v2m0 26v1m2-48v3m0 42v1m2-29v1m2-26v4m0 46v1m2-25v1m0 21v1m2-41v2m0 36v1m0 15v6m2-58v4m0 12v1m0 19v1m0 20v3m2-72v1m0 27v1m0 39v3m0 1v1m2-69v10m0 2v4m0 6v1m0 21v1m0 7v1m0 11v5m2-75v1m0 50v1m0 3v1m0 14v2m2-3v1m2-69v1m0 24v2m2 0v3m0 1v2m0 32v1m2-65v2m0 24v4m2-8v4m0 35v1m2-63v1m2 34v1m0 2v1m2 13v1m0 11v1m2-63v4m0 1v1m0 16v3m0 26v2m0 2v2m0 2v3m2-35v1m0 29v3m2-7v2m0 10v8m2-67v1m0 2v4m0 2v10m0 36v2m0 6v3m2-69v4m0 4v10m0 29v3m0 15v3m2-68v8m0 2v4m2 31v1m0 3v3m0 4v3m2-16v2m4-2v1m2 4v1m2 8v2m2-17v1m2 3v1m4 6v3m2-3v1m2-1v2m2-2v2m2-2v1m2 1v1m2-9v2m2-4v1m2-2v1m2 0v1m2 0v1m2-3v1m2 1v2m2-1v1m2-3v1m2-2v1m4-2v2m0 6v3m0 1v1m2-11v1m4-2v1m4-3v1m0 9v2m2-15v1m0 17v1m2-20v1m0 12v1m0 4v1m2-18v2m0 7v1m2-10v2m0 3v1m2-2v1m2-4v1m4-2v1m2-1v1m2-4v1m2-1v1m2-1v1m2 0v1m0 19v1m0 4v1m2-27v1m0 22v3m2-13v1m0 8v8m2-2v2m2-5v1m0 1v1m4-4v1m2-3v4m0 2v1m0 1v1m2-4v2m2-5v2m4-7v2m2-4v1m2-5v1m2-6v1m2-4v1m2 1v1m2 2v1m2-6v1m0 20v9m2-31v1m0 14v2m0 10v1m0 2v2m0 1v3m2-5v1m0 2v2m2-10v3m2-7v1m8-19v1m0 12v1m0 4v3m0 8v1m2 6v1m4-1v1m4-16v5m0 2v3m2-18v1m2-3v1m2-4v1m2-4v1m6-7v1m4-5v1m2-5v2m2 0v1m4 11v1m0 6v1m2-14v1m0 7v1m0 22v1m2-33v1m0 2v2m0 25v3m2-34v1m0 18v7m0 3v3m2-21v1m2-8v1m0 9v2m0 5v2m2-3v3m2-14v2m12-14v1m2 16v4m0 9v1m4-15v1m2 1v4m2-6v2m0 7v1m2-13v1m2 1v1m4-9v1m2-1v1m4-9v1m2-1v1m2 0v2m4-3v1m2 0v1m2 2v1m2-4v1m2-1v1m0 20v1m0 8v1m2-30v2m0 30v1m2-34v1m0 33v1m2 0v3m2-10v2m0 4v4m2-17v1m4-8v1m4-16v1m0 1v4m4-1v4m0 5v1m2-3v1m2-12v4m2-9v1m2-2v1m6 4v1m4 10v1m2 0v1m2 0v2m2-9v1m2-6v2m2-2v1m2-1v6m2-10v2m0 3v1m2-7v1m6 0v1m2 16v1m2 5v2m2-25v2m0 5v1m0 7v1m0 2v2m0 6v1m0 1v1m0 5v1m6-45v1m2-2v1m2 0v1m8 22v1m0 1v1m0 8v11m2-21v4m2 0v4m2-3v2m2-4v5m2-9v1m2-7v2m2-4v1m2-1v1m2-7v1m2 2v1m2 1v1m2-1v1m4 1v3m0 5v2m2-4v3m2-4v1m2-10v1m2-3v1m4 0v1m4 1v3m2-5v1m2 26v2m2-30v1m0 20v2m0 3v3m2-28v2m0 8v1m0 12v2m2-5v1m2-6v1m4-16v1m2 17v2m2-10v1m2-3v1m2-5v1m6-3v1m2 3v1m2 3v3m2-4v1m2-2v1m0 22v1m2-30v1m0 5v1m2-1v1m4 2v6m4-12v1m0 29v3m2-35v1m0 13v1m0 1v1m0 10v1m0 6v1m2-4v1m2-25v1m0 12v1m0 7v2m2-23v2m0 3v2m0 11v1m2-5v1m2-6v1m2-15v1m2 18v1m0 2v3m0 5v2m2-31v5m0 23v2m2-5v3m2-5v1m2-6v1m2-22v1m2-4v1m2-1v2m2-3v1m2 2v1m2 11v1m0 9v2m0 2v1m2-3v1m2-5v1m2-8v3m2-4v2m2-5v1m2 3v2m0 2v2m2-16v1m2-3v1m2-9v1m10 8v1m4 3v3m2-4v12m0 1v2m2 3v3m2-2v3m2-17v4m0 6v5m0 2v2m2-16v2m2-2v1m0 1v1m2-10v1m0 6v2m0 1v1m0 2v3m2-19v1m2 0v1m2 1v1m2-1v1m2 4v1m2-1v1m2-1v1m4 4v1m2-1v1m0 27v1m0 4v1m2-35v1m2-11v1m0 34v2m2-37v1m0 25v1m0 14v3m2-36v1m0 12v1m0 23v1m2-42v1m0 11v1m0 35v1m2-51v2m0 6v1m0 43v1m2-2v2m2-16v13m2-22v1m2-7v1m2-10v2m2-12v1m2-7v1m0 36v4m2-42v1m0 32v11m2-46v1m0 11v1m0 9v1m0 5v10m0 2v3m2-6v2m2-29v1m2-4v1m2 3v1m2 2v1m0 15v2m2-22v1m4-14v1m2 1v1m6 21v2m4 1v1m2-17v4m0 1v2m2-17v1m2 1v1m4 4v1m2 14v6m2-2v3m2-7v1m2-15v2m2-5v1m4 0v1m2-3v1m4-2v1m2 20v2m2-5v4m2-11v1m2-5v1m0 40v4m2-29v1m0 18v5m0 1v4m2-19v6m0 9v2m2-5v4m2-5v3m2-4v3m2-21v2m0 7v3m0 2v4m2-2v1m2-26v2m0 1v2m0 17v1m2-29v1m0 15v2m0 5v2m2-31v1m2 16v1m2 6v1m4-5v1m2-3v1m2 3v1m0 23v1m2-16v2m0 16v4m2-14v1m0 1v3m0 3v4m4-16v1m4-14v2m2-12v3m2-7v3m0 10v1m2-22v1m0 26v1m0 15v1m2-48v3m0 25v1m0 1v1m4-22v1m6-15v1m6 13v1m4-3v1m2-7v1m2 2v1m2-3v1m8-9v2m0 31v2m0 6v2m0 6v4m2-51v1m2 4v3m2 2v1m2 0v1m2 0v1m4 19v1"/>
<path stroke="#4dffb2" d="M171 528v1m2-38v7m0 16v1m4-4v1m4-12v1m0 1v1m0 32v1m0 8v1m2-29v1m0 33v1m4-37v1m2 14v1m2-2v1m2-16v3m2-4v2m2-23v1m0 24v2m2-15v1m0 1v1m2-17v1m0 21v1m0 6v1m0 22v1m0 6v1m2-52v3m2 16v1m0 27v1m2-49v4m0 20v1m2-23v2m0 2v1m0 1v3m0 10v1m2-16v3m0 13v1m0 20v1m0 13v1m0 6v4m2-58v2m0 42v1m0 11v3m2-74v9m0 39v1m0 8v1m0 12v1m0 1v2m2-74v3m0 16v6m0 23v1m0 23v2m2-49v3m0 21v1m0 1v1m0 17v1m4-56v1m0 1v7m0 42v1m2-43v2m0 3v1m2-26v2m0 18v2m2-5v1m2 37v1m2-27v1m0 22v1m0 9v1m2-51v2m0 9v3m0 1v1m0 20v1m0 9v1m0 1v2m2-61v1m0 1v5m0 8v3m0 31v2m0 7v1m2-37v1m0 33v1m0 8v5m2-19v2m0 6v2m0 8v3m2-63v2m0 34v1m0 10v1m0 11v3m2-74v2m0 4v4m0 60v2m2-74v4m0 64v6m2-24v3m0 10v8m4-23v1m2-1v1m2 4v1m2 9v1m2-17v1m2 3v1m2 4v2m2 2v1m2-3v1m2 0v1m2-1v1m2-2v1m2 1v1m2-8v3m4-7v1m4 1v1m2-3v3m2 0v1m6-4v2m2-3v1m2 0v1m0 4v1m2 0v1m2-4v1m4-7v1m2 0v2m0 6v1m0 2v1m2-15v1m0 9v1m0 2v4m0 1v2m2-21v1m0 7v4m2-10v6m2-6v3m0 7v1m0 8v4m0 2v1m6-28v1m8-3v1m2-1v1m0 22v2m2-24v1m0 17v1m0 6v2m2-28v1m0 24v5m2-30v1m0 28v3m2-3v4m2-6v2m2-4v3m2-4v2m2-1v2m0 1v1m0 1v1m2-3v3m2-6v1m2-4v1m4-6v1m2-5v1m2-6v2m2-5v1m2 1v2m4-4v1m0 17v2m0 9v5m2-35v1m0 11v2m0 21v1m0 1v1m2-3v4m2-11v5m2-11v1m2-8v1m2-6v1m2-6v1m2 9v1m0 8v3m0 2v3m0 1v6m2 1v2m2-2v1m4-4v1m2-4v1m2-18v3m8-14v1m2-2v1m2-3v1m2-3v1m4-6v1m2 0v1m2-3v1m0 27v2m2-16v1m0 22v1m2-30v1m0 5v1m0 24v1m2-33v2m0 30v3m2-11v3m0 3v3m2-23v1m2-8v2m0 6v1m0 9v1m2-1v1m0 1v1m4-30v1m8-4v1m2 4v1m2 19v9m0 1v1m2-14v1m0 12v6m2-20v2m2 3v2m2-6v7m0 1v1m2-13v1m2 1v1m2-6v2m2-5v1m4-3v1m2-7v1m2-1v1m0 13v4m2-16v1m0 5v5m2-13v3m2-3v1m2 0v2m2 1v1m2-4v1m2-1v2m0 17v1m2-18v1m0 12v1m2-4v1m0 21v2m2 1v2m2-2v1m2-6v1m2-17v1m4-7v1m2-7v2m2-9v1m0 16v1m2-2v1m2-3v1m2-9v2m2-10v1m2-2v1m2-1v1m2-2v1m2 5v1m2 9v1m2 0v1m2 0v2m2 0v3m2-11v2m4-7v1m2 4v2m2-6v1m2-7v1m2-7v1m2-1v1m4 23v1m2 6v1m2-24v2m0 1v2m0 20v1m0 1v5m0 1v2m2-11v8m14-40v1m2 21v8m0 11v1m2-18v6m0 6v4m2-12v2m2-3v3m2-2v4m2-12v1m2-6v1m6-10v1m2 2v1m6 1v1m2 3v3m0 4v1m2-2v1m4-13v1m4-5v1m4 1v1m2 4v4m2-8v1m2-2v1m0 24v2m2-27v1m0 18v1m0 8v1m2-27v2m0 3v3m0 15v1m2-5v1m2-6v1m2-16v1m2-1v1m0 17v4m2-3v2m2-11v1m2-3v1m2-5v1m2-2v1m2-3v1m2 0v3m2 1v1m2 5v1m0 1v1m2-6v1m2-2v7m0 11v4m0 1v1m2-26v1m0 1v2m2-2v1m2-2v1m4 2v1m2-6v1m0 27v1m0 3v1m2-35v1m0 11v1m0 21v1m2-24v1m0 10v1m0 8v1m2-25v1m0 21v1m2-22v3m0 14v1m2-5v1m2-6v1m2-15v1m0 20v4m2-30v1m0 20v2m0 6v1m0 3v1m0 2v2m2-3v1m2-3v1m2-5v1m2-6v1m2-22v2m2-5v1m6 1v2m0 26v2m2-10v1m0 5v1m2-3v1m2-5v1m2-6v2m2-4v1m2-5v2m2 7v2m2-17v1m2-3v1m2-9v1m4 5v1m4 0v1m2 1v1m2-1v1m2 5v4m4 13v1m2 0v3m2-1v1m2-15v3m2-4v1m0 1v3m2-12v6m0 2v1m0 6v1m2-19v1m2 0v1m2 1v1m2-1v1m2 4v1m2-1v1m4-2v1m6 31v1m2-38v2m0 30v2m0 10v1m2-45v3m0 5v1m0 1v3m0 11v1m2-17v1m0 9v2m0 25v5m2-46v1m0 9v1m0 37v1m2-50v1m0 50v1m4-4v1m2-22v1m2-7v1m2-9v2m2 19v2m2-40v1m0 32v3m0 4v3m2-44v1m0 30v1m0 11v3m2-48v1m0 9v1m0 11v5m0 15v3m2-7v1m2-29v1m2-4v1m2 3v1m2 2v1m0 12v2m0 2v2m2-23v1m2-12v4m2-6v1m4 6v1m2 8v1m2 8v2m2 1v2m2-3v1m2-11v1m2-17v1m4 2v1m2 3v1m2 19v4m2-3v3m2-9v1m2-14v3m2-7v1m2 0v1m8-4v1m0 13v2m2 6v3m2-4v1m4-15v1m0 36v3m0 4v5m2-33v1m0 15v2m0 10v1m2-3v3m2-4v2m2-40v1m0 9v1m0 27v1m2-41v1m0 17v1m0 18v1m2-20v7m0 9v2m2-3v1m2-4v2m2-30v1m0 13v1m0 9v2m2-32v1m2 16v1m2 6v1m2 1v1m2-5v2m0 1v5m2-12v1m0 25v3m2-25v1m0 21v1m0 1v4m2-18v1m0 10v1m0 2v2m0 4v3m2-16v1m0 10v4m2-15v1m4-9v1m2-9v2m2-11v2m2 5v2m2-20v1m0 23v1m0 13v1m0 7v1m2-24v1m2-17v1m4-13v1m2-7v1m2-2v1m2-2v1m4 14v1m2-4v1m2 0v1m2-7v3m2 0v1m4-9v1m2-2v1m2-1v1m2-1v1m0 28v2m0 2v6m0 2v6m0 4v6m0 2v2m0 2v2m2-15v8m2-50v1m0 46v1m4-44v1m2 20v6m0 2v1m2-5v3"/>
<path stroke="#5effa2" d="M171 529v1m2-32v4m0 6v6m0 14v1m2-3v1m6-26v1m0 1v2m0 9v1m0 30v2m2-32v1m0 35v3m2-15v1m2-50v6m0 6v4m0 1v7m0 19v1m6-22v1m0 16v1m2-19v1m2-20v3m0 12v1m0 4v4m2-10v6m0 35v1m0 2v1m2-61v9m0 1v8m0 2v1m0 1v6m0 22v1m0 8v1m2-56v3m0 49v1m2-57v1m0 18v3m0 1v3m2-16v2m0 16v2m0 23v1m2-54v1m0 1v6m0 2v2m0 1v1m0 3v5m0 4v1m0 24v1m2-37v1m0 11v1m0 46v1m2-57v1m0 8v1m0 21v1m0 25v2m2-67v5m0 1v2m0 57v3m2-28v1m0 4v1m0 19v3m2-63v1m0 4v6m0 25v1m0 19v1m2-4v1m2-58v4m0 1v1m2-8v1m0 1v1m0 3v9m2-22v2m0 2v4m0 2v1m0 5v6m0 39v1m2-47v4m0 49v1m2-38v1m0 33v2m2-37v1m0 32v1m0 1v1m2-68v1m0 1v14m0 2v9m0 3v1m0 22v1m0 7v1m0 4v1m2-55v8m0 44v2m0 5v9m2-80v1m0 24v2m0 35v2m0 3v3m0 5v4m2-21v2m0 3v1m0 13v1m2-27v2m0 4v1m0 2v1m0 15v1m2-3v3m2-3v1m2-4v1m2-23v1m2-1v1m2-1v1m2 4v2m0 13v1m2-6v1m2-17v1m4 9v2m2 1v1m2-3v1m2 0v1m2-1v1m2-2v2m2 0v2m2-7v2m2-8v2m4-2v1m2 1v1m2 1v2m2-3v2m2-3v1m2-3v1m2 0v1m2-3v1m2 10v1m2-5v1m4-8v1m2-3v1m0 12v3m2-14v2m0 3v1m0 4v1m0 2v7m0 1v1m2-26v1m0 5v3m0 1v2m0 7v1m2-21v2m0 3v2m0 10v1m2-11v1m0 6v1m2 2v3m0 4v2m0 1v3m2-26v2m2-5v1m4-2v1m2-1v1m2-4v2m4-1v1m0 20v1m0 2v5m2-28v1m0 25v6m2-33v1m0 13v1m0 14v1m2-30v1m0 30v3m2-2v3m2-7v6m2-7v1m2-3v1m2 4v1m2-1v4m2-9v1m4-7v1m4-7v1m2-5v1m2-5v2m2 1v1m2 0v1m0 18v4m2-27v1m0 15v1m0 16v1m0 1v2m2-38v1m0 9v1m0 24v1m0 1v6m2-5v2m2-8v2m2-12v1m6-18v1m2-3v2m0 8v1m0 12v2m0 10v4m2-1v2m2-3v1m6-7v1m2-16v3m2-8v1m2-4v1m2-4v1m8-8v1m2-4v1m6-4v1m0 10v3m0 11v2m0 2v1m2-12v1m2 20v3m2-1v2m2-4v2m4-30v6m0 11v2m2-2v1m0 1v1m2-16v2m2-16v1m8-4v1m2 15v1m2 18v2m2-15v2m0 8v2m0 6v3m2-21v2m2 3v1m2 2v2m2-14v2m0 13v1m2-14v1m4-9v3m2-4v2m2-3v1m2-7v1m2-1v2m0 10v1m0 4v1m2-16v2m0 1v2m0 5v1m2-11v5m0 2v1m2-10v1m2 1v1m2 1v1m2-4v1m0 25v4m2-29v1m0 27v1m4-31v1m0 10v1m0 24v1m2 2v3m2-4v2m2-19v1m0 9v1m0 1v2m2-18v1m2-4v1m4-9v1m0 11v1m2-21v1m0 14v1m0 1v1m2-2v2m4-11v1m2-10v2m2-3v1m2-1v1m2-2v1m2 5v2m2 8v1m4 2v4m2-1v1m2-10v5m2-11v1m2-1v2m2 4v1m2-6v2m0 4v1m12 12v1m0 7v6m2-36v1m0 32v1m2-15v3m0 8v3m2-46v1m14 44v1m2-13v6m0 4v3m2-13v3m2-3v3m2-1v1m0 1v1m2-14v1m2-6v1m2-5v1m2-1v1m2-6v1m4 3v1m2-1v1m4 11v1m2-2v1m2-5v1m2-9v1m2-4v1m8 8v1m2-8v2m0 25v5m2-33v1m0 22v1m0 4v3m2-3v1m2-26v3m2 15v1m4-21v1m2-1v1m0 15v1m0 4v2m4-13v2m2-4v1m6-8v1m2 2v1m2 1v2m0 4v6m2-6v1m0 1v3m2-8v2m0 2v2m0 13v1m0 4v2m2-21v2m0 6v3m0 6v4m2-34v4m0 4v3m4-5v1m2 7v1m2-6v1m2 20v1m0 5v1m2-25v1m0 4v1m0 8v1m2-14v2m0 18v3m2-27v2m0 8v1m0 11v3m2-7v2m2-6v1m2-6v1m0 8v4m2-8v1m0 4v1m0 7v3m2-40v1m0 28v1m0 1v1m0 5v1m2-3v1m8-32v1m2-5v2m2-2v1m2-3v1m2 29v1m0 2v1m2-19v1m0 1v1m0 4v1m0 7v1m4-7v1m2-5v2m2-5v2m2-5v2m2 7v1m2-17v1m6-10v1m4 4v1m2 0v2m4 0v1m4 15v1m2 6v2m2 1v3m2-3v2m2-14v1m0 2v1m2-3v1m2 3v2m2-20v1m0 12v1m0 2v2m2-17v1m4 1v1m2 4v1m2-1v1m2-2v1m2-1v2m2 3v1m2-1v1m0 25v1m2-28v2m0 32v1m2-43v1m0 27v2m2-25v1m0 1v1m0 3v1m0 9v1m0 19v5m0 3v2m2-44v3m0 4v2m0 32v1m2-46v2m0 6v1m0 39v1m2-50v5m0 46v1m2-2v1m2-3v2m2-23v1m0 15v5m2-27v1m2-8v2m2-15v2m0 26v4m0 2v2m2-41v2m0 28v2m0 10v2m2-45v1m0 27v2m0 15v1m2-48v1m0 6v2m0 35v4m2-10v1m2-29v9m2-12v1m2 3v3m0 4v5m2-9v1m0 8v3m0 6v2m2-24v1m6-13v1m4 14v2m2 8v4m2-1v1m2-3v1m2-11v1m2-17v1m2 0v1m2 1v1m2 3v1m2 22v4m2-4v3m2-11v2m2-13v1m2-7v1m2 0v1m8 6v1m0 1v1m0 4v1m0 1v2m2 3v2m2-5v3m2-14v1m0 37v9m2-50v1m0 33v2m0 12v3m2-21v1m0 13v5m2-5v2m2-4v1m2-40v1m0 7v1m0 26v2m0 1v1m2-41v3m0 2v2m0 30v1m4-5v1m2-3v1m2-30v2m0 23v1m2-32v1m0 5v4m2 7v1m2 6v4m2-2v2m2-9v2m0 2v1m0 5v3m2-14v1m0 22v2m0 3v4m2-28v1m0 19v1m0 6v8m2-25v2m0 7v1m0 12v4m2-5v2m4-21v1m4-11v1m2-10v1m2 6v1m2-24v1m0 27v1m0 11v1m0 9v1m2-24v1m2-17v1m12-20v1m2 13v1m2-4v1m2 0v1m2-5v3m2-2v1m2-4v1m2-6v1m2-2v1m2-1v1m0 65v2m2-68v1m0 26v1m0 28v2m0 2v1m0 3v2m2-66v1m0 23v10m0 13v2m0 8v10m2-59v1m0 42v3m0 1v2m2-47v1m2 1v1m2-1v4m0 12v4m0 6v2m0 1v3m0 2v5m2-12v2m2-9v1m0 26v1"/>
<path stroke="#6eff90" d="M171 530v1m2-29v6m2-18v1m0 1v2m0 20v1m0 12v2m2-2v1m2-1v1m2-23v1m0 21v1m0 6v1m0 12v1m2-35v2m0 39v2m2-41v1m2-20v6m0 4v1m4 22v1m2-21v3m2-4v3m2-16v12m0 1v4m2 0v9m0 23v3m0 1v2m0 1v1m2-53v1m0 8v2m0 29v1m0 10v1m2-59v2m2-3v4m0 10v4m0 3v1m0 32v1m2-44v2m0 12v2m2-27v1m0 20v4m0 26v1m0 13v5m2-55v3m0 7v1m0 23v1m0 11v1m0 12v1m2-57v3m0 2v3m0 50v2m2-64v1m0 2v8m0 1v1m0 22v1m0 27v3m2-3v3m2-71v5m0 1v4m0 52v7m0 1v1m2-12v1m2-62v3m2-12v1m0 5v4m0 1v1m0 1v3m0 50v1m2-56v2m0 1v5m0 53v4m2-62v1m0 1v2m0 52v1m0 1v1m2-6v1m0 2v1m2-70v1m0 29v2m0 32v1m0 3v1m2-68v1m0 52v1m0 12v1m0 8v4m2-14v1m0 3v1m0 9v3m2-61v3m0 39v1m0 1v1m0 12v2m2-21v3m0 15v3m2-28v4m0 1v2m0 17v2m2-2v2m2-4v2m2-5v1m2-23v1m2-1v1m4 5v2m0 5v1m0 1v4m0 1v3m2-8v1m2-17v5m2-2v1m2 7v2m2 0v1m2-3v1m2 0v1m2-1v1m2-1v2m2 0v1m4-12v1m2-3v1m2 0v1m4 0v2m0 2v3m2-4v1m2-3v1m2-3v2m4 6v7m2-16v4m4-1v1m4 4v2m0 3v1m2-13v3m0 6v2m0 7v1m0 1v1m2-26v5m0 14v2m2-21v3m4 10v2m0 13v3m2-27v1m8-6v1m2-3v1m2-2v1m2 0v1m0 27v2m2-29v1m0 14v1m0 15v2m2-34v1m0 28v1m0 6v1m2-4v1m2 0v2m2-3v2m2-8v1m2-3v2m2 3v1m2 2v1m2-9v1m2-5v1m2-3v1m2-4v1m2-4v1m2-5v2m2-5v1m2 1v1m2 0v1m0 14v3m0 4v5m2-31v1m0 13v1m0 18v1m0 2v2m2-39v1m0 41v1m2-4v2m2-8v1m2-12v1m2-9v1m4 23v1m0 2v1m2-1v1m6-4v1m2-3v1m2-3v1m2-14v1m10-18v1m2-3v1m2-2v1m2-4v1m2-4v1m2 0v2m2-3v1m0 8v1m0 3v3m0 6v2m0 5v1m2-17v1m0 2v1m0 19v1m2-30v1m0 3v1m0 29v3m2-2v3m2-5v5m2-29v1m4 13v2m2-16v1m2-16v2m8-5v1m2 3v1m0 8v2m0 1v11m2 9v1m2-14v2m0 3v3m0 11v1m2-20v2m0 12v6m2-16v1m2 3v2m2-14v2m0 8v1m0 1v1m0 1v1m2-14v2m2-7v1m2-2v1m2-3v1m2-3v1m2-7v1m0 17v7m2-24v1m0 7v2m0 6v4m2-18v1m0 8v2m2-8v2m0 1v3m2-12v2m0 40v4m2-44v2m2 0v1m0 21v4m2-29v1m0 22v2m0 4v1m2-14v1m2-16v1m0 10v1m0 18v1m2 3v1m2 4v3m2-5v1m2-19v9m0 4v1m6-25v1m0 19v2m2-26v1m0 9v1m0 1v2m2-22v2m0 11v1m0 3v2m4-6v1m2-7v1m2-9v1m2-3v1m2-1v1m4 5v1m2 8v1m2-1v1m2 5v1m2-1v3m2-8v2m2-12v2m2-1v1m0 1v1m2 2v1m2-5v4m0 1v3m2-16v1m2-7v1m6 23v1m0 21v6m2-20v2m0 3v2m0 6v4m0 2v1m2-9v3m2-35v8m0 5v4m0 14v3m2-9v4m12-40v1m0 33v1m0 1v4m2 2v2m2-2v1m2-11v2m2-2v1m2-1v1m0 1v1m2-14v1m0 9v5m2-20v1m2-5v2m2-2v1m2-6v1m2 1v1m4 1v1m2-1v1m0 9v5m2-3v1m6-14v1m2-4v1m2-3v1m4 1v1m2 8v1m2-7v2m0 21v2m0 5v3m2-35v1m0 20v1m0 8v2m2-33v1m0 16v1m0 11v2m2-6v1m4-10v1m0 15v4m2-34v1m0 23v11m0 1v1m2-37v1m0 13v1m0 7v1m2-4v1m2-9v1m0 20v2m4-31v1m2-2v1m2-2v1m4 5v4m0 6v2m0 1v1m2-5v4m2-10v2m0 2v3m0 9v1m0 1v4m0 2v3m0 1v2m2-25v1m0 3v2m0 13v3m2-26v4m0 7v2m2-17v1m4 7v1m2-6v1m2-7v1m0 13v3m0 16v1m2-36v1m0 8v1m0 6v1m0 17v1m2-1v2m2-27v2m0 21v1m2-6v3m2-8v4m0 2v2m2-7v2m0 4v1m2-28v1m0 17v1m0 6v1m0 5v1m0 3v1m2-40v1m0 17v1m0 10v1m0 7v1m6-10v1m2-6v1m2-20v3m2-6v1m2-2v1m2-3v1m0 33v1m2-31v1m0 23v1m0 4v1m2-19v1m0 1v1m0 1v2m2 6v1m4-7v1m0 16v2m2-22v1m0 1v1m2-6v2m2 6v2m2-18v1m2-4v1m2-9v1m6 6v1m2 1v1m0 26v2m2-29v1m2 0v1m2 7v1m2 7v1m2 9v2m4-1v1m2-14v2m0 1v2m2-4v2m2 3v1m2-20v2m0 9v1m0 1v2m0 2v5m2-21v1m2 0v2m2-1v1m2 4v1m2-1v1m2-2v1m2 0v1m2 31v3m2 1v1m2-33v1m0 5v1m0 2v3m0 1v1m2-10v4m0 9v1m0 15v3m2-45v4m0 7v3m0 31v3m0 2v1m2-42v4m0 35v3m2-47v6m0 41v1m4 0v1m2-2v1m2-23v3m0 10v2m0 5v2m2-28v1m2-7v2m0 1v1m2-17v2m0 22v2m0 8v1m2-40v1m0 26v1m0 14v1m2-45v1m0 10v4m0 9v1m0 1v1m0 18v2m2-49v1m0 4v1m0 41v3m2-12v1m2-21v3m0 2v6m2-22v1m2 5v4m0 5v2m2-10v2m0 1v5m0 11v2m2-25v1m2-10v3m2-8v1m4 6v1m2 10v1m2 11v1m4-3v1m2-11v1m4-16v1m2 1v1m2 3v1m2 25v1m0 1v1m2-4v2m0 1v2m2-14v3m2-15v1m2-7v1m4-2v1m6-3v2m0 5v3m0 1v1m0 3v2m0 1v1m0 2v1m2 4v1m2-3v3m0 26v2m2-44v1m0 34v2m0 9v1m2-50v2m0 30v1m0 17v1m2-36v1m0 32v2m2-5v2m2-5v3m2-42v1m0 4v2m0 31v1m2-39v2m0 2v2m0 5v2m0 22v1m2-4v1m2-2v1m4-31v1m0 8v2m0 13v1m2-32v5m0 4v2m2 6v1m2 9v1m2-1v2m2 2v1m2 7v1m0 9v2m0 1v2m0 2v1m2-35v2m0 15v2m0 15v4m2-27v1m0 23v1m2-4v1m2-17v1m4-9v1m2-7v1m0 25v2m2-37v1m2 25v1m0 2v1m2-46v1m0 27v2m2 12v3m8-53v1m2-2v1m2-2v1m2 8v5m4-1v1m2 0v2m2-4v1m0 38v2m0 2v2m2-46v1m4-9v1m2 65v5m2-41v7m0 1v1m0 15v4m0 3v3m0 2v4m2-47v2m0 34v1m0 4v7m2-72v1m0 32v9m0 1v3m0 20v2m2-60v2m0 39v1m0 6v5m4-49v2m2 1v2m0 4v2m0 2v2m0 16v2m0 5v3m2-13v1m0 2v1m2-12v3m0 20v3m0 1v9m0 1v1"/>
<path stroke="#80ff80" d="M171 531v1m2-3v1m2-39v1m0 2v6m0 2v2m0 9v1m2 14v1m2-1v1m2-23v8m0 14v1m0 4v1m0 14v1m2-60v2m0 20v2m0 43v1m2-67v1m0 49v1m4-11v1m4-41v1m0 14v4m2-18v1m0 14v2m4 44v3m2-4v1m2-5v1m2-53v10m2-1v2m0 9v1m0 28v1m2 10v1m0 5v1m2-53v3m0 3v1m2-4v2m0 26v1m0 28v1m2-54v1m0 30v1m0 23v2m2-32v1m0 29v2m2-77v4m0 69v1m0 1v2m4-79v4m0 59v1m2-68v5m2 65v1m0 4v2m2-77v1m0 7v5m0 1v1m0 47v1m0 5v1m0 3v1m2-73v1m0 27v5m0 27v1m0 9v1m2-70v10m0 1v2m0 13v3m0 27v1m0 11v1m2-15v1m0 4v1m0 7v2m0 2v4m0 4v4m2-17v3m0 13v1m2-83v1m0 18v2m0 43v1m0 15v3m2-3v1m2-3v1m2-1v1m2-3v1m4-27v1m0 12v1m2-14v1m2-2v1m2 7v5m0 1v1m0 8v2m2-9v1m2-13v4m2-5v1m2 8v4m2-3v3m2-5v1m2 0v1m2-1v1m2 0v1m2 0v1m2-7v2m2-7v1m2-3v1m2 0v1m2 0v3m0 2v2m2-1v1m2-4v1m4-4v1m2-2v1m2-3v1m0 7v1m0 7v4m2-9v1m6-12v1m2-3v1m0 7v2m0 6v2m2 6v2m2-7v1m4-9v1m0 3v1m0 2v2m2-12v1m0 1v1m0 18v5m2-31v1m2-6v1m6-1v1m4-4v1m2 0v1m0 17v1m2-18v1m0 31v1m2-5v1m0 2v3m0 1v2m2-39v1m0 8v1m0 24v1m2 1v2m2-3v4m4-12v3m2 1v1m2 2v1m2-9v2m0 7v3m6-21v1m2-4v1m2-4v1m2-5v2m2 0v2m2 12v1m0 12v3m2-33v1m0 11v1m0 24v4m2-42v1m0 5v2m2 32v1m2-8v1m2-12v1m4-15v1m2-5v1m0 31v1m0 1v2m0 1v1m2-39v1m0 6v1m0 30v2m2-2v1m2-3v1m8-19v3m2-11v1m6-10v1m4-3v1m2-2v1m2-4v1m2-4v1m4 6v1m0 7v1m0 13v1m2-17v2m2-8v3m0 33v2m2-1v3m2-3v1m2-29v2m0 4v1m0 1v4m2 0v1m4-13v2m2-16v1m8-5v1m2 3v1m0 6v1m0 14v4m4-6v3m0 15v3m2-21v1m0 9v2m0 6v4m2-19v1m4-8v5m0 2v1m0 1v1m0 3v2m2-14v1m2-7v2m2-3v3m2-5v2m2-4v1m0 24v6m2-37v1m0 13v3m0 7v1m2-24v1m0 5v1m0 12v3m0 2v3m2-15v1m2 21v1m2-35v7m0 32v1m0 4v1m2-43v1m2 0v1m0 18v2m2-24v1m0 19v2m0 7v1m2-30v1m0 13v1m0 13v1m2-28v2m0 7v1m2-13v1m0 8v1m0 27v1m2 6v1m2-5v2m2-7v2m2-20v1m2-4v1m2-4v1m0 7v11m0 2v6m2-31v2m0 11v3m2-23v2m0 8v1m0 6v2m2-4v1m4-10v1m2-9v1m4-3v1m2-3v1m2 7v1m2 8v2m2-2v1m2 5v3m2-1v1m2-7v2m2-12v1m2-1v1m0 1v1m2 2v1m2 2v1m6-23v1m2 5v1m0 44v5m2-11v1m0 6v1m2-19v3m0 12v2m0 1v1m2-7v2m2-49v2m0 9v1m0 8v1m0 1v3m0 21v1m0 1v1m2-15v3m0 4v2m10-46v1m2 4v1m0 3v7m0 16v1m0 1v1m0 1v2m0 1v1m0 4v1m2 3v2m2-3v4m2-13v2m2-3v2m0 2v1m4-16v2m0 12v2m2-21v1m2-4v1m6-5v1m2 0v1m4 0v1m0 7v1m0 5v1m2-3v1m2-3v1m2-5v1m2-8v1m8-4v1m2 8v1m0 21v3m0 1v4m2-35v4m0 16v1m0 10v2m2-17v1m0 11v2m2-34v1m0 29v1m0 2v3m2-11v1m2-5v1m0 13v2m2-9v1m0 1v1m0 4v7m2-19v2m0 11v1m0 1v2m2-38v1m0 11v1m0 9v3m2 7v1m0 2v1m2-25v1m0 18v1m0 2v2m4-32v1m2-2v1m4 0v1m0 25v1m2-12v1m0 1v2m4-6v1m0 7v1m0 11v1m0 2v4m2-28v3m0 18v1m2-23v7m0 2v1m2-17v1m2-2v1m2 8v1m2-6v2m0 9v1m0 13v4m2-35v1m0 11v1m0 3v1m0 7v1m0 8v1m2-36v1m0 6v1m0 14v1m0 11v1m2-23v1m0 6v1m2-10v1m0 21v1m2-4v2m2-6v2m0 2v1m2-14v2m0 1v3m0 15v4m2-39v1m0 15v1m0 8v2m0 8v2m2-41v1m0 15v1m2 17v1m2-4v1m6-26v1m2-6v1m2-2v1m2-3v1m0 31v1m0 1v1m2-31v1m0 21v1m2-10v1m0 11v1m4-7v1m0 16v4m0 1v1m2-25v3m0 4v9m2-19v1m0 1v1m2-5v2m2 6v1m12-22v1m2 1v1m0 22v3m0 2v2m2-30v1m4 8v1m2 7v1m2 6v2m0 2v2m2-2v2m2-2v1m2-10v2m0 5v1m2-10v1m2 3v2m2-20v1m0 5v3m0 11v1m2-21v1m0 9v3m0 4v3m2-18v1m2-1v1m2 4v1m4-2v1m2 0v1m2 2v1m0 26v1m2-28v1m0 23v1m2-24v1m0 1v3m0 1v2m0 3v1m0 1v1m0 9v1m0 8v1m2-43v1m0 9v3m0 4v5m0 3v1m0 19v2m2-33v2m0 2v2m0 31v1m2-1v1m2 0v1m2 0v1m2-1v1m2-2v1m2-21v6m0 3v1m0 9v1m2-28v2m2-7v1m0 1v1m0 8v7m2-31v1m0 32v2m2-41v1m0 24v1m0 16v1m2-45v1m0 5v4m0 4v9m0 1v1m0 21v2m2-50v1m0 2v1m0 45v2m2-13v1m2-19v2m0 6v2m2-23v2m0 1v5m2 8v2m0 6v1m0 2v4m2-23v1m0 18v1m2-25v1m2-8v1m2-8v1m2 0v1m2 5v1m2 10v1m2 11v1m2-2v1m4-12v3m2-20v2m2 0v1m4 5v1m2 25v1m0 1v4m2-6v1m0 2v4m2-15v1m2-15v2m2-8v1m2-1v1m4-5v1m2-2v1m2 2v3m0 1v1m0 15v2m2 3v1m2-1v1m0 23v2m0 2v3m2-14v2m0 12v2m2-50v1m0 28v1m2-16v1m0 11v1m0 21v1m2-4v1m2-3v1m2-42v4m0 34v1m2-34v1m0 3v1m0 2v1m0 22v1m2-4v2m4-6v1m2-28v1m0 5v2m0 16v1m2-22v1m2 6v1m2 9v2m2-1v1m0 14v3m2-15v1m0 3v13m2-31v4m0 16v1m0 12v1m0 2v2m0 1v5m2-38v1m0 13v1m0 21v1m2-27v1m0 4v1m0 18v1m2-4v1m2-17v2m2-7v1m2 15v2m2-27v1m4-4v2m0 6v1m0 9v1m0 1v2m0 1v2m2-47v1m0 28v1m0 7v1m0 11v1m2-24v1m0 13v1m0 3v4m0 1v2m2-41v1m2-8v1m2-7v1m2-6v1m6-2v1m0 5v1m0 5v2m2 0v1m2-3v1m2 1v2m2-5v1m0 36v1m0 2v2m0 2v9m2-54v1m0 44v2m2-51v1m2 62v7m2-76v1m0 55v1m0 4v2m0 1v3m0 5v3m2-75v1m0 29v1m0 7v1m0 1v9m0 2v4m0 4v3m0 9v4m2-75v1m0 22v1m0 48v1m2-72v1m0 18v3m0 19v1m0 25v2m2-60v1m0 37v1m0 12v1m2-52v1m2 3v4m2-1v4m0 2v2m0 28v12m0 2v2m2-28v2m0 1v1m0 19v1m0 2v7m2-21v2m0 13v1m0 1v6"/>
<path stroke="#91ff6e" d="M171 532v1m2-3v1m2-31v2m0 2v9m0 16v1m4-1v1m2-1v2m0 1v1m0 16v2m2-60v7m0 4v9m0 46v2m2-68v7m0 2v8m0 2v5m0 41v4m6-30v1m2-40v14m0 25v1m2-39v2m0 4v4m0 3v1m4 37v1m0 11v2m2-19v1m0 13v2m0 4v2m2-12v1m4-43v9m2 28v1m2-32v3m0 26v1m0 9v1m0 14v1m2-26v1m0 7v1m0 20v1m2-30v1m0 31v1m2-32v1m0 1v1m0 28v3m2-87v7m0 77v2m4-85v1m0 2v1m2 72v1m2-8v1m0 7v2m2-78v7m0 59v1m0 5v1m2-73v1m0 2v4m0 2v8m0 2v6m0 39v1m0 5v1m2-61v1m0 2v3m0 1v2m0 2v5m0 36v1m0 6v2m0 3v9m2-28v1m0 13v2m0 12v3m2-3v2m2-84v7m0 1v10m0 64v1m2-3v1m2-3v2m2-2v1m2-3v1m2-6v1m2-22v1m0 7v4m0 1v2m2-15v1m2-2v2m4 14v1m2-10v2m2-6v1m2 11v1m0 1v1m4-7v1m2 0v1m6 1v2m2-7v1m2-7v1m2-3v1m2 0v1m0 14v2m2-14v2m0 2v2m0 2v1m2-5v1m2-4v1m2-4v1m2-1v1m2-2v1m0 18v2m2-23v2m0 4v1m0 12v1m0 1v1m2-11v1m2-6v1m2-4v1m2 11v2m0 2v8m2-29v1m0 5v1m0 10v3m2 5v1m0 1v1m2-9v1m2-7v1m2-3v1m0 1v1m0 1v2m0 2v3m2 11v6m2-36v1m4-9v1m2 0v1m2 1v1m2-4v1m4 28v1m2-28v1m2-3v1m0 29v2m0 6v1m2-39v1m0 33v1m2 2v2m2-1v2m2-13v1m0 4v5m2-8v1m2 1v1m2 2v1m2-8v7m0 3v1m2-17v1m2-3v1m4-6v1m2-4v1m2-4v2m4-1v1m0 28v1m2-33v1m2-2v5m0 36v1m2-2v1m2-8v1m2-12v2m6 17v1m2-39v1m0 4v1m8 26v1m2-3v1m2-11v3m2-13v1m2-5v1m2-4v1m2-3v1m2-2v1m2-2v1m2-2v1m2-4v1m2-4v1m2 0v1m2-3v1m0 5v1m0 9v5m2 15v1m2 8v2m4-2v1m2-28v4m0 1v1m0 4v1m2 0v3m2-1v2m2-15v2m2-17v1m8-5v2m2 2v6m0 19v1m2 5v1m2 8v2m2-22v3m0 4v2m0 12v2m2-20v1m0 12v2m0 2v1m2-14v1m2-8v2m0 8v1m2-14v3m2-8v2m2-2v3m0 9v2m2-17v1m0 18v6m2-28v1m0 22v1m0 6v4m2-40v2m0 8v3m0 25v1m2-38v5m0 16v2m0 3v1m2-15v3m2-6v2m0 21v1m0 1v1m2-29v1m0 30v1m0 6v1m2-43v3m2-2v2m0 14v2m0 6v1m2-28v2m0 15v2m0 10v1m2-30v3m0 9v1m0 15v3m2-29v1m0 5v1m2-11v3m0 2v3m2 36v1m2-4v1m2-6v1m2-7v6m2-22v1m0 17v1m2-16v1m0 19v4m2-33v1m0 5v1m0 7v1m0 6v2m2-30v5m0 2v1m0 9v1m4-8v1m2-6v1m2-9v1m2-4v1m2 0v1m4 5v3m2 7v2m2-3v1m0 1v2m2 4v1m4-6v3m2-14v2m0 4v2m2-6v1m2 2v1m4 2v3m0 13v2m2-40v1m4 5v6m0 2v2m0 33v1m0 5v1m2-32v1m0 18v1m0 8v5m2-5v3m2-8v3m2-50v1m0 5v3m0 10v1m0 25v1m0 1v1m2-17v1m0 9v1m8-48v1m4 6v3m0 7v7m0 8v1m0 1v1m0 1v1m2 14v1m2 0v1m2-12v1m0 2v2m2-6v2m0 1v2m2-5v1m2-12v1m0 3v3m0 7v1m2-21v1m2-4v1m4-8v1m6 3v1m2 0v1m2 11v1m4-7v1m2-8v2m2-6v1m2-3v1m2 0v1m2 1v1m2 8v1m0 19v1m0 3v1m0 4v2m2-33v5m0 24v2m0 2v1m2-41v1m0 17v1m0 14v6m2-39v1m0 13v1m0 15v2m0 3v5m2-15v1m2 5v3m0 2v6m2-27v1m0 10v1m0 1v1m0 12v4m2-44v1m0 19v1m0 17v3m2-31v2m0 13v1m0 1v1m2-9v1m0 11v1m0 1v2m0 1v1m2-25v1m0 22v1m2-29v1m6-7v1m2 2v1m0 16v3m0 1v4m0 1v1m2-9v2m2-5v1m2-3v2m0 4v1m0 19v1m2-7v3m2-16v3m2-19v1m2-2v1m0 3v2m0 2v1m2 0v1m2-5v1m0 6v2m0 1v1m0 16v1m2-35v1m0 9v1m0 22v1m2-36v1m0 3v2m0 28v1m2-23v1m0 21v1m2-21v1m0 17v1m4-4v1m2-13v1m0 10v1m0 11v1m2-39v1m0 1v4m0 2v1m0 17v1m0 1v1m0 7v1m2-5v1m2-3v1m6-13v1m2-17v3m2-8v2m2-3v1m0 33v1m2-7v1m2-27v1m4 21v1m2 10v2m0 4v1m0 1v2m2-24v4m0 11v1m2-19v4m2-7v3m2 4v1m2-19v2m2-5v1m2-9v1m2 0v1m4 34v1m0 1v4m2-13v3m0 7v1m4-30v1m2 8v1m2 7v1m2 11v1m2-1v2m2-3v2m2-10v5m0 1v2m2-11v1m2 4v1m2-20v1m0 3v1m0 15v2m2-22v2m0 5v2m0 3v4m0 3v3m2-20v4m0 6v2m0 2v5m2-19v2m4 2v1m2-1v1m2 0v1m2 2v3m0 22v1m0 4v1m2-31v3m0 13v2m0 4v1m2-22v1m0 12v3m0 5v1m2-32v3m0 2v2m0 1v1m0 13v2m0 22v1m2-32v2m0 34v1m2-1v1m8 0v1m2-16v3m0 11v1m2-27v3m0 1v2m0 2v1m2-13v1m0 1v6m0 7v2m2-32v5m0 13v3m0 13v1m2-41v3m0 18v3m0 18v1m2-45v1m0 3v1m2-7v2m0 48v1m2-13v1m2-10v1m2-22v1m0 5v2m2 8v6m0 1v2m0 4v1m2-4v1m2-25v1m2-8v1m2-8v1m4 6v1m2 10v1m2 11v2m2-3v1m2-3v1m2-8v1m6-17v1m2 4v2m0 18v7m2 4v1m2 0v6m2-20v1m2-14v1m2-8v1m2-1v1m8-1v1m0 18v2m2 2v1m2-1v2m0 20v1m0 7v2m2-48v2m2 24v1m0 20v1m2-26v2m0 23v1m2-4v2m2-4v1m2-4v1m2-34v1m0 1v1m0 27v1m2-3v1m2-4v2m4-31v3m0 1v1m0 19v1m2-22v2m2 5v1m2 10v1m0 19v4m2-24v2m0 2v2m0 5v3m0 3v5m2-19v3m0 13v13m2-40v3m0 12v1m0 24v1m2-38v2m0 34v1m2-27v4m2 17v1m2-16v3m4 5v1m0 2v1m2-4v1m2-34v1m2 7v6m0 1v1m0 7v1m0 7v1m2 11v1m2-33v1m0 11v1m0 8v1m0 2v2m0 1v3m2-46v1m0 8v3m6-30v1m2-3v1m2-2v1m0 16v3m2-18v5m0 8v2m4-3v1m0 55v2m2-55v1m0 28v2m0 16v6m2-57v2m0 33v1m0 16v2m2-55v1m0 42v1m0 2v4m2 12v4m2-75v1m0 46v2m0 15v3m0 7v1m2-26v5m0 1v4m0 2v1m0 11v3m2-77v1m0 27v1m0 19v2m0 24v2m2-76v1m0 71v2m2-73v3m0 14v1m0 50v2m2-61v1m0 35v1m0 14v1m2-52v1m2 6v1m0 47v10m2-11v2m0 2v7m2-31v1m0 17v1m0 1v2m0 7v3m2-42v3m0 14v1m0 23v2"/>
<path stroke="#a2ff5e" d="M171 533v1m2-3v1m2-2v1m2-2v1m4 1v1m0 19v2m2-55v4m0 57v1m2-62v2m0 8v2m0 31v1m0 13v1m0 4v3m8-32v1m2-38v4m0 4v3m4 28v1m0 8v1m0 14v2m2-22v1m0 16v4m0 2v4m4-18v1m2-2v1m2 8v1m0 7v1m2-21v2m2-2v1m2-1v2m0 30v1m2-32v1m2 31v2m2-17v1m2-70v2m2 69v4m0 1v5m2-18v1m0 14v3m2-8v1m2-73v2m0 4v2m0 8v2m0 6v2m0 44v1m0 1v2m2-59v1m0 2v2m0 36v1m0 13v3m0 9v1m2-28v3m0 27v1m2-2v1m2-78v1m0 75v1m2-3v1m2-2v1m2-2v1m6-29v7m0 7v1m2-15v2m2-2v1m2 21v1m2-8v1m2-9v1m2-6v1m2 11v1m0 1v1m2-4v2m2-5v1m2 0v1m2-2v1m2 0v1m2 2v2m2-8v2m2-8v2m2-4v1m0 19v1m0 2v2m2-24v1m0 11v2m0 2v4m2-12v2m0 1v1m2-5v1m2-4v1m2-4v1m2-1v1m2-2v1m0 12v5m0 2v2m2-23v1m0 2v1m0 14v1m0 1v1m0 2v2m0 2v4m4-2v6m4-37v1m0 10v4m0 2v2m0 8v2m2-30v2m0 2v1m0 14v2m2 4v1m0 1v2m2-10v3m4-11v1m0 9v1m2-15v1m0 30v1m2-31v7m8-17v1m2-4v1m2-2v1m2 0v1m0 28v1m2-28v2m0 29v1m2-34v2m0 36v1m2-5v1m0 1v1m2 1v1m2 0v2m2-11v1m0 5v3m4-8v1m2 2v1m2 2v1m2-17v1m4-6v2m2-4v1m2-4v1m2-3v1m2-1v1m2-1v1m0 10v1m0 17v2m2-34v1m0 6v3m0 29v1m2 0v2m4-10v1m2-11v1m2-12v1m2-6v1m0 30v3m2-38v1m0 29v1m0 7v1m2-39v1m0 2v1m0 34v1m4-4v1m8-14v2m8-23v1m2-2v2m2-3v2m2-3v1m4-7v1m2 0v1m0 10v5m2-18v5m0 24v2m2 5v1m0 1v2m2 6v1m2-1v1m2-2v1m2-18v5m2-2v2m2-1v1m2-14v2m2-18v1m8-4v1m6 43v2m2-21v1m0 1v2m0 16v1m2-20v1m0 10v1m0 2v2m0 1v3m2-16v1m2 2v1m2-12v4m0 6v2m2-18v8m0 2v4m2-13v9m0 2v1m0 1v2m2-20v1m0 13v4m0 6v11m2-38v1m0 7v4m0 5v5m0 11v2m2-40v2m0 5v1m0 14v1m0 7v6m0 1v1m2-12v1m2-13v3m0 7v6m2-20v2m0 17v2m2-25v2m0 27v1m2-32v2m0 12v5m2-19v2m0 4v2m0 3v3m2-17v6m0 6v3m0 13v1m2-28v2m0 2v2m0 2v1m0 19v2m2-30v5m0 22v1m2-30v2m0 32v1m2 7v1m2-4v2m2-7v1m2-21v1m0 8v4m0 6v1m2-22v1m0 5v11m0 1v13m2-35v1m0 29v2m2-34v2m0 2v1m0 9v2m0 2v2m0 2v3m2-28v2m2 7v1m6-17v2m2-5v1m2 0v1m2-4v2m2 9v2m2 7v2m2-4v1m0 2v1m2 4v1m2-2v1m2-3v2m2-14v4m0 2v4m2-9v1m0 28v2m2-28v1m0 22v2m2-23v1m0 16v3m2-36v1m0 13v2m0 3v2m0 10v1m0 2v1m4 12v5m2-46v2m0 2v1m0 31v1m0 7v1m2-32v1m0 16v1m0 14v1m2-3v1m2-6v3m2-52v5m2 23v2m2-36v1m10 22v4m0 1v3m0 14v1m0 1v1m4 4v1m2-11v1m0 2v3m2-4v1m2-5v1m2-12v3m0 11v1m2-21v1m0 16v3m2-23v1m2-4v1m2-5v1m2 1v1m2 0v1m4 6v1m0 7v2m2-3v1m2-4v1m4-10v1m2-6v1m4-2v1m2 1v2m0 35v3m2-31v1m0 17v1m0 11v2m2-30v3m0 7v1m0 15v2m0 1v1m2-41v2m0 36v3m2-41v1m0 10v2m0 26v6m2-20v2m0 9v1m0 2v2m2-21v1m0 8v1m0 11v4m2-1v1m2-44v1m0 17v1m0 21v2m2-42v1m0 6v2m0 16v1m0 1v2m0 1v2m0 2v2m2-7v1m0 6v1m2-25v1m0 15v1m0 6v2m2-30v1m2-5v1m2-2v1m2-2v1m2 2v1m0 14v1m0 3v1m0 6v2m2-9v1m2-5v1m2-2v2m0 1v1m0 21v3m2-7v1m2-14v2m2-20v2m2-3v3m0 2v2m0 1v2m2 5v1m2-11v6m0 4v1m0 10v1m0 5v1m2-35v2m0 6v1m0 24v1m2-36v3m0 11v1m0 19v1m2-23v3m0 1v1m0 17v1m2-26v3m2 17v2m2-2v1m2-2v1m0 5v1m0 5v2m2-40v1m0 4v2m0 1v1m0 4v1m0 12v1m2-32v1m0 13v1m0 22v1m6-11v1m4-19v6m2-12v3m2 27v1m2-36v1m0 33v1m2-11v1m0 7v1m2-4v1m2 15v5m2-27v1m0 7v6m0 10v1m2-9v1m2-16v4m2-8v3m0 27v3m2-28v1m2-18v9m2-13v1m6-5v1m2 2v1m0 26v1m0 1v1m2-28v1m0 17v1m2-19v1m2 0v1m2 8v1m2 7v2m2 10v2m4-2v1m2-3v1m2-11v1m2 4v1m2-20v3m0 18v2m2-22v5m0 15v1m2-17v6m0 2v2m0 5v1m2-18v3m2 0v3m2-3v1m2-1v1m2 0v6m2-1v2m0 19v1m2-22v1m0 4v8m0 2v4m0 10v1m2-16v5m0 11v1m2-40v2m0 2v1m0 13v1m0 25v5m2 0v1m2-1v1m2-1v1m2 0v1m2-1v1m6-26v1m0 2v2m0 1v1m0 10v5m2-28v1m0 15v1m2-28v4m0 2v1m0 5v1m0 17v1m0 1v1m2-41v7m0 3v1m0 2v5m0 22v3m2-47v3m0 43v1m0 1v1m2-1v2m2-14v1m2-10v1m2-15v5m2 17v4m4-31v1m0 13v1m2-22v2m2-9v1m2-1v1m4 17v2m2 11v1m2-3v1m2-3v1m2-8v1m2-20v1m2 0v1m4 24v1m0 7v3m2 2v1m2 5v3m2-22v1m2-14v2m2-9v2m2-2v1m8 19v1m2 2v1m2 0v1m0 18v1m0 10v1m2-47v1m0 28v1m0 16v1m2-50v2m0 24v1m0 22v1m2-36v1m0 7v1m2 24v1m2-4v1m2-4v2m2-35v1m0 29v4m2-6v1m4-7v1m2-25v1m2 1v1m0 10v1m0 2v1m2-9v1m2 10v1m0 16v2m0 4v5m2-27v2m0 4v3m0 11v4m2 6v2m2-39v2m0 8v2m0 26v1m2-37v11m0 24v1m2-4v1m4-16v4m0 1v2m2-16v1m2-5v1m2-6v1m0 25v1m0 12v1m2-4v2m2-32v2m0 3v2m0 9v1m0 12v2m2-33v2m0 4v1m0 13v1m0 7v1m2-31v1m0 9v1m0 14v1m0 3v5m2-50v8m0 3v1m0 35v1m2-2v2m2-62v1m4-7v1m2 13v1m0 3v1m2-4v1m2 54v1m2-58v1m0 53v1m0 2v1m2-55v1m0 25v2m0 2v4m0 11v1m0 6v1m2-56v2m0 30v1m0 19v1m2-55v1m0 39v2m0 7v1m0 12v3m2-70v1m0 60v5m0 4v1m2-75v1m0 44v1m0 2v2m0 10v3m0 11v1m2-77v1m0 47v2m0 27v1m2-51v1m0 48v1m2-56v1m0 52v1m2-71v2m0 10v2m2-7v1m0 2v11m0 37v1m2-52v1m0 2v3m2 1v2m0 43v2m0 10v2m2-2v2m2-32v3m0 13v1m0 14v1m2-40v2m0 11v1m0 26v1"/>
<path stroke="#b3ff4c" d="M171 534v1m2-3v1m4-3v1m2-1v1m4 29v1m2-9v3m0 8v2m2-31v1m0 27v2m2-33v1m2-1v1m8 2v1m0 24v1m2 4v2m2-17v1m6-6v1m4-2v1m2 0v3m0 28v2m2-1v1m2 0v1m8-20v1m0 13v2m2-18v1m0 8v2m2-13v1m0 8v1m0 2v2m2-19v2m0 1v1m0 22v2m4 0v1m2-2v1m2-3v1m2-2v1m6-10v1m4-20v1m0 2v1m0 25v1m2-31v1m2 21v1m6-21v1m2 13v1m4-7v1m2 0v1m2-2v1m2 0v2m2 2v1m2-7v1m2-7v3m2-6v1m0 16v2m0 1v2m0 2v4m2-27v1m0 2v1m0 6v1m0 8v2m2-10v2m2-6v1m2-4v1m2-4v1m2-1v1m2-2v3m0 6v3m0 9v4m0 4v4m2-34v2m0 18v2m0 2v2m0 4v3m2-24v1m2-6v1m0 22v1m0 6v1m2-34v1m0 24v9m2-37v1m0 7v2m0 18v3m2-31v2m0 17v6m2 2v3m2-10v2m2-11v1m2 8v1m2 16v2m2-34v1m0 7v5m0 4v1m2-28v1m4-2v1m2 2v1m4-5v2m2-1v1m2 2v1m0 8v1m0 20v2m2-34v1m0 7v1m0 28v1m0 1v1m2-42v1m0 5v1m0 28v1m0 1v4m2-2v2m2 0v2m2-16v3m0 9v3m2-13v1m2 2v1m2 2v1m2 2v1m2-17v1m0 12v7m2-23v1m2-2v1m2-4v2m0 13v2m2-20v2m2-4v2m2-2v2m2-2v1m0 8v1m0 20v2m2-35v6m0 33v1m4-2v1m2-7v1m2-11v1m4-17v1m0 32v2m2-39v1m0 37v1m2-39v2m2 34v1m4-5v1m4-4v1m2-7v2m2-16v2m4-9v1m2-2v1m2-1v2m2-3v1m2-3v1m0 27v1m2-33v2m2-4v2m2-1v3m0 6v1m0 5v2m0 7v4m2 0v2m2 4v1m0 2v5m2 2v1m2-1v1m2-2v1m2-14v1m2-1v1m2-1v2m2-14v2m2-19v1m8-4v1m2 26v1m2 5v1m2 11v1m2-21v1m0 19v1m2-20v3m0 4v3m6-11v2m0 2v2m0 2v1m2-11v2m0 4v1m2-2v1m0 2v4m2-23v3m0 8v2m2-16v2m0 2v3m0 4v5m0 18v1m2-39v5m0 16v1m0 3v3m2-3v1m2-11v7m0 6v1m2-19v2m0 14v1m0 5v2m2-28v1m0 25v1m0 9v1m2-39v3m0 6v3m0 5v2m2-19v4m0 2v3m0 12v1m2-21v6m2-9v2m0 2v2m4 25v3m2 5v1m4-9v1m2-21v5m0 1v2m0 11v2m2-23v5m0 25v1m2-35v5m0 26v1m2-33v2m0 12v2m0 7v3m2-18v1m4-8v1m2-6v1m2-7v1m0 1v1m2-7v3m2-2v2m2-4v3m2 8v2m2 7v2m2-2v2m2 3v1m2-2v1m2-2v2m2-6v2m2-10v4m0 26v1m2-28v1m0 20v1m0 2v1m2-23v1m0 14v1m0 3v3m2-38v1m0 6v6m0 7v1m0 7v2m2-36v1m2-2v1m0 51v1m0 5v1m2-42v1m0 39v2m2-33v1m0 14v1m2 14v1m2-4v2m2-7v1m2-53v1m0 31v1m0 13v1m4-49v1m2 0v1m6 26v1m0 18v1m0 1v1m2 2v1m2 1v1m2-13v1m0 6v1m2-4v2m2-6v1m4-18v1m0 14v1m0 3v1m2-23v1m8-5v1m2-1v1m2 0v2m0 2v1m0 10v1m6-10v1m2 11v4m4-29v1m4 4v7m0 24v4m0 3v3m2-33v3m0 13v1m0 14v4m2-31v1m0 26v4m2-43v7m0 7v1m0 24v6m2-2v3m2-21v2m0 5v2m0 1v2m0 2v2m2-22v1m0 5v2m0 16v2m2-32v1m0 8v1m0 20v3m2-5v5m2-46v1m0 3v2m0 22v1m0 2v2m0 2v3m2-20v1m0 17v1m2-25v1m0 13v1m0 9v1m2-30v1m0 20v4m4-30v1m2 26v2m2-27v2m0 11v1m0 13v4m2-12v1m2-5v3m2-3v1m0 25v1m4-19v2m2-20v9m2-2v1m2-2v1m0 2v3m0 1v1m2 16v1m2-34v6m0 7v1m0 5v1m0 12v1m2-18v1m0 15v1m2-21v1m2-4v1m0 19v1m2-2v1m2-2v1m2-2v1m0 12v3m2-34v4m0 23v1m2-41v1m0 8v4m0 24v1m4-8v1m4-9v1m2-9v4m0 9v1m2-23v4m0 12v2m2-23v1m0 30v1m2-6v1m2-25v1m4 21v1m0 15v2m0 5v2m2-28v7m0 17v2m4-22v4m2-9v2m0 20v1m0 1v3m0 3v1m2-28v1m2-10v1m6-21v1m2 3v1m2 2v1m0 32v1m2-32v1m0 15v1m0 12v1m2-30v1m0 22v3m2-25v1m2 8v2m2 7v1m0 12v1m2-2v1m2-2v1m2-1v1m2-3v1m2-11v1m2 4v1m2 2v1m2-2v2m2-3v4m2-19v2m2 1v1m0 1v1m2-5v4m2-4v5m2 1v4m2-3v3m0 6v1m0 6v1m0 9v2m2-29v4m0 25v1m0 2v1m4 6v1m2 0v1m2-1v1m2-1v1m2 0v1m2-1v1m2-2v1m2-2v1m2-18v10m0 5v1m2-12v2m2-26v2m0 1v5m0 19v1m0 1v1m2-35v3m0 1v2m0 30v2m2-2v1m0 1v1m4-13v1m2-10v1m2-11v3m2 18v2m2-9v1m2-24v1m0 9v3m0 1v1m2-21v1m2-9v1m2-1v1m2 5v1m2 12v1m0 7v1m2 3v1m4-5v1m2-8v1m4-19v1m2 0v2m2 4v2m0 14v1m0 11v6m0 4v2m0 2v1m2-12v3m0 2v4m0 2v3m2-6v2m2-23v1m2-13v1m2-8v2m2-3v1m2-5v1m2-3v1m2-2v1m2 26v1m2 2v1m2 0v1m0 16v1m2-34v3m0 24v1m0 18v1m2-49v4m0 19v1m0 24v1m2-36v1m0 5v1m0 27v2m2-3v1m2-4v1m2-3v3m2-4v4m2-9v2m2-5v2m0 10v1m2-16v1m0 7v3m2-14v1m0 4v2m2-26v2m0 7v1m0 1v2m0 1v1m2-9v2m2 9v1m0 14v1m0 11v2m2-25v2m0 18v5m4-34v8m0 29v1m8-17v1m0 2v1m4-4v1m2-1v1m0 15v1m2-48v4m0 29v1m0 13v2m2-32v3m0 12v1m0 10v1m0 2v1m2-32v4m0 21v1m0 2v6m2-37v1m0 7v1m0 24v3m2-41v1m0 28v6m0 1v3m2-59v1m0 50v3m0 2v1m2-9v6m2-64v1m0 59v1m4-64v1m0 13v1m0 5v2m2-5v1m2-3v1m0 54v1m0 1v3m2-60v4m0 48v1m0 4v1m2-55v3m0 20v2m0 8v4m0 15v1m2-55v1m0 50v1m2-55v1m0 37v1m0 10v1m0 9v2m0 3v1m2-70v1m0 69v2m2-76v1m0 42v1m0 5v8m0 1v1m0 15v1m4-77v1m0 24v1m0 50v1m2-77v5m0 14v1m0 54v1m2-70v6m0 2v2m0 55v1m2-60v2m0 11v2m0 18v1m0 17v1m2-52v2m0 3v2m0 1v1m0 50v6m2-57v2m0 37v4m0 14v1m2-1v1m2-30v4m0 5v4m0 16v2m2-40v4m0 1v2m0 3v1m0 28v1"/>
<path stroke="#c3ff3c" d="M171 535v1m2-3v2m2-4v1m6 21v1m4-12v1m0 8v1m0 13v1m2-2v3m6-35v1m4 0v1m2 1v1m0 5v1m0 18v2m2 4v1m2-4v5m2-21v1m4-3v1m0 7v1m2-10v1m0 5v1m2-7v1m0 1v3m0 22v1m2 5v1m2-1v2m4-18v1m2-4v1m2-3v1m0 4v1m0 10v4m2-2v2m2-9v1m2-17v3m0 14v3m2-20v1m0 25v2m2-1v1m2-1v1m2-2v1m2-3v1m2-2v1m2-3v1m2-4v1m4-12v1m2-13v2m0 1v1m0 23v1m0 1v2m2-32v3m0 20v4m2-5v1m2-9v1m2-9v1m2-5v2m2 12v2m2-5v1m2-4v1m2 0v1m2-2v2m2 0v2m2 1v3m2-9v2m2-6v2m2-7v3m0 10v3m0 11v1m2-27v2m0 1v6m0 11v3m2-11v1m2-6v1m4-7v1m2-1v2m0 25v4m2-30v6m0 16v4m0 4v1m2-2v2m2-25v1m0 19v6m2-31v1m0 19v2m0 8v2m2-16v5m0 9v1m2-35v5m0 23v3m2-9v1m2 4v2m2-10v2m2-12v1m2 8v1m2 17v1m2-36v1m0 13v4m0 1v5m0 2v2m4-39v1m2 1v1m4-2v1m2 0v1m0 18v3m2-22v6m0 8v1m0 13v1m2-26v1m0 30v1m2-34v2m0 35v1m0 1v1m2-42v1m0 3v1m4 37v1m2-2v1m8-4v1m2-17v1m0 8v3m0 7v1m2-23v2m0 21v1m2-25v2m0 2v5m2-11v3m0 5v5m0 2v2m0 3v4m2-27v2m2-4v3m2-3v2m2-3v2m0 5v1m0 23v1m2 4v1m2 0v1m6-19v1m2-13v1m2-5v1m0 27v1m0 5v1m2-12v1m2 9v1m8-8v1m4-7v1m2-15v1m2-7v1m2-3v1m2-2v2m2-1v2m2-4v1m0 17v2m2-22v3m0 22v2m0 1v9m2-40v4m2-6v4m2-2v2m0 2v2m0 8v7m0 4v1m2 1v3m2 9v1m2 2v1m2-1v1m6-15v1m2 0v1m2-13v2m2-20v1m8-4v1m2 26v1m2 5v1m0 7v4m2 0v1m2-1v1m2-17v3m0 12v1m2-16v1m0 4v8m2-10v1m2-7v2m0 5v2m2-6v1m2 4v2m2-22v8m0 23v1m2-36v2m0 31v1m2-16v1m0 11v2m2-12v1m2 2v1m2-18v2m0 10v2m0 8v1m2-28v3m0 6v1m0 14v1m0 11v2m2-38v3m0 1v2m0 10v1m2 2v1m2 1v1m2 1v1m2-3v5m0 1v1m2 1v3m2 3v1m2-4v1m2-6v1m2-17v1m0 15v2m4 3v1m2-8v1m2-18v1m2-5v1m4-9v1m2-7v1m0 1v1m2-5v2m2-2v3m2-4v2m2 8v3m0 16v2m2-12v7m2-7v3m2 1v1m4-2v1m2-5v3m0 18v3m2-30v1m0 22v1m0 3v1m2-28v1m0 18v1m0 4v1m2-23v2m2-18v1m0 3v2m0 14v1m0 3v3m0 6v1m2-6v2m0 19v1m2 1v1m2-42v1m0 28v1m0 11v1m2-33v1m0 30v1m2-2v1m2-3v2m2-8v2m2-25v2m0 15v1m2-7v1m6-43v1m2 0v1m4 50v2m4-5v1m2-3v1m2-6v1m2 1v1m2-1v2m4-28v1m2-5v1m2 1v1m4 1v1m2 1v2m0 12v1m2-4v1m2-4v1m2-4v1m0 29v2m2-38v1m0 15v1m0 4v1m2-27v1m4-2v1m2 9v2m0 21v1m0 10v3m2-33v3m0 9v1m0 19v1m2-31v1m0 4v1m0 24v1m2-37v1m0 37v1m2-47v1m0 8v1m0 37v2m2-21v5m0 9v4m2-21v1m0 20v2m2-27v2m0 24v2m2-48v1m0 15v1m0 29v2m2-47v3m0 34v2m2-21v1m0 6v2m0 9v2m2-26v1m0 11v1m0 11v1m2-12v2m0 4v1m2-30v1m2-1v1m2-3v2m0 22v4m0 2v1m2-26v2m0 8v1m0 18v2m2-13v2m2-4v2m0 20v4m2-2v2m2-9v1m2-11v2m2-13v2m2-3v1m2-2v2m0 5v1m0 15v2m2-19v1m0 8v1m0 8v1m4-24v1m0 2v1m2 16v1m4-4v1m2-2v1m2-2v1m0 14v2m2-8v1m2-41v2m0 2v4m2 25v1m6-12v2m0 3v1m2-11v2m0 4v3m2-18v3m2-11v4m0 2v5m0 22v1m2-37v1m0 33v1m2-30v1m0 16v1m0 9v1m2-4v1m2-3v1m0 9v2m0 2v1m0 9v1m2-3v1m2-11v1m2-9v1m2-8v2m0 17v1m0 1v1m0 7v3m2-30v2m0 4v5m0 5v3m0 6v5m2-39v4m0 10v4m2-31v1m2-10v1m4 5v1m2 26v1m2-23v2m0 1v1m0 10v1m2 4v3m4-11v1m2 7v1m0 10v1m0 1v1m2-2v1m2-2v1m2-1v2m2-4v1m2-11v1m0 3v1m2 0v8m2-5v5m0 2v2m2-9v8m2-7v3m2-20v3m0 6v6m2-13v1m0 1v1m0 2v8m0 2v2m2-16v13m0 3v1m2-16v11m2-6v11m0 1v6m2-18v6m0 1v6m0 1v2m0 9v1m2 0v2m0 1v1m2-4v1m0 2v4m4 4v1m2-1v1m2-1v1m2 0v1m4-2v1m2-2v1m2-3v1m2-11v4m2 0v1m2 2v1m2 0v1m2-1v1m2-13v1m4-18v3m2 17v2m2-10v2m2-25v1m0 6v2m0 5v1m2-21v2m2-10v2m4 4v1m2 12v7m0 1v1m4 0v1m2-2v2m4-29v1m2 1v1m2 1v2m0 44v4m2-44v2m0 11v1m0 18v4m0 2v2m0 1v1m0 2v1m2-13v2m0 4v2m0 3v2m2-6v2m2-24v1m2-13v2m2-8v1m2-3v1m6 12v7m2 0v2m4 2v1m0 14v1m0 13v1m2-44v14m0 9v1m0 20v1m2-46v4m0 14v1m2-8v4m2 28v1m2-4v1m2-1v4m2-4v3m2-10v1m2-4v1m0 6v3m0 1v2m2-17v1m0 5v1m0 3v1m2-14v1m0 2v1m0 2v1m2-25v5m0 1v1m0 6v1m2-8v3m0 2v1m0 29v3m2-28v1m0 3v10m0 14v2m2-2v3m2 0v3m2-2v1m6-9v1m2-6v1m2-17v1m0 12v3m2-20v1m0 20v1m2-27v1m0 25v1m0 12v2m2-47v3m0 25v1m0 1v1m0 9v1m2-12v1m0 8v1m0 4v4m2-17v1m0 4v1m0 9v1m2-37v1m0 5v1m0 28v1m2-41v2m0 24v2m0 10v1m2-10v1m0 6v1m2-63v1m0 50v2m0 6v1m2-7v2m0 1v1m2-63v1m0 17v2m2-9v1m0 8v1m2-5v1m0 54v4m2-61v1m0 52v1m2-51v2m0 45v1m2-46v1m0 18v1m0 14v2m0 4v1m0 14v1m2-60v1m0 27v1m0 22v1m0 4v2m2-61v1m0 48v1m0 7v1m0 6v2m2-71v1m0 57v1m0 12v1m2-35v1m0 14v1m0 17v1m2-78v1m0 45v1m0 30v1m2-77v1m0 22v1m0 52v1m2-73v2m0 2v2m0 6v2m0 56v1m2-65v2m2 13v7m0 30v1m2-46v1m0 1v2m0 47v1m0 6v1m2-56v1m0 10v1m0 2v2m0 19v2m0 19v1m2-1v1m2-27v5m0 22v1m2-37v1m0 2v3m0 30v1"/>
<path stroke="#d5ff2a" d="M171 536v2m2-3v4m2-7v3m2-4v1m2-1v1m2 22v1m2 6v1m2-13v2m2 10v1m0 5v1m2-36v1m2-1v1m4 0v1m2 0v1m0 15v2m2-14v3m0 21v1m2 4v1m2-18v1m0 17v3m4-25v1m4-2v2m0 2v1m0 17v1m2-23v1m2 32v1m2 0v1m2-2v1m2-10v5m4-14v1m0 15v2m2-21v1m0 18v2m2-25v3m0 12v2m2 1v4m2 4v1m2-1v1m6-4v1m8-12v1m2-7v1m2-10v3m2-5v2m0 14v4m0 4v2m4-14v1m2-9v1m2-4v1m2 13v1m2-5v1m2-4v1m2 0v1m2-1v1m2 1v3m2 1v2m2-9v1m2-5v2m2-6v6m0 3v1m0 15v3m2-7v1m2-11v1m4-10v1m2-3v1m2 0v2m0 19v2m0 1v1m0 4v2m2-1v1m2-1v2m2-26v2m0 23v2m2-32v1m0 16v2m0 12v1m2-36v1m0 5v4m0 2v7m2-22v2m0 31v1m2-9v3m2 3v5m2-13v1m2-12v1m2 8v1m0 12v4m4-38v1m0 1v1m0 24v2m0 2v4m6-36v1m2-3v1m2-4v1m0 8v2m2-10v7m0 10v1m0 3v2m2-18v1m0 22v1m2-26v2m0 29v7m2-1v1m2-42v3m0 36v1m2-1v1m2 2v2m2-3v4m2-17v1m2 2v1m2 2v1m2 3v1m2-17v1m0 6v1m0 11v1m2-22v2m0 14v5m0 1v1m2-24v2m0 5v5m0 7v6m2-26v5m0 9v3m0 4v5m2-30v4m0 9v9m2-23v2m2-3v2m2-3v2m0 1v2m0 25v2m2 3v1m4-3v1m2-7v1m2-10v2m2-14v1m0 28v1m2 0v1m2-40v1m0 25v1m0 11v1m6-5v1m6-6v1m4-19v1m0 1v2m0 2v3m2-15v2m2-4v2m2-2v1m2 0v3m2-6v2m0 14v1m0 2v2m2-21v2m0 32v1m2-37v1m0 1v1m2-5v2m0 5v1m0 3v2m0 1v3m2-17v2m0 22v1m2 3v1m0 1v1m2 7v3m2 0v2m2-2v1m2-3v1m2-14v1m2 0v1m2 0v1m2-12v3m2-22v1m12 34v2m0 4v2m2-1v1m2-1v1m2-19v1m0 16v2m2-17v4m0 8v1m2-10v1m2 1v1m2-6v1m2 5v2m0 3v5m2 0v1m4-21v2m2 3v5m2-2v1m2-17v4m0 3v1m0 1v1m0 11v7m2-32v6m0 1v2m0 10v2m0 14v1m2-36v1m0 13v1m0 13v2m2-13v1m2 1v1m2 1v3m2-1v1m0 1v1m2 3v2m2 2v1m6-8v1m2 5v1m2-3v1m2-8v2m2-19v1m2-5v1m2-5v1m2-5v2m2-6v1m2-4v5m2-4v4m2-6v6m2 5v2m0 13v1m0 2v1m2-6v1m2-5v2m4-2v1m2 0v3m2-5v1m0 16v1m0 3v1m2-30v7m2-7v3m0 21v1m2-22v1m0 10v1m0 7v1m2-37v3m0 17v3m0 10v1m2-8v1m0 2v1m0 17v1m0 1v3m2-10v1m0 8v1m2-42v1m0 26v1m0 13v1m2-33v4m0 7v2m0 18v1m2-2v1m2-2v1m2-7v1m2-55v1m0 26v2m0 18v1m2-9v1m0 1v1m10 5v1m2 4v1m2-1v1m2-5v1m2-3v5m2-10v4m4-22v1m0 10v1m0 1v1m0 7v1m2-25v1m2-4v1m2-5v1m4 2v1m2 0v1m0 7v5m2 3v4m2-7v1m2-4v1m2 12v5m0 7v1m0 2v3m2-40v1m0 13v1m0 6v2m2-28v1m0 16v3m2-23v1m2 1v1m0 38v7m2-35v1m0 19v1m0 14v1m2-31v3m0 27v3m2-33v1m0 29v2m2-38v2m0 3v1m0 32v2m2-48v8m0 40v2m2-5v3m2-28v1m0 2v1m0 23v1m2-34v1m0 4v1m0 28v2m2-49v1m0 13v1m0 32v1m2-9v4m2-24v1m0 4v1m0 13v2m2-27v1m0 23v2m2-32v1m0 16v1m2 2v3m4-28v4m0 17v1m0 7v3m2-27v3m0 4v1m0 21v2m2-13v1m2-3v3m0 1v5m0 9v2m0 4v2m2-2v2m2-10v1m2-10v1m2-12v1m2-3v1m2 5v1m0 13v1m0 2v3m4-24v1m0 3v1m0 14v1m2-22v2m0 18v1m4-4v1m4-2v2m0 6v3m2-12v1m0 15v1m2-8v1m2-40v2m0 33v1m6-12v2m2-4v3m0 1v3m2-12v2m0 1v1m2-12v3m0 2v4m2-16v2m0 5v4m2-17v1m2 4v1m4 21v1m0 4v4m0 2v2m0 11v1m2-3v2m4-20v1m0 17v5m2-29v2m0 28v1m2-29v1m0 2v1m0 5v5m0 3v6m0 5v1m2-36v2m0 2v6m0 10v5m2-41v1m4-9v1m4 6v2m0 20v2m2-20v1m0 1v10m0 15v1m2-30v1m0 24v1m2-25v4m2 7v1m2 7v1m0 2v2m0 2v3m2 2v3m2-4v4m2-3v2m2-3v1m0 1v2m2-16v3m0 1v10m0 2v1m0 1v1m2-7v9m2-9v2m0 2v2m2-3v2m2-6v4m2-21v6m0 6v8m2-18v2m0 8v2m0 2v2m0 2v3m2-10v3m0 1v5m2-10v12m2-7v1m0 6v5m2 3v1m0 4v3m2-4v1m2-4v2m0 4v1m2 2v1m4 1v1m2-1v1m2 0v1m2-2v1m4-2v1m2-3v1m2-8v2m2-1v1m4 3v2m4-14v1m2-11v1m2-6v4m2 15v7m2-15v1m2-25v2m0 1v3m0 8v1m2-20v1m2-9v2m2-4v1m0 1v1m2 4v2m2 19v1m2 2v1m4-3v1m2-10v1m2-20v3m2-1v1m0 50v2m2-50v1m0 1v2m0 36v4m0 4v2m2-44v2m0 6v3m0 29v2m0 1v1m2-1v1m2-5v1m2-24v2m0 3v2m0 6v1m2-25v1m2-8v2m2-4v1m2-6v1m4-4v1m0 15v4m0 7v1m2 1v1m2 0v1m0 25v5m2-29v1m0 12v1m0 15v2m2-32v2m0 29v1m2-43v2m0 11v1m0 27v1m2-36v1m0 34v1m2-2v1m2-4v1m2 2v1m2-2v1m2-10v1m2-4v6m0 6v2m2-18v1m0 2v2m0 5v1m2-14v2m0 4v1m2-21v1m0 8v1m0 3v4m2-13v2m0 1v6m0 20v1m0 1v1m0 3v1m2-28v3m0 26v1m2 0v2m2 1v1m2-2v1m2-4v1m8-27v1m0 10v1m0 3v1m2 1v1m0 12v1m2-40v1m0 18v1m0 20v1m2-45v2m0 2v7m0 13v1m0 3v1m0 13v2m2-17v1m0 16v1m2-2v2m2-38v5m0 30v1m2-40v2m0 21v1m0 13v1m2-60v1m0 47v1m2-5v1m0 9v1m2-65v1m0 54v2m0 4v1m2-63v1m0 13v3m0 2v2m2-23v1m0 10v1m0 10v1m0 52v2m2-59v1m0 52v1m2 2v1m2-55v3m0 13v8m0 20v1m0 7v1m2-52v1m0 16v1m0 17v1m0 2v1m0 14v1m0 1v1m2-60v2m0 49v1m0 5v5m2-65v1m0 34v1m0 13v1m0 5v1m0 9v1m2-71v1m0 44v2m0 8v2m2-62v1m0 36v4m0 34v1m2-78v1m0 42v2m0 32v1m2-77v3m0 17v2m0 54v1m2-72v2m0 2v2m0 2v2m0 59v1m2-6v1m2-29v1m0 31v2m2-55v2m0 44v1m0 8v1m2-56v2m0 7v1m0 1v2m0 2v2m0 10v2m0 2v3m0 22v1m2-1v1m2 0v1"/>
<path stroke="#e5ff1a" d="M171 538v2m2-1v1m2-5v2m2-5v2m2-2v1m6 10v3m0 2v1m0 17v1m2 1v3m2-3v1m0 1v1m4-38v1m2 0v1m2 11v4m0 2v4m2-20v2m0 126v2m2-98v1m0 95v2m2-115v1m0 10v1m0 8v2m0 92v1m4-119v1m2-2v1m0 5v1m0 10v1m2-17v2m4 30v1m4-1v2m2-19v7m0 5v1m0 1v1m4-18v1m0 18v1m2-23v1m2 13v5m2 0v3m2 2v1m2-1v1m2-2v1m2-2v1m4-4v1m8 1v3m2-27v2m0 17v1m0 4v1m2-28v7m0 6v1m0 10v1m2-7v1m4-16v1m2-4v3m2 11v1m2-5v1m2-4v2m2-1v1m2-1v1m2 3v4m2-1v2m2-10v2m0 1v1m2-7v5m2-5v3m0 19v2m2-8v2m2-12v1m2-7v1m2-4v1m2-3v1m2 1v1m0 2v2m0 10v4m0 2v1m2 7v1m2 0v1m2-25v1m0 10v2m0 1v3m0 8v1m2-32v1m0 14v1m0 15v1m2-36v5m0 4v2m0 22v1m2-4v3m2-9v4m2 4v1m2-13v3m2-14v2m2 7v1m0 10v1m0 4v2m2-1v1m2-39v1m0 33v1m6-41v1m0 1v2m0 27v7m2-35v1m2-4v2m0 5v1m2-1v2m0 14v1m2-18v1m0 22v1m2-25v1m0 3v1m0 31v2m2-41v3m0 1v1m0 34v1m2-3v1m2-1v1m6-12v1m4 5v1m4-13v2m0 3v1m0 13v2m2-22v2m0 1v1m0 9v1m0 7v3m2-15v7m0 6v1m2-1v2m2-28v3m0 2v4m0 9v5m2-26v2m2-3v2m0 8v5m2-16v1m0 29v1m2 3v1m2-1v1m2-3v1m2-7v1m2-9v1m2-14v2m0 25v1m0 1v1m2-35v1m0 25v1m2-31v3m0 35v1m2-2v1m2-3v1m10-12v1m2-14v1m0 2v2m0 3v2m2-15v1m2-3v1m2-2v3m2 0v2m0 2v2m0 2v2m2-14v4m0 9v1m0 5v7m0 4v2m2-32v2m0 17v1m0 13v1m2-37v1m0 1v1m0 24v6m2-34v5m0 1v3m0 2v1m0 3v5m2 3v1m2 3v1m0 1v3m0 2v4m2 1v2m2 0v1m2-2v1m6-15v1m2 0v1m2-10v1m2-22v1m6-15v1m2 9v2m2 25v1m2 5v5m0 8v1m2-1v1m2-1v1m2-1v1m2-5v2m2-11v1m2 1v1m2-6v1m2 6v1m0 1v1m0 5v2m2-1v1m2-4v1m2-3v1m2-7v1m2-2v2m2-15v3m0 1v1m0 19v2m2-25v2m0 6v2m2-4v1m0 10v2m0 2v3m2-15v1m4 5v1m2 1v1m2 4v2m4-3v1m2-6v2m2 0v2m2 4v2m2-4v1m2-7v1m2-19v1m2-5v1m2-5v1m2-4v1m2-6v2m0 1v1m2-3v2m2-2v4m0 6v1m2-11v1m0 1v2m0 2v3m2-2v3m0 9v1m2-1v2m2-5v1m2-1v1m2-2v1m0 5v1m2-4v1m2-5v3m0 12v1m0 5v1m2-24v1m0 13v1m0 5v1m2-25v2m0 12v1m2-14v3m0 6v1m2 6v1m2-42v1m0 21v11m0 4v1m0 21v1m2-61v1m0 59v1m2-42v1m0 40v1m2-30v7m0 21v1m2-2v1m4-8v1m2-55v4m0 1v12m0 3v2m0 3v1m0 21v1m2-11v1m10 9v1m2 4v1m2-1v1m4-3v1m2-7v1m2-3v1m2-20v1m0 8v1m0 1v1m0 9v1m2-25v1m6-7v1m2 1v1m2 0v1m0 4v2m0 5v4m0 1v2m2 0v5m2-11v1m2-4v1m2-5v1m0 13v2m0 5v7m0 6v2m2-41v1m0 11v1m0 9v2m0 10v2m2-26v1m0 3v2m2-24v1m0 44v3m2-46v1m0 8v4m0 24v1m0 7v3m2-37v2m0 16v1m0 16v2m2 0v1m2-31v1m0 28v2m2-38v1m0 1v1m2 37v1m2-3v1m2-28v2m0 25v1m2-34v1m0 34v1m2-49v3m0 2v4m0 2v2m0 34v2m2-7v1m2-24v1m0 2v1m0 16v2m2-19v1m0 15v2m2-33v1m0 13v2m0 8v1m2-30v1m0 21v2m0 3v3m0 11v5m2-46v1m0 41v3m2-42v3m0 12v2m0 11v4m0 4v2m2-34v4m0 24v1m2-13v4m2-4v1m0 5v4m0 2v3m0 8v2m2-2v1m2-10v1m2-10v1m2-12v2m4 2v1m0 11v1m0 6v1m2-22v1m0 6v1m0 10v1m2-21v1m0 1v1m0 16v1m2-2v1m2-2v1m2-3v1m2-2v1m2 0v1m0 2v3m0 3v2m2-13v2m0 14v1m2-8v2m0 3v1m4-14v1m2-5v1m0 1v2m2-6v5m4-12v1m0 5v1m2-14v2m0 6v1m0 12v2m2-22v3m0 11v1m0 4v1m2-36v4m0 21v1m2-21v2m0 8v2m0 1v2m2 8v1m0 6v2m2-10v4m2 19v1m2-13v3m2-10v1m0 14v2m0 5v3m2-30v1m0 11v3m0 14v1m2-29v2m0 26v2m2-36v2m0 10v2m0 1v3m0 5v1m2-22v5m0 8v7m2-49v1m4 5v1m0 33v2m2-32v1m0 17v2m0 11v1m4-31v4m0 9v5m0 7v1m2-22v2m0 13v11m0 2v2m2-22v1m0 3v20m2-16v2m0 2v2m0 6v5m2-3v3m2-3v2m2-3v3m2-8v2m0 1v1m0 2v6m2-8v2m0 1v1m0 1v2m0 1v4m2-5v1m2-4v4m2-5v5m2-7v5m2-6v5m2-7v2m0 3v4m2-5v5m2-3v6m2-1v2m0 1v4m2-3v4m0 3v1m2-4v2m0 1v2m2-2v2m2 1v2m2-1v1m2 0v1m6-1v1m2-2v1m2-1v1m4-9v2m2-2v2m2 0v1m2 2v1m2-3v1m2-12v2m2-12v1m2-3v1m0 3v2m2 16v1m0 1v1m4-40v1m2-7v3m2-10v3m2-6v1m0 1v3m2 3v2m2 18v2m2 1v1m2-4v1m2 0v1m2-10v1m2-18v3m2-3v4m0 44v2m0 2v2m2-51v1m0 33v5m0 10v1m2-43v6m0 36v2m2-2v1m4-27v3m0 2v1m0 2v3m0 1v2m2-26v1m2-7v2m4-10v1m4 10v1m0 12v2m4 1v2m0 21v2m0 5v1m2-29v1m0 29v1m2-31v3m0 3v1m2-18v2m0 7v2m0 29v1m2-1v1m4-5v1m2 2v1m2-2v1m2-10v2m2 8v1m2-17v1m0 8v1m2-8v1m2-12v3m2 18v2m0 1v1m0 5v2m2 0v1m2 1v1m8-7v1m4-8v1m2-1v1m2-21v1m0 13v1m0 18v1m0 1v1m2-40v6m0 19v1m0 8v1m0 5v1m2-44v2m0 7v13m0 20v1m2-11v1m0 10v1m2-18v1m0 2v1m0 13v1m2-3v1m2-39v7m0 1v7m0 2v1m0 1v2m2-44v1m0 13v4m0 26v3m0 9v1m2-63v1m0 47v1m2-53v2m0 51v1m2-55v1m0 9v3m0 7v2m2-2v2m0 49v1m0 2v1m2-2v1m2-61v1m2 6v4m0 8v1m0 8v2m2-24v3m0 12v1m0 19v2m0 11v1m0 6v2m2-60v2m0 22v1m0 25v1m0 1v1m0 7v1m2-65v1m0 32v1m0 15v1m0 3v1m0 11v1m2-71v1m0 41v2m0 2v3m0 3v2m0 16v1m2-76v1m0 34v1m0 39v1m2-78v2m0 39v1m0 35v1m2-75v8m0 2v2m0 4v1m0 57v1m2-67v2m0 62v1m2-6v1m2-40v5m0 1v2m0 1v1m0 21v2m0 11v1m2-54v2m0 41v1m0 10v2m2-56v2m0 4v1m0 8v10m0 2v2m0 26v1m2-1v2m2-1v1m2-2v1"/>
<path stroke="#f7ff08" d="M171 540v2m2-2v1m2-4v2m2-5v2m2-3v10m2 12v1m4-10v2m0 19v1m2-33v1m0 35v1m2-39v1m0 33v1m0 1v1m0 1v1m2-39v1m2 0v1m2 0v1m2-1v1m0 8v2m0 10v1m2 6v1m2 99v1m2-112v1m0 8v1m0 101v2m2-117v1m0 20v2m2-23v1m2-2v2m0 2v1m4 20v1m4 7v1m2 0v1m2-7v1m0 1v1m4-20v1m0 20v1m2-25v1m0 22v1m2-4v4m2-1v1m2 2v1m2-1v1m2-2v1m4-4v1m4-5v1m6-14v1m0 15v1m0 3v1m2-26v1m0 15v1m0 6v1m2-22v6m0 12v1m4-15v1m2-8v1m2-2v1m2 11v1m2-5v2m2-4v1m2-1v2m2-2v2m2 5v1m2 0v1m2-9v1m0 1v2m2-4v11m0 4v6m2-2v1m2-7v4m2-15v1m2-7v1m4-6v3m2-1v2m0 2v10m0 14v2m2-1v1m2 0v2m2-26v1m0 1v1m0 2v1m0 6v1m0 12v1m2-32v2m0 10v2m0 17v1m2-3v2m2-3v2m2-7v5m2 0v1m2-11v2m2-14v1m2 7v1m0 16v1m2-1v1m2-5v2m2-43v1m2 31v9m2-40v1m0 3v1m0 24v1m0 7v2m2-30v3m2-11v5m0 3v1m0 22v8m2-32v1m0 6v1m0 7v2m2-19v1m0 4v1m0 17v3m2-27v3m0 34v1m2-39v1m0 36v2m2-4v1m2-1v2m2 1v1m2 0v2m2-13v2m2-4v1m4 6v1m2-15v3m0 16v1m2-21v1m0 1v3m0 5v1m0 11v1m2-2v3m2-2v2m2-27v2m0 18v3m2-27v3m0 12v1m0 2v2m2-21v8m0 5v2m2 13v2m2 2v1m2-1v1m4-9v1m2-9v1m2-13v4m0 20v1m0 3v1m2-35v1m0 33v1m2-37v2m0 19v1m0 14v1m2-2v1m6-8v1m2-2v1m2-2v1m2-5v1m2-5v1m2-15v2m0 26v1m2-31v3m0 24v1m0 1v1m2-29v4m2-2v2m0 2v2m0 2v1m2-11v6m0 2v1m0 13v4m0 2v4m2-34v4m0 11v2m0 15v1m2-35v8m0 13v3m0 6v2m2-16v1m2 3v1m0 13v2m2-8v2m0 4v2m2 1v1m4-1v1m2-4v1m2-14v3m0 2v2m2-5v1m2 0v1m2-10v1m2-22v3m2-18v2m4-1v1m2 10v1m0 15v1m2 9v1m0 13v6m2-1v1m2-1v1m2-1v1m2-1v1m2-4v1m2-11v1m0 2v2m2-3v1m2-6v6m2 1v1m2 8v1m2-4v1m2-3v1m2-7v3m2-3v1m2 10v3m2-26v6m0 19v1m2-21v2m0 6v2m0 7v1m2-15v3m2-2v1m2 4v2m2 0v1m2 5v1m2 0v1m2-4v1m2-5v1m2 1v4m2 2v1m2-4v2m4-26v2m2-6v1m2-5v2m2-5v3m2-7v1m0 1v2m0 1v1m0 1v1m2-7v3m2-1v6m0 1v1m2-11v1m0 2v2m0 3v2m2-1v1m0 7v1m0 5v1m0 1v1m0 11v1m2-18v1m2-5v2m4-3v5m0 1v1m2-4v2m0 12v4m2-20v1m0 18v1m2-24v3m0 9v1m2-16v2m0 18v1m2-19v6m0 10v1m4-44v1m0 19v1m0 16v1m0 14v1m0 6v1m2-13v1m0 11v1m2-19v2m0 16v1m2-2v1m2-2v1m4-8v1m2-52v1m0 12v3m0 2v3m0 23v1m2-51v1m0 36v2m0 4v2m2-46v1m6 1v1m2 48v2m2 3v1m2-1v5m2-10v1m0 1v4m4-9v1m2-3v1m2-20v4m0 2v2m0 13v1m4-29v2m2-6v2m4 2v1m2 0v4m0 11v1m0 2v2m2 3v4m2-14v1m4 3v2m0 22v1m2-41v2m0 8v1m0 12v1m0 7v2m0 2v2m2-43v1m0 13v1m0 6v1m0 18v1m2-28v3m0 24v2m0 3v2m2-47v1m0 6v1m0 4v1m0 22v1m0 11v2m2-37v2m0 13v1m0 19v1m2-31v2m0 3v1m0 25v1m2-34v2m0 31v1m2-38v1m0 36v1m4 0v1m2-1v1m2-34v3m2-14v2m0 4v2m0 38v1m2-7v3m2-26v2m0 19v1m2-29v1m0 7v1m0 18v3m2-35v3m0 9v1m0 11v2m2-31v1m0 18v2m0 8v2m0 14v2m2-47v2m0 18v9m0 8v1m0 1v2m0 3v3m2-42v2m0 9v1m0 17v4m0 2v5m2-10v1m2-10v3m2 3v2m0 13v3m2-4v1m2-10v1m2-10v1m4-15v1m2 16v1m0 8v1m2-22v1m0 17v2m2-22v1m0 18v1m2-2v1m4-4v1m2-2v1m2 0v2m0 8v2m2 2v2m2-8v3m0 1v4m2-14v1m2-4v1m2-5v1m0 2v2m2-3v1m2-3v1m4-9v1m0 10v1m0 2v1m2-20v4m0 5v1m2-25v7m0 2v2m0 8v2m0 8v1m2-27v5m0 5v1m0 13v1m2-3v2m0 1v3m0 2v6m2 8v1m2-1v1m2-11v2m2 1v2m0 10v1m2-30v1m0 8v2m0 18v1m4-22v1m0 9v1m2-42v1m0 15v1m0 1v1m0 5v2m0 5v1m0 7v2m2-50v1m2 0v1m2 36v1m0 2v1m2-16v1m2 12v5m0 4v2m2-36v9m0 13v10m2-30v13m0 11v2m0 2v5m2-26v3m0 20v2m2-1v2m2-2v1m2-2v6m2-6v7m2-3v1m0 1v1m2-4v1m2 0v4m2-4v5m2-5v1m2-3v4m2-5v4m2-2v3m2-3v5m2-2v4m2-3v1m2 9v1m2-3v1m0 2v2m2-2v1m2 2v1m2-1v1m2 0v1m2-2v1m2 0v1m2-1v1m2-2v1m4-4v1m2-5v1m2-1v1m2 0v4m2-1v1m4-13v1m2-12v2m2-4v3m0 2v4m2 13v1m0 1v1m2-18v1m2-11v1m4-24v3m2-4v2m2 3v1m2 19v1m2 1v1m2-4v1m2 0v1m0 22v4m2-36v1m0 29v1m2-46v3m2-2v3m0 47v2m2-50v1m0 1v1m0 23v2m0 2v1m0 16v2m2-1v1m4-7v1m2-17v2m0 6v1m2-26v1m2-6v1m2-6v2m4-10v1m2 10v3m0 15v1m2-1v1m2 22v1m0 8v1m2-29v2m0 8v1m2-9v3m0 24v2m2-41v2m0 3v2m0 32v1m4-3v1m2-3v1m2 2v1m2-2v1m4 0v1m2-19v1m0 10v1m4-13v1m2-5v1m0 16v1m0 11v1m2 0v1m2 1v1m2 0v1m2-2v1m10-30v6m0 2v2m2-14v5m0 6v2m0 8v1m0 13v2m2-36v5m0 6v1m0 23v1m2-18v1m0 6v1m0 8v2m2-19v1m0 17v1m2-18v1m0 16v1m4-35v1m0 7v2m0 1v1m2-41v5m0 2v6m0 4v6m0 2v1m0 1v2m0 11v3m2-49v3m0 2v2m0 8v2m0 10v2m2-32v4m0 6v8m0 32v1m2-53v1m0 6v2m0 12v1m2-25v1m0 8v1m0 14v1m0 52v1m2-60v1m0 57v1m2-61v2m0 48v1m0 7v2m2-50v4m0 2v2m0 11v2m0 15v1m0 9v1m0 2v3m2-54v3m0 8v1m0 34v3m0 5v2m2-60v1m0 20v1m0 27v1m0 9v1m2-34v1m0 17v1m0 1v1m0 13v1m2-71v2m0 26v5m0 6v2m0 7v3m0 19v2m2-77v4m0 71v1m2-77v5m0 2v2m0 2v2m0 4v2m0 18v2m0 37v1m2-68v2m0 2v4m2 57v1m4-41v1m0 2v1m0 24v1m0 7v1m0 3v2m2-54v1m0 53v1m2-55v4m0 50v1m6-1v2"/>
<path stroke="#fff700" d="M171 542v1m2-2v4m2-6v5m2-8v1m2 6v1m4 18v1m2 5v1m2-9v1m2 5v1m0 5v2m2-40v1m2 0v1m2 0v2m0 2v2m2-6v4m0 2v2m0 13v1m0 107v1m2-102v1m0 98v1m2-3v2m2-110v1m0 6v1m0 12v1m0 88v1m2-96v2m0 2v3m0 89v3m2-93v1m2-25v2m6 29v1m2 0v2m2-1v1m2-5v1m2-20v1m0 2v5m0 4v1m2-15v1m0 22v1m2-2v2m2-2v2m2-2v2m2 1v1m2-1v1m4-4v1m8-10v1m2-5v1m2-6v1m0 19v1m2-26v2m0 12v1m4-2v1m4-15v1m2-2v3m2 9v1m2-4v2m2-5v1m2 0v3m2-3v1m2 5v2m2-1v2m2-7v5m2 2v4m0 6v1m2-2v2m4-19v2m2-8v1m2-5v3m2-2v3m2 26v1m2-1v2m2 0v1m2-26v1m0 1v2m0 1v4m0 16v1m2-31v10m0 20v1m2-2v1m2-2v2m2-4v4m2-3v2m4-24v1m2 7v1m0 6v2m0 8v1m2-1v1m2-4v1m4-46v1m0 30v3m0 9v2m2-15v2m0 10v1m2-37v1m0 4v1m0 3v1m0 11v5m0 11v3m2-33v1m0 18v3m0 8v3m2-34v1m0 4v1m2-8v1m0 2v1m0 21v7m2 4v1m2-1v2m2-5v1m4 2v1m2 1v1m2-18v4m0 2v2m4-2v1m2 3v2m4-13v5m0 13v1m2 0v1m2-1v1m2-5v1m2-25v1m0 10v1m0 1v2m0 2v1m2-7v1m2 14v1m2 2v1m4-4v1m2-6v1m2-9v1m2-10v4m2-13v3m0 31v1m2-36v5m0 30v1m14-15v1m4-18v3m0 22v1m0 1v2m2-30v4m0 17v3m0 1v1m0 1v1m2-26v3m2 4v4m2-9v2m2-6v3m0 1v1m0 5v1m0 18v1m2-28v6m0 4v3m0 11v2m2-17v3m0 4v2m2-5v1m0 8v4m2 2v1m2 1v1m8-15v2m0 2v1m2-5v1m2 0v1m2-10v3m2-22v3m6-19v1m2 21v4m0 1v6m0 12v4m2-12v1m0 11v1m0 6v1m2-1v1m2-1v2m2-2v1m4-4v1m2-11v2m0 4v1m2-5v1m2-1v1m2 9v2m2-1v1m2-4v1m2-3v1m4-7v2m2 11v1m4-20v6m0 10v1m4-14v1m2 5v2m2-1v2m2 4v1m2 0v2m6-4v3m2 0v1m2-3v1m2-9v1m2-17v2m2-7v2m2-5v3m2-5v1m0 1v2m2-7v1m0 1v1m0 1v2m0 1v2m2-9v11m2-4v2m2-3v1m0 15v3m2-19v1m0 5v1m0 7v1m0 1v1m0 8v2m0 1v1m2-18v1m4-6v1m4 14v1m0 4v2m2-21v1m0 8v2m2-13v1m0 7v1m0 8v1m2-22v2m0 5v1m0 1v1m0 9v1m2-3v2m2-5v1m2-41v1m0 15v3m0 18v3m0 10v1m0 8v1m2-62v1m0 35v2m0 9v1m0 13v1m2-43v2m0 14v3m0 2v2m0 19v1m4-3v1m2-4v1m2-5v1m2-8v1m2-17v2m6-37v1m2 1v2m0 2v6m2 40v2m2 2v1m4-6v1m0 4v2m2-5v1m2-6v1m2-3v1m2-17v2m0 16v1m2-26v2m0 13v8m2-25v1m2-5v1m0 2v1m2-4v2m0 1v2m2-2v6m0 2v1m2 11v2m0 6v7m2-8v2m0 1v1m4-21v1m2-5v1m0 7v3m0 25v1m2-40v2m0 5v1m0 14v2m0 11v1m2-43v2m0 9v2m0 8v1m0 16v1m0 1v3m2-46v1m0 13v1m0 3v1m0 22v1m0 7v2m2-48v1m0 4v1m0 6v1m0 20v1m2-21v4m0 8v1m0 21v1m2-30v3m0 27v1m2-1v1m2-1v1m2 1v1m2-2v2m4-1v1m2 0v1m2-5v2m2-6v1m2-29v3m0 3v1m0 22v1m2-33v2m0 2v2m0 1v2m0 14v2m0 7v4m2-43v4m0 3v2m0 8v1m0 12v1m0 6v2m0 7v1m2-46v7m0 1v2m0 6v2m0 9v1m0 3v4m0 1v1m0 8v3m2-43v3m0 5v1m0 29v2m2-11v1m2-8v2m2 19v1m2-4v2m2-11v1m2-10v1m2-12v1m2-4v6m2 0v1m0 19v1m2-22v2m0 2v1m0 14v1m10-8v2m2 10v1m2 3v1m2-1v1m2-14v2m2-5v9m2-9v1m4-5v1m2-5v1m2-5v10m0 4v1m2-17v5m0 1v1m0 6v1m2-26v2m0 2v8m0 11v1m2-23v3m0 17v3m0 4v2m2-10v1m0 11v3m4 6v1m2-10v1m0 9v2m2-23v1m0 10v1m0 13v1m2-30v1m0 6v1m2 21v1m2-12v2m2-43v6m0 2v7m0 1v1m0 8v2m0 1v2m0 10v2m6-46v1m0 30v1m2-28v14m0 1v1m2 18v4m0 2v3m2-7v6m2-3v3m2-4v4m2-3v3m2-4v6m2-2v1m2 0v2m2-4v1m0 1v3m2-2v4m2-4v1m0 1v1m0 1v2m2-5v3m2-7v5m2-4v1m0 1v2m2-5v5m2-4v4m2-2v3m2-1v2m2 0v2m2 4v1m2 1v1m2-2v2m2 1v2m2-2v2m2-1v1m2-2v1m2 0v1m2-1v1m2-2v1m2-2v1m2-3v1m2-5v3m2-3v2m2 2v1m6-13v1m2-11v1m2 4v2m0 14v2m2-2v1m2-18v2m4-29v2m2-6v2m2-4v4m0 2v1m2-3v3m2 17v1m0 21v2m2-22v2m2-5v2m2-1v3m0 18v1m0 4v1m2-36v3m0 25v1m0 1v2m2-45v3m0 45v1m2-48v2m0 37v2m0 8v1m2-50v1m0 1v5m0 12v6m0 2v2m0 19v1m2-1v2m2-4v1m4-13v1m2-26v1m2-6v1m2-5v1m2-7v1m2 26v4m2-35v1m0 8v2m0 19v1m2-1v1m2 1v1m0 18v1m0 10v1m2-28v2m0 5v1m0 20v2m2-1v1m2-40v3m0 35v1m2-2v2m4-5v3m2 0v3m2-4v1m2-10v1m2 9v1m2-8v1m2-9v1m4-9v1m0 6v1m0 1v1m0 1v5m0 13v2m2-1v1m2 1v1m2 0v1m8-12v1m2-5v1m2-11v2m0 8v1m2-16v6m0 26v1m2-32v6m0 9v1m0 15v2m2-19v1m0 16v2m2-20v2m0 16v1m2-18v1m0 16v1m2-4v1m2-4v1m2-54v2m0 16v2m0 1v1m0 2v11m2-43v2m0 2v8m0 2v10m0 2v9m0 1v2m0 5v1m0 12v1m2-59v6m0 8v5m0 1v2m0 2v5m0 1v2m0 4v2m0 2v2m0 13v1m2-61v2m0 2v2m0 15v1m2-25v8m0 16v1m0 52v1m2-60v1m0 49v1m0 7v1m2-60v4m0 8v7m0 39v1m2-47v2m0 15v1m0 13v1m0 12v1m0 3v2m2-53v2m0 2v4m0 45v1m2-60v1m0 1v2m0 4v2m0 9v1m0 39v1m2-66v2m0 2v2m0 24v1m0 19v1m0 15v1m2-70v7m0 12v2m0 2v3m0 5v3m0 2v1m0 33v1m2-74v11m0 1v4m0 4v2m0 6v2m0 42v1m2-73v2m0 2v2m0 2v4m0 2v2m0 10v2m0 2v2m0 40v1m2-2v3m2-4v1m2-7v1m0 3v2m2-12v1m0 4v2m0 6v1m2-54v2m0 20v3m0 14v1m0 14v1m2-1v1m2-1v1m2-1v1m2 0v1"/>
<path stroke="#ffe500" d="M171 543v5m2-3v1m2-2v6m2-13v11m2-4v5m6 20v2m2-35v1m0 35v2m2-40v1m0 39v1m2-40v3m2-2v5m0 1v1m2-5v2m0 2v4m0 2v2m2-10v2m0 16v1m0 105v1m2-3v1m2-94v1m2 4v1m2-26v1m0 16v1m0 7v1m0 87v1m2-114v1m0 22v1m0 1v2m6-3v1m2 7v1m2 1v1m2-1v1m0 81v1m2-87v1m2-20v2m0 5v1m0 2v1m0 1v4m2 5v2m2-2v1m2-1v1m2-1v2m2 0v2m2-2v1m2-3v1m2-2v1m2-3v1m2-3v1m6 2v4m2-21v2m0 11v1m0 6v1m2-25v1m0 1v1m0 7v2m0 9v1m4-10v1m2-9v1m2-7v1m0 3v1m2-4v3m2 7v1m2-3v1m2-5v4m2-1v2m0 2v1m2-7v4m2 3v3m2-2v1m2-3v4m2 9v2m2-2v1m2-6v3m2-15v2m2-9v3m2-5v3m0 4v2m2-8v2m0 2v4m2 19v1m2 0v1m2 0v1m2-1v1m2-1v1m2-2v1m2-1v1m2-1v1m2-2v1m2-12v1m2-13v1m2 7v6m0 11v1m2-1v1m4-40v1m0 1v1m2 17v1m0 14v1m2-17v1m0 13v1m2-37v1m0 2v1m0 5v3m0 5v3m0 5v4m0 4v3m0 3v2m2-34v1m0 1v6m0 2v4m0 1v3m0 14v2m2-35v4m0 11v3m0 1v2m2-23v2m0 29v5m2 0v1m4-4v1m2-1v1m2 2v1m2 1v1m2-11v7m2-12v1m4 8v1m2 2v2m2 1v1m2 0v1m4-5v1m2-25v3m0 1v2m0 2v2m0 7v2m2-8v1m2 14v2m2 1v1m2-2v1m2-3v1m4-14v2m2-8v1m0 2v1m0 1v1m0 9v1m0 5v1m0 1v1m2-34v7m0 13v1m0 11v1m2-32v6m0 4v4m0 17v1m2-3v1m2-4v1m6-6v1m2-2v1m2-4v2m2-7v2m2-12v3m0 18v1m0 4v1m2-27v5m0 1v1m0 9v1m2-16v4m0 1v2m2 1v3m0 6v2m2 6v1m2-28v1m0 1v5m0 20v1m2-23v4m2 2v4m0 2v3m2-7v8m0 6v2m2-1v2m2 0v1m2-2v1m2-1v1m2-4v1m2-7v2m2-6v2m2-1v1m2-8v2m2-21v2m2-21v1m4 0v2m0 45v5m2-42v2m0 6v3m0 11v12m0 4v1m0 2v6m2-20v1m0 1v9m0 8v1m2-1v1m2 0v1m2-2v1m2-2v1m2-3v2m2-9v2m0 1v2m2-6v1m2-1v1m4 10v1m2-4v2m2-4v1m2-6v2m2-2v2m2 10v1m2-2v3m2-5v2m2-15v6m2-6v1m2 6v1m2 0v1m2 4v2m2 0v1m2-6v1m4 3v1m2 0v2m2-4v1m2-9v1m2-14v1m2-8v7m2-9v3m0 2v2m2-11v1m0 2v10m2-11v1m0 2v4m0 2v3m2-7v2m2-4v1m0 1v2m2-6v2m0 12v1m0 3v1m2-19v5m0 18v1m0 4v3m2-20v1m2-5v1m4 3v1m2-3v1m0 9v1m0 7v1m2-21v2m0 5v1m0 10v1m2-21v5m0 1v1m0 10v1m2-21v5m0 1v1m0 11v2m2-3v2m2-6v3m2-43v1m0 4v2m0 6v2m0 24v1m0 8v1m0 10v1m2-29v2m0 2v3m0 5v1m0 15v1m2-42v1m0 12v1m0 3v2m2 20v1m4-4v1m2-5v2m2-9v2m2-20v1m0 10v1m4-46v1m4 3v2m0 6v6m0 2v2m0 8v2m0 2v6m0 1v3m2 10v1m2 2v1m2 2v1m4-7v1m2-6v1m2-3v2m2 0v2m2-26v5m0 2v2m0 2v2m0 8v3m2-27v4m0 12v8m2-28v2m0 1v4m0 1v2m0 2v2m2-13v1m0 2v10m2-6v2m0 1v6m2 7v6m0 7v1m2-7v1m0 1v2m2-19v1m0 1v1m0 1v1m2-8v1m0 28v4m2-37v7m0 29v1m2-39v1m0 3v1m0 17v1m0 2v2m0 7v1m2-42v3m0 5v1m0 11v1m0 14v1m0 5v1m2-46v1m0 10v2m0 5v1m0 20v1m0 10v1m2-48v4m0 8v1m0 17v2m0 15v1m2-32v2m0 1v1m0 3v1m0 23v1m2 0v1m2-1v1m2-1v2m2 0v1m2-1v1m2-3v1m2 1v1m4-3v1m2-6v1m2-27v3m0 24v2m2-33v2m0 2v1m0 18v3m0 2v2m0 4v4m2-43v3m0 2v8m0 14v2m0 3v1m0 10v1m2-40v1m0 2v6m0 12v3m2-23v5m0 32v1m2-11v1m2-7v1m2 19v1m2-3v1m2-11v1m4-21v1m2 1v3m2-2v1m0 6v2m0 11v3m2-23v2m0 16v1m2-4v1m2-2v1m2-3v1m2-2v1m2 0v4m2 7v1m4 3v2m2-14v2m0 1v1m2 0v1m2-9v3m2-6v3m2-4v2m2-6v13m2-3v1m2-4v2m2-4v3m2-3v4m0 2v3m0 1v2m2-1v2m2 4v1m2 0v1m2-10v2m0 1v6m0 2v2m2-18v4m0 15v1m2-25v1m0 22v1m2 0v1m2-11v1m0 1v8m2-47v2m0 19v1m0 14v1m2-52v2m0 41v1m2-43v1m2 4v1m2 16v1m0 16v3m0 1v13m2-5v8m2-9v4m2-4v3m0 1v1m2-5v3m2-3v3m2-1v1m2-2v3m2-1v2m2-1v4m2-2v4m2-7v1m0 1v1m0 2v3m2-5v2m2-4v4m2-7v1m0 2v2m2-2v2m2-2v2m2-1v1m2 0v3m2-1v4m2 1v2m2 0v3m2-3v3m2 0v1m2-1v1m2-1v1m2-2v2m2-1v1m2-1v1m2-2v1m2-2v1m4-5v1m2-2v3m2 0v1m0 1v1m2-4v1m2-4v1m4-19v4m2 2v1m0 3v1m0 8v1m0 2v2m2-3v1m2-17v10m2-22v3m2-18v3m2-7v6m2-6v2m0 1v1m0 2v3m2-6v5m2 13v2m0 17v2m0 2v1m2-21v1m2-4v1m0 22v5m2-26v3m0 13v2m0 6v1m2-34v4m0 19v2m0 4v1m2-43v1m0 2v7m0 1v2m0 30v2m0 1v2m2-48v7m0 4v8m0 4v1m0 11v2m0 11v1m2-44v12m0 30v1m2 0v1m4-9v1m2-8v1m2-26v1m2-6v1m6 12v3m2-23v1m0 22v2m2-2v2m2 0v2m0 28v1m2-27v5m0 23v1m2-1v1m2-2v1m2-1v1m2-4v1m2 0v1m2 2v1m2-4v1m0 46v2m2-58v1m0 55v1m2-47v1m0 41v1m2-50v1m4-14v1m0 1v1m2-6v6m0 1v1m0 1v1m0 20v1m2-1v1m2 1v1m2 0v1m4-7v1m6-10v1m4 9v1m0 6v2m2-18v1m0 16v1m2-19v1m0 17v1m2-19v3m0 14v2m10-35v1m0 2v5m2-26v1m0 2v2m0 5v1m0 2v4m0 2v2m0 2v2m0 1v1m2-49v2m0 18v2m0 14v7m0 28v2m2-53v1m0 17v4m0 3v2m0 26v1m2-60v2m0 22v6m0 28v2m2-58v3m0 3v2m0 7v5m0 2v8m0 13v1m0 11v3m2-32v9m0 1v3m0 12v1m0 6v2m2-53v2m0 50v2m2-61v1m0 2v4m0 2v9m0 41v2m2-66v2m0 2v17m0 1v6m0 37v2m2-65v12m0 2v2m0 11v2m0 35v1m2-64v1m0 4v4m0 2v4m0 1v1m0 45v2m2-59v10m0 2v2m0 43v1m4-3v2m2-6v1m0 2v3m2-14v4m0 9v2m2-54v1m0 18v1m0 3v5m0 25v2m2-2v2m2-2v2m2-2v2m2-1v2"/>
<path stroke="#ffd500" d="M171 548v6m2-8v8m0 2v1m2-7v6m2-8v7m0 1v10m2-17v9m0 2v1m2-5v6m2 1v1m2 7v1m2 2v1m2-40v1m0 39v1m2-38v5m0 29v2m2-33v1m0 1v3m2 0v2m0 2v6m2 3v3m0 100v2m2-99v1m0 95v1m2-2v1m2-107v1m0 3v2m0 15v2m0 1v1m0 82v1m2-112v1m0 24v3m2-28v1m0 20v1m0 4v1m0 87v2m2-102v1m0 100v1m2-98v1m4 13v1m2 82v1m2-82v1m0 79v1m2-85v3m0 82v1m2-98v2m0 6v1m2 6v1m2-2v1m2-1v1m2 0v2m2 0v1m2-2v1m2-3v1m4-4v1m4-6v2m2-5v3m2-7v5m0 6v1m0 4v1m2-20v8m0 2v1m2-16v1m0 1v2m0 1v4m2 8v1m2-6v1m2-9v6m2-12v3m0 1v3m2-4v9m2-1v4m2-6v8m2-9v5m0 2v10m2-16v2m0 1v5m0 2v3m2-13v10m2-4v4m2-5v3m2-2v6m2 5v1m2-2v2m2-5v2m2-15v11m2-17v2m0 2v4m0 2v2m2-14v4m0 2v4m2-10v2m0 4v6m0 2v2m0 2v2m2 6v1m2 0v1m2 0v1m2-1v1m4-2v1m2-1v2m2-2v2m2-3v1m2-12v1m2-13v15m2 10v1m2-1v1m2-5v1m2-38v1m0 1v1m0 1v1m0 15v14m2-14v1m0 16v2m2-21v2m0 15v2m2-38v2m0 9v5m0 12v4m0 8v1m2-34v1m0 6v2m0 4v1m0 19v3m2-20v1m0 2v8m0 2v4m2-1v1m2 0v2m2-2v1m2-4v1m0 2v1m2-4v3m2 0v1m2 1v1m2-5v2m0 2v1m2-16v5m2-2v3m2 3v1m2 3v1m2 1v1m2 0v1m2-2v1m2-4v1m2-23v1m0 2v2m0 11v3m2-10v9m2 7v1m4 0v1m2-3v1m2-7v1m2-7v3m2-10v2m0 1v1m0 1v7m0 9v1m0 1v1m2-28v13m0 13v1m2-27v4m6 14v1m2-3v1m2-1v2m2-3v1m2-3v2m0 8v1m2-16v6m0 2v2m0 1v6m2-26v18m0 6v1m2-23v1m0 1v9m0 8v2m2-21v1m0 2v14m2-10v6m0 2v9m2-2v2m2-2v1m2-4v1m2-6v5m0 2v3m2-1v1m2 0v2m2-1v1m2-2v1m4-4v1m2-6v1m2-5v2m2-2v1m2-7v2m2-21v1m2-21v3m2-6v1m2 4v1m0 40v4m0 5v6m2-46v1m0 3v2m0 31v2m0 6v2m2-21v1m0 18v1m2-1v1m2 0v1m2-2v3m2-4v1m2-2v1m2-5v2m2-7v1m0 1v1m2-3v3m2 7v4m4-5v1m2-4v1m2-5v4m2-4v1m0 1v1m0 1v2m2 5v2m4-4v1m2-10v5m0 1v1m2-12v4m0 1v2m0 4v1m2-5v4m2-3v4m2 2v2m2-1v1m2-6v2m2-7v1m0 1v2m0 2v2m2 1v2m2 0v1m2-4v1m2-9v1m0 3v2m2-22v2m0 1v6m0 1v2m2-10v6m0 2v4m2-18v2m0 2v6m0 2v6m2-12v10m0 4v2m2-20v2m0 3v11m2-16v12m2-15v1m0 2v6m0 2v8m2-20v4m0 2v6m0 5v3m2-6v1m0 4v2m0 8v1m2 1v2m4-29v1m0 6v1m4-4v9m2-10v5m2-4v1m0 12v1m2-2v5m2-6v3m0 2v2m2-10v3m0 7v7m2-59v4m0 2v4m0 1v1m0 27v5m0 2v1m0 12v1m2-63v1m0 31v1m0 7v2m0 1v2m0 17v1m2-42v2m0 1v9m0 28v1m2-2v2m2-3v1m2-3v1m2-4v1m2-8v1m2-54v1m0 30v2m0 12v1m8-29v2m0 2v8m0 2v2m0 6v1m0 3v2m2 9v1m2 2v4m2-1v2m2-5v1m2-4v1m2-6v1m2-2v7m2-5v5m2-26v2m0 2v2m0 13v1m0 2v2m2-28v12m0 8v14m2-35v1m0 2v2m0 2v2m0 2v21m2-25v8m0 4v9m2-18v11m0 6v2m0 2v2m2-2v4m2-7v4m2-22v1m0 1v1m0 1v3m0 2v3m2-15v8m0 19v1m0 4v2m2-2v1m2-39v3m0 19v2m0 10v1m2-40v1m0 2v2m0 13v2m0 10v2m2-38v1m0 8v1m0 27v1m0 12v1m2-36v1m0 5v1m0 9v1m0 18v2m2-32v1m0 1v3m0 25v2m2-1v1m2-1v1m2 0v1m2 0v1m2-1v1m2-3v1m4 1v1m2-3v3m2-8v1m2 1v1m2-8v2m0 10v1m2-15v3m0 12v2m2-1v1m2-3v2m2-12v2m2-8v6m0 4v1m2 9v1m2-3v1m2-11v1m2-11v1m2-11v1m2 3v1m2-2v1m0 2v3m0 16v1m2-5v1m2-4v1m2-2v1m6 0v1m4 10v1m2 1v2m2-14v1m0 1v5m0 2v5m2-11v2m0 2v2m2-12v1m0 1v1m0 6v1m2-13v5m2-7v9m2-2v2m2-4v3m2-5v5m0 1v1m2-8v8m2-2v1m0 2v3m0 1v2m2-5v4m2 1v1m4-8v1m0 10v2m2-26v1m0 4v1m0 20v1m2-31v1m0 3v1m0 24v1m2 0v1m2-11v1m0 8v1m2-11v1m2-51v3m0 37v1m0 1v1m2-43v1m0 38v1m2-35v1m0 27v1m0 5v1m2 1v1m0 13v2m2 1v1m2-6v1m0 1v5m2-8v1m0 1v2m2-4v3m0 4v1m2-8v2m2-2v5m2-4v4m2-3v4m2-1v2m2 0v1m2 0v1m2-4v5m2-5v4m2-6v7m2-7v1m0 1v1m0 1v2m2-6v2m0 2v1m2-5v6m2-3v4m2-1v2m2 1v3m2 0v1m2-1v1m2 0v2m2-2v1m2-1v1m2-1v1m2-1v1m2-1v2m2-3v1m2-2v1m2-4v1m2-2v2m2-1v2m2-1v1m0 1v1m2-4v1m4-13v4m2-10v8m0 2v2m0 7v6m2-22v2m0 2v5m0 2v1m0 5v2m2-4v1m2-8v3m2-22v2m0 2v2m0 2v6m0 2v3m2-34v1m0 15v1m0 1v7m0 2v2m2-30v3m0 18v1m0 4v2m2-30v2m0 3v2m0 16v6m2-25v11m0 7v4m2-7v5m0 2v4m0 2v2m0 1v1m0 5v1m2-21v9m2-12v14m0 6v2m0 5v2m2-25v13m0 9v1m2-31v19m0 7v1m2-43v2m0 7v1m0 2v10m0 2v6m0 2v10m0 5v3m2-44v4m0 8v4m0 1v11m0 14v1m2-2v2m4-5v1m4-12v1m2-26v4m2-9v2m2-7v1m2-7v1m2 19v3m0 7v1m2-30v2m0 25v6m2-6v8m0 2v2m0 6v1m2-17v16m0 13v2m2 0v1m2-1v1m2-2v1m2-1v1m2-4v2m0 59v1m2-61v4m0 48v6m0 2v2m2-59v1m0 39v3m0 2v10m2-18v6m0 2v7m2-64v3m0 2v6m0 35v1m0 1v7m0 1v3m0 2v2m2-53v1m0 36v4m0 1v3m4-61v3m2-7v1m0 1v5m0 2v4m2 14v2m2-2v1m2 1v1m2 0v1m2-4v1m4-8v1m2-3v1m2-4v4m2-5v4m0 9v5m2-17v2m0 16v1m2-18v1m0 4v1m2-7v1m0 2v1m0 14v1m2-1v1m2-3v2m2-5v1m6-9v1m2-16v1m0 11v1m2-38v9m0 3v2m0 7v12m0 15v1m0 2v2m2-54v1m0 15v1m0 4v3m0 2v3m0 1v1m0 1v1m0 12v1m0 7v3m2-61v2m0 19v1m0 6v5m0 12v2m0 11v1m2-56v3m0 14v2m0 8v6m0 1v6m0 15v5m2-28v1m0 24v2m2-1v1m2-1v2m2-47v1m0 45v1m2-1v1m2-50v1m0 48v1m2-2v1m2-1v2m2-3v1m2-9v2m0 6v1m2 0v1m2-54v2m0 1v1m0 13v1m0 9v1m0 1v1m0 5v1m0 18v1m2-1v1m2-1v2m2-2v2"/>
<path stroke="#ffc300" d="M171 554v9m2-9v2m0 1v4m0 1v2m0 87v1m2-96v12m2-13v1m0 10v4m2-12v2m0 1v10m2-9v8m0 94v2m2-102v3m2 5v2m2-37v2m0 20v1m0 15v2m2-39v1m0 26v1m0 10v2m2-35v1m0 30v1m2-29v5m0 113v2m2-110v2m0 104v4m2-104v3m0 96v1m2-96v2m0 92v1m2-2v1m2-105v3m0 19v1m0 1v3m0 2v1m0 75v1m2-110v1m0 26v1m0 82v1m2-111v1m0 18v1m0 6v1m0 83v3m2-99v1m0 98v1m2-96v3m0 93v1m2-92v1m0 89v2m2-83v2m0 80v1m2-82v1m0 79v1m2-80v2m0 76v1m2-81v2m0 77v3m2-88v3m0 84v2m2-82v1m2-2v1m2-1v1m2 1v1m4-1v1m2-3v1m2-3v2m2-3v2m0 56v4m2-65v3m0 54v7m2-65v2m0 51v1m0 4v2m0 2v1m2-65v2m0 2v3m0 1v2m0 45v1m2-58v6m2-6v2m0 9v1m2-21v1m0 16v2m2-5v2m0 1v2m2-10v6m2-9v9m2-14v10m0 2v2m2-9v4m0 1v2m2-4v10m2-8v10m2-14v2m0 10v1m2-9v2m0 3v4m2-7v6m2-6v7m2-9v6m0 2v1m2-5v6m2 0v1m2-1v1m2-4v3m2-7v2m2-17v2m0 4v2m0 2v5m2-9v12m2-10v2m0 2v2m0 2v4m0 2v1m2 0v2m2-1v1m2 0v2m2-2v1m2-2v2m2-2v1m2 0v1m2-1v1m2-3v2m2-13v10m2-8v6m0 2v1m2 2v1m2-1v1m2-5v1m2-45v1m0 3v2m0 18v2m0 14v1m2-43v1m0 5v3m0 18v1m0 19v1m2-41v1m0 6v3m0 5v1m0 2v1m0 19v6m2-3v2m2 0v3m2-12v2m0 4v4m2-4v3m2-1v2m2-3v2m2-5v2m0 1v1m2-2v2m2-1v2m2 0v1m2-4v2m0 1v1m2-12v8m2-7v1m0 2v3m2-2v3m2 1v2m2 0v2m2-1v1m2-2v3m2-6v1m2-5v3m2-4v5m2 3v1m2 0v1m2-1v1m2-3v1m2-7v5m2-9v10m0 2v2m2-12v2m2 9v1m2-2v1m2-3v1m2-4v2m2-4v2m2-4v5m2-4v2m2-4v3m2-4v4m0 1v3m0 1v2m2-12v2m0 2v1m0 6v1m2-2v1m2-3v1m2-5v7m2 0v1m2-1v2m2-3v1m2-4v3m2-4v2m0 3v2m2-2v2m2 0v1m2-1v1m2-2v1m2-2v1m2-3v1m2-6v2m2-5v1m2-2v1m2-6v1m2-21v4m2-22v2m2-7v3m2 2v5m0 34v1m0 15v2m2-47v3m0 43v1m2-2v2m2-2v1m2 0v1m2 0v1m2-4v1m2-2v1m2-4v3m2-9v1m0 1v6m2-6v9m2 2v1m2-4v3m2-4v2m2-5v2m2-3v3m2-6v1m0 1v1m0 2v4m2 3v1m2-2v2m2-4v1m0 1v2m2-9v1m0 1v1m2-9v1m0 2v4m0 1v1m2-2v3m2-2v1m2 3v1m2-1v2m2-6v2m2-8v1m0 2v2m0 2v1m2 2v3m2-2v2m2-5v4m2-12v3m0 2v2m2-15v1m0 2v6m0 2v5m2-17v2m0 4v10m2-18v2m0 6v11m2-13v4m0 2v6m2-10v6m0 2v4m2-16v14m2-20v2m0 8v9m0 1v1m2-27v2m0 14v10m2-15v4m0 11v3m2-3v1m0 2v2m2-29v1m2 3v1m2-1v1m0 13v1m2 1v4m2-6v5m2-7v8m2-5v4m2-7v2m0 2v4m2-11v7m0 7v1m2-50v1m0 33v2m0 14v1m2-63v1m0 29v1m0 10v1m0 20v1m2-41v1m0 38v2m2-2v1m2-3v1m2-3v2m2-5v2m2-9v3m2-27v1m0 15v1m2-48v1m6 45v4m2 6v2m2 4v2m2-1v1m2-5v1m2-4v2m2-7v9m2-4v4m2-4v3m2-9v2m0 2v9m2-3v2m0 2v1m2-31v2m0 21v4m0 1v1m2-23v4m0 9v8m2-15v6m0 2v2m0 2v4m2-2v1m2-4v1m2-16v2m0 3v9m2-16v4m0 2v2m0 4v7m2 6v1m2-5v1m2-40v2m0 17v1m0 18v2m2-46v6m0 1v1m0 9v2m0 16v1m2-21v5m0 1v1m0 7v1m0 21v1m2-1v1m2-1v1m2-1v2m2-1v1m2 0v1m2-1v1m2-3v1m2 0v1m2 0v2m2-2v1m0 2v1m2-11v4m2-2v4m2 1v1m2 1v2m2-2v3m2-4v2m2-12v4m2-6v4m0 1v3m2 7v4m2-6v1m2-11v7m2-17v1m2-11v1m2 3v1m2-2v2m2 16v4m2-7v1m4-5v1m2-2v1m2 4v3m4 8v1m2 2v2m2-9v2m0 5v1m2-10v2m0 2v6m2-17v1m0 1v6m0 1v5m2-13v4m2-2v4m2-4v6m2-7v5m2-5v1m0 1v4m2-4v3m2 1v1m0 2v1m2-2v5m2-3v2m2-2v1m2 4v3m2-26v2m0 22v1m2-2v2m2-1v2m2-3v1m2-11v1m2-49v5m0 1v2m0 27v2m0 3v1m2-43v1m0 36v1m0 1v1m2 6v4m2 6v2m2 0v1m2-6v1m0 5v1m2-5v3m2-4v4m0 1v1m2-7v5m2-2v4m2-4v4m2-3v2m0 1v2m2-4v2m2-1v2m2-1v1m0 1v1m2-2v1m2-2v1m2 0v1m2-7v1m0 1v1m0 2v2m2-6v2m0 1v2m0 9v1m2-11v3m2-2v2m2-1v3m2 1v4m2-3v1m2-1v2m2 0v1m2-2v1m2-1v1m4-1v1m2 0v1m2-3v2m0 32v1m2-36v1m2-4v4m0 29v2m2-35v3m2-2v5m2-3v1m0 21v2m0 4v3m2-19v2m0 4v2m0 2v4m0 2v2m2-37v2m0 19v8m0 4v2m2-40v4m0 10v2m0 2v4m0 2v4m0 4v2m2-36v2m0 2v7m0 6v1m0 6v2m0 2v2m2-33v1m0 6v2m0 8v4m2-7v3m0 8v2m0 2v2m2-22v1m0 1v1m2-23v2m0 2v2m0 6v2m0 3v7m0 9v4m0 1v1m2-55v1m0 12v2m0 1v1m0 7v2m0 2v7m0 1v1m2-36v1m0 14v3m0 1v4m0 2v1m0 1v5m0 5v1m2-36v2m0 13v1m0 6v7m2-21v1m0 5v1m0 4v19m2-21v2m0 4v2m0 2v1m0 7v2m2-14v7m0 3v2m2-10v6m0 9v2m2-4v3m2-7v2m2-23v2m0 6v2m2 17v2m2-2v1m2-2v1m6-15v1m2-23v4m2-11v3m2-9v2m2-8v1m2-6v1m0 21v2m0 11v11m0 2v1m2-49v1m0 1v3m0 33v4m0 2v2m2-6v2m0 2v6m0 1v8m0 1v2m2 3v1m2 60v2m2-62v1m0 52v7m2-61v2m0 49v2m0 4v1m2-58v1m0 50v1m0 7v3m2-64v1m0 42v4m0 6v6m0 1v1m0 2v2m2-62v1m0 37v2m0 2v6m0 6v2m0 2v2m2-60v2m0 35v2m0 3v2m0 10v4m2-62v1m0 36v3m0 15v5m2-66v2m0 6v3m0 27v5m0 1v1m0 11v2m0 2v4m2-56v1m0 30v5m0 8v12m2-64v6m0 33v17m0 2v4m2-68v5m0 1v2m0 38v4m0 6v2m0 2v3m0 3v2m2-68v2m0 4v16m0 33v5m0 4v2m2-44v1m0 33v4m2-39v2m2 0v1m0 44v2m2-46v1m0 35v2m0 2v3m4-50v1m2-4v1m0 1v5m2-9v1m0 1v4m0 2v2m2-10v6m2-7v2m0 1v1m0 2v3m0 5v2m2-17v4m0 1v2m0 10v1m2-18v4m0 12v1m2-18v2m0 16v1m2-1v1m2-2v3m2-7v1m2-5v2m2-5v2m2-3v1m0 19v1m2-24v1m0 6v4m0 4v3m2-47v3m0 21v3m0 6v6m0 5v3m2-56v1m0 27v1m0 1v1m0 1v5m0 2v5m0 11v1m2-60v9m0 9v1m0 12v12m0 14v3m2-26v1m2 25v1m2-1v1m4 0v1m2-1v1m2-1v1m2-2v2m4-3v3m2-3v1m2 0v1m2-53v1m0 1v1m0 11v1m0 11v1m0 1v5m2 20v1m2 0v1m2-1v1m2-2v1"/>
<path stroke="#ffb300" d="M171 563v7m0 46v2m0 5v1m0 2v9m0 1v5m0 9v10m2-99v1m0 2v5m0 51v2m0 6v2m0 18v3m0 1v8m2-92v5m0 1v2m0 73v11m2-90v2m0 2v1m0 77v2m0 4v4m2-91v1m0 81v1m0 4v4m0 2v2m2-96v2m0 84v1m0 1v1m0 1v2m2-95v6m0 1v3m0 71v2m2-76v6m2-41v1m0 37v2m2-43v2m0 1v2m0 37v4m2-38v5m0 22v1m0 3v1m0 88v2m2-115v3m0 46v4m0 58v2m2-106v4m0 26v10m0 2v2m0 59v1m2-97v3m0 22v2m0 2v2m0 62v3m2-93v4m0 87v1m2-90v4m0 84v1m2-77v2m0 1v2m0 71v2m2-95v1m0 13v7m0 38v2m0 33v2m2-109v7m0 19v1m0 3v2m0 31v1m0 44v1m2-95v1m0 41v2m0 53v1m2-92v2m0 88v3m2-90v4m0 84v1m2-79v2m0 76v2m2-80v4m0 73v2m2-77v2m0 73v1m2-78v1m0 2v1m0 69v4m2-82v4m0 70v2m0 5v1m0 1v1m2-79v2m2-3v1m2-1v3m0 49v9m2-59v2m0 46v6m0 25v1m2-80v1m0 43v4m0 30v2m2-80v1m0 25v2m2-30v1m2-2v1m0 54v13m2-17v4m0 4v4m2-66v3m0 45v6m0 7v2m0 1v2m2-68v4m0 44v3m0 1v4m0 2v2m0 1v2m2-65v2m0 3v1m0 2v3m0 35v7m0 1v8m2-54v3m0 30v1m0 4v4m0 4v1m4-49v2m2-5v1m2-2v4m2-4v1m0 1v3m2-9v2m0 2v4m2-9v1m0 2v8m2-2v2m2 0v1m2-2v2m2-2v1m2-2v3m2-2v3m2-6v2m0 1v1m0 58v4m0 2v2m2-66v2m0 50v9m0 1v2m2-63v3m0 48v6m2-57v3m0 45v6m2-55v1m0 43v4m0 4v2m2-59v7m2-9v7m2-4v5m2-3v2m0 1v1m0 48v2m2-49v3m2-3v3m2-1v1m2-2v2m2-2v1m2-2v2m2-1v2m2-2v1m2-2v1m2-4v2m2-4v2m0 1v1m2 2v1m2-1v1m2-5v1m2-45v3m0 7v1m0 10v2m0 17v2m2-41v2m0 3v1m0 16v1m0 21v1m2-36v1m0 3v1m0 1v3m0 1v2m0 26v2m2-3v3m2 0v1m2-3v2m2-3v3m2-2v2m2-3v3m2-4v1m2-1v1m2 0v2m2-1v3m2-3v2m2-6v3m2-9v2m0 3v4m2-3v3m2 0v2m2 0v2m2-2v1m4-5v2m0 1v1m2-6v5m2-4v2m2 2v2m2-1v2m2-2v1m2-3v1m2-3v1m2 0v2m0 2v1m2-1v1m2-1v1m2-2v2m2-4v1m2-3v2m2-4v4m2-3v2m2-4v5m2-6v10m2-10v1m0 6v1m2-1v1m2-2v1m2-3v2m2 0v2m2-1v1m2 0v1m2-3v1m2-2v4m2-1v1m2-1v2m2-1v1m2-1v1m2-2v1m6-8v2m2-6v1m2-2v1m2-6v1m2-18v4m2-24v4m2-8v2m0 45v4m0 2v2m2-48v4m0 16v14m0 18v1m2-1v1m2-1v1m2-2v2m2-1v2m2-1v1m2-4v4m2-5v3m2-4v3m2-4v3m2 0v4m2-1v2m2-3v2m2-4v2m2-5v3m2-3v3m2 0v1m0 1v2m2 0v1m2-1v2m0 4v1m2-10v1m0 4v1m2-9v3m2-3v2m2-1v2m2-3v3m0 1v1m0 21v2m0 2v1m2-27v3m0 7v10m0 4v2m2-25v3m0 4v2m0 7v3m2-23v3m0 14v2m0 2v4m2-25v4m0 7v2m0 4v6m2-18v2m0 2v4m0 2v2m2-12v1m0 3v2m2-7v1m0 24v2m2-32v4m0 22v3m0 1v1m2-37v2m0 5v3m0 12v2m2-18v3m2-2v4m2-5v3m2-7v2m0 4v1m2-3v1m0 1v2m2-5v1m0 1v2m2-3v3m2 0v2m2-25v1m0 9v2m0 5v3m0 5v2m2-5v4m2-31v1m0 2v2m0 2v1m2-2v5m0 2v6m0 1v5m0 2v1m2-3v1m2-2v2m2-1v1m2-2v5m2-4v6m2-2v1m2 0v1m2-63v2m0 5v4m0 10v8m0 33v2m2-2v1m2-2v2m2-4v3m2-4v1m2-4v1m2-7v3m2-59v12m0 14v3m0 17v2m6-49v1m2 48v3m2 5v1m2 5v3m2-3v1m2-5v2m2-4v7m2-5v7m2-7v6m2-7v8m2-4v5m2-6v2m0 1v2m2-6v1m0 1v3m2-5v5m2-4v5m2-6v5m2-8v3m2-5v6m2-18v2m0 2v4m0 14v1m4-5v2m2-22v1m0 7v1m0 11v2m2-42v1m0 12v1m0 30v1m2-29v7m0 23v1m2-1v2m4-1v1m2-1v1m2 0v1m2-1v3m2-5v1m4 2v1m2-2v2m0 1v1m2-8v2m4 2v1m2 2v1m2 0v1m2-3v3m2-11v9m2-7v7m0 13v2m2-11v1m2-6v2m2-4v2m2-11v3m2-22v2m0 18v2m2-18v1m0 12v1m2 6v1m2-1v2m2-8v2m2-4v1m2-3v1m4 5v1m2 3v2m0 4v1m2-2v4m2 0v1m2-2v3m2-3v1m2-4v4m2-13v11m2-9v2m2 0v3m0 1v2m2-8v8m2-7v7m2-8v4m0 2v3m2-4v3m2 0v2m2-3v1m2-2v1m2 6v1m2-29v2m0 25v2m2-33v3m0 28v2m2-1v2m2-4v3m2-13v1m2-45v1m0 2v4m0 2v2m0 6v2m0 8v3m0 6v1m2-43v2m0 33v1m2-32v1m0 25v1m0 9v1m0 1v3m0 4v10m2-2v2m2-1v2m2-1v3m2-5v4m4-4v2m2 0v2m2-2v3m2-4v1m0 2v1m0 6v1m2-10v6m0 3v1m2-9v5m2-5v1m0 1v2m2-3v4m0 2v8m0 2v2m0 4v2m2-25v7m0 4v6m2-16v6m0 2v6m0 2v2m2-18v2m0 4v7m0 1v1m2-16v4m0 3v2m0 1v3m0 16v1m2-28v5m0 2v6m0 1v1m0 4v4m2-23v19m2-17v12m2-7v5m0 1v1m2-9v6m2-5v3m0 2v2m2-6v3m0 3v2m2-9v3m2-3v2m2-3v1m0 5v1m2-6v3m2 20v2m0 4v10m2-39v1m0 15v1m0 10v5m0 1v6m2-41v3m0 20v2m0 1v1m0 2v9m2-38v3m0 4v2m0 4v2m0 4v2m0 1v1m0 2v4m0 2v4m0 2v2m2-40v4m0 8v2m0 2v24m2-37v1m0 4v6m0 2v22m2-37v1m0 3v17m0 2v4m0 3v1m0 2v4m0 2v1m2-44v2m0 3v10m0 2v4m0 2v2m0 4v2m0 2v8m2-43v1m0 2v2m0 2v12m0 8v4m0 2v1m2-37v5m0 1v4m0 2v2m0 4v2m0 4v4m0 2v6m2-24v6m0 2v2m0 2v10m2-22v16m0 8v4m2-32v8m0 2v2m0 2v10m0 2v4m2-37v1m0 1v3m0 5v20m2-27v2m0 5v2m0 4v1m0 1v3m0 2v2m2-61v1m0 9v2m0 22v1m0 1v4m0 6v8m0 3v1m2-57v2m0 11v1m0 11v1m0 5v5m0 1v1m0 8v2m2-45v3m0 8v2m0 14v8m0 2v2m2-32v2m0 1v2m0 24v4m2-5v1m2-8v3m0 2v4m0 2v1m2 0v2m0 5v2m2-10v2m2-7v2m0 1v2m2 0v2m2-1v2m2-3v2m2-3v2m2-6v1m2-6v1m4-25v2m2-10v1m2-8v1m2-8v2m2 12v2m0 24v2m0 1v3m0 4v2m2-57v1m0 40v2m0 2v13m0 29v2m0 1v5m0 2v1m2-40v1m0 2v5m0 15v16m2-32v1m0 10v3m0 2v2m0 4v1m0 1v2m0 4v4m0 4v1m2-39v2m0 1v1m0 2v6m0 2v2m0 4v6m0 2v5m0 20v1m0 1v1m0 2v2m2-59v1m0 4v1m0 38v1m0 4v3m0 7v2m2-61v1m0 42v6m0 2v4m0 1v5m2-62v1m0 39v2m0 2v6m0 1v7m0 3v1m2-64v1m0 31v10m0 4v6m0 8v2m2-59v2m0 17v2m0 1v1m0 1v5m0 2v6m0 2v2m0 18v2m2-46v2m0 10v9m0 21v4m2-65v2m0 28v1m0 1v4m0 23v6m2-61v2m0 20v1m0 2v2m0 26v8m2-63v1m0 24v5m0 25v8m2-66v3m0 22v1m0 4v3m0 17v2m0 4v4m0 2v4m2-73v1m0 2v6m0 24v8m0 4v6m0 2v2m0 3v3m0 2v10m2-56v2m0 8v12m0 1v10m0 5v4m0 2v5m0 3v4m2-55v2m0 6v7m0 10v8m0 4v12m0 2v4m2-55v1m0 2v1m0 9v2m0 2v2m0 8v10m0 4v2m0 2v2m0 1v7m2-54v1m0 16v1m0 18v8m0 2v8m2-53v2m0 25v2m0 4v2m0 2v2m0 3v6m2-52v4m0 27v4m0 1v13m2-52v7m0 28v11m0 2v2m2-53v1m0 5v4m2-12v1m0 4v2m0 2v2m2-6v7m0 45v1m2-58v1m0 1v2m0 10v1m2-14v1m0 13v1m2-2v2m2-1v1m2-1v2m0 36v2m0 4v2m2-45v1m0 40v2m0 2v2m2-53v1m0 28v2m0 12v4m2-50v1m0 1v2m0 10v2m0 2v2m0 1v4m0 3v3m0 7v4m0 2v2m2-49v7m0 6v14m0 4v2m0 2v11m2-48v3m0 2v14m0 1v9m2-32v6m0 4v4m0 3v1m0 4v2m0 6v1m0 5v1m2-40v6m0 14v3m0 4v2m2-64v1m0 12v1m0 22v2m0 17v4m2-47v1m0 42v1m2 0v2m2-2v1m2-1v2m4-1v1m2-1v1m2-1v1m2-1v1m2-2v1m2 0v1m2-3v3m2-2v1m2-51v4m0 6v1m0 39v1m2 0v2m2-1v1m2-1v1m2-2v2"/>
<path stroke="#ffa200" d="M171 570v7m0 11v5m0 3v1m0 16v3m0 2v5m0 1v2m0 9v1m0 5v5m0 2v2m0 10v4m2-95v7m0 12v2m0 8v2m0 4v2m0 1v13m0 2v6m0 2v12m0 1v1m0 2v2m0 12v6m2-93v1m0 30v23m0 1v4m0 11v6m0 11v6m2-94v2m0 1v3m0 17v1m0 3v3m0 4v2m0 39v5m0 2v4m0 4v4m2-94v6m0 11v1m0 2v4m0 4v3m0 45v5m0 1v4m0 4v2m2-92v6m0 12v2m0 56v8m0 1v1m0 1v1m0 2v2m2-91v1m0 3v2m0 5v4m0 2v2m0 54v2m0 2v10m0 1v5m2-86v2m0 60v2m0 2v6m0 2v2m0 6v4m2-126v6m0 4v9m0 20v1m0 56v2m0 27v1m2-125v4m0 19v1m0 17v4m0 50v1m0 27v2m2-117v2m0 25v1m0 11v2m0 2v7m0 1v2m0 2v2m0 22v2m0 33v1m2-110v6m0 28v12m0 4v2m0 2v2m0 16v2m0 32v2m2-100v6m0 18v2m0 10v2m0 2v6m0 2v2m0 6v7m0 31v5m2-93v3m0 13v6m0 2v2m0 4v4m0 8v2m0 2v2m0 26v2m0 2v4m2-78v6m0 6v4m0 47v1m0 4v2m0 2v4m0 9v2m2-85v3m0 50v1m0 1v1m0 4v2m0 4v2m0 14v2m2-71v2m0 37v6m0 2v1m0 22v1m2-106v1m0 1v1m0 31v2m0 28v2m0 8v8m0 24v1m2-100v1m0 9v1m0 9v3m0 2v4m0 18v2m0 2v5m0 1v6m0 36v2m2-93v4m0 5v2m0 8v4m0 8v6m0 2v2m0 2v6m0 28v4m0 2v2m0 2v2m0 2v5m2-89v5m0 10v1m0 4v2m0 2v6m0 6v1m0 1v2m0 32v2m0 13v1m2-83v2m0 4v1m0 4v2m0 8v2m0 60v1m2-76v3m0 4v4m0 4v2m0 2v2m0 4v3m0 46v2m2-74v3m0 8v2m0 2v1m0 51v2m0 2v2m2-73v2m0 3v1m0 7v2m0 2v2m0 16v2m0 2v2m0 14v2m0 13v3m2-76v2m0 1v1m0 62v4m0 1v1m2-74v2m0 59v1m0 2v6m0 2v5m0 1v1m2-76v1m0 51v3m0 2v10m0 2v1m0 1v2m0 2v4m2-81v2m0 47v17m0 1v2m0 10v2m2-79v3m0 40v6m0 9v2m0 1v1m0 15v2m2-78v2m0 30v14m0 6v6m0 15v4m2-78v2m0 27v14m0 4v9m0 19v2m2-77v2m0 16v1m0 2v4m0 2v10m0 2v16m0 6v4m0 8v6m2-81v3m0 14v6m0 2v28m0 2v11m0 3v1m0 9v2m2-70v5m0 1v1m0 11v16m0 2v6m0 13v1m0 13v1m2-84v3m0 4v5m0 4v2m0 12v16m0 2v4m0 12v6m0 13v1m2-83v2m0 21v6m0 4v2m0 2v2m0 3v3m0 15v1m0 2v3m0 1v1m0 14v1m2-84v3m0 15v4m0 4v2m0 14v2m0 15v5m0 18v2m2-79v1m0 3v5m0 23v3m0 16v4m0 23v1m2-79v9m0 17v4m0 1v4m0 4v4m0 1v3m0 2v4m2-56v2m0 22v16m0 2v2m0 4v4m2-52v2m0 14v2m0 4v6m0 2v2m0 12v2m2-48v2m0 8v6m0 4v6m0 2v2m0 30v2m2-62v1m0 1v2m0 4v16m0 30v5m0 1v2m2-65v1m0 3v4m0 2v7m0 34v4m0 4v2m0 4v1m2-63v4m0 4v2m0 34v4m0 1v13m2-60v1m0 39v2m0 1v13m2-56v3m0 1v1m0 31v4m0 2v8m0 2v2m2-53v3m0 28v16m0 2v1m0 5v2m0 22v2m2-81v2m0 24v1m0 4v8m0 8v2m0 3v1m0 2v2m0 23v1m2-82v3m0 20v1m0 4v8m0 8v2m0 6v8m0 2v2m2-63v1m0 16v10m0 17v1m0 4v8m0 9v3m0 6v2m2-76v2m0 12v2m0 2v4m0 2v6m0 23v16m2-71v3m0 44v1m0 4v6m0 4v2m0 2v2m2-66v3m0 5v2m0 37v3m0 9v1m0 2v1m2-61v2m0 6v2m0 14v2m0 11v1m0 4v6m0 6v5m2-59v2m0 2v4m0 2v1m0 3v4m0 4v1m0 15v7m0 6v4m2-58v4m0 3v6m0 2v3m0 21v4m0 4v4m0 2v2m2-54v2m0 4v2m0 28v8m0 2v2m0 2v2m2-54v4m0 37v1m2-41v3m0 40v6m2-48v2m0 36v10m0 2v6m2-52v1m0 28v3m0 8v2m0 2v7m2-51v2m0 2v2m0 22v2m0 5v1m0 1v9m2-46v2m0 28v4m0 2v2m0 4v1m0 7v1m2-51v2m0 24v2m0 2v2m0 2v2m2-37v2m0 14v1m2-17v1m2 0v1m2-2v3m2-4v4m2-6v2m2-2v2m2 1v1m2-1v1m2-5v1m2-26v1m0 21v1m2-45v1m0 1v1m0 21v1m2-8v1m0 34v1m2-1v3m2-2v1m2-2v1m2-1v1m2-1v1m2-1v2m2-5v4m0 1v1m2-6v4m2-2v3m2-1v1m2-2v2m2-5v1m0 4v2m0 8v2m2-17v6m0 1v4m2-11v4m2-2v2m2 0v1m2-2v1m2-1v2m2-5v1m0 1v1m4-4v1m0 1v4m2-2v1m4-1v1m2-3v2m2-4v3m2 2v1m2-1v2m2-2v1m2-1v1m2-4v2m2-3v2m2-2v2m2-3v4m2-3v3m2 1v1m2-3v2m0 1v1m2-4v2m2-3v2m2-3v3m2-1v2m2-2v3m4-4v3m2-1v2m4-1v1m2-1v1m2-1v1m2-2v1m2-3v2m2-4v2m2-4v3m2-8v2m2-3v1m2-6v1m2-15v3m2-23v9m2-15v7m0 36v2m0 4v2m0 2v6m2-44v2m0 3v5m0 33v2m2-2v2m2-2v2m2-2v2m2-1v1m2-1v1m0 1v4m0 2v2m2-10v6m2-8v6m0 2v5m2-14v3m0 2v2m2-8v6m0 2v1m0 1v2m2-8v9m2-8v7m2-8v4m2-6v4m2-6v2m2-2v3m0 1v2m0 2v3m0 1v2m2-13v1m0 2v1m0 3v4m0 6v2m2-15v9m2-8v4m0 1v2m0 1v1m2-11v2m0 1v1m0 2v2m2-11v11m0 8v4m2-24v8m0 2v2m0 2v2m2-15v3m0 6v8m0 2v6m0 8v2m0 2v4m2-41v1m0 1v3m0 2v16m0 2v2m0 1v11m2-35v7m0 10v4m0 2v9m0 1v2m2-34v4m0 2v7m0 3v15m2-35v14m0 2v2m0 4v8m0 2v1m2-32v7m0 2v4m0 6v7m2-23v2m0 4v2m0 2v9m0 15v2m2-37v3m0 2v4m0 2v3m0 3v2m0 2v2m0 4v4m0 2v2m2-36v4m0 2v2m0 3v1m0 2v2m0 2v6m0 2v10m2-38v2m0 2v2m0 4v2m0 1v9m0 3v1m0 1v1m0 2v2m0 2v1m0 1v2m2-38v6m0 2v4m0 2v10m0 2v8m2-35v13m0 2v2m0 4v5m2-24v3m0 9v1m2-15v4m0 1v4m2-9v7m2-9v1m0 2v1m2-2v3m2-3v3m2-1v3m2-27v1m0 5v3m0 2v3m0 1v1m0 10v2m2-32v1m0 7v1m0 15v1m0 4v1m0 31v6m2-68v2m0 22v6m0 28v8m2-56v2m0 12v2m0 1v1m0 24v4m0 2v2m0 4v2m0 10v2m2-53v3m0 18v5m0 1v2m0 10v2m0 6v4m0 4v1m2-56v4m0 7v8m0 4v2m0 13v13m0 2v1m2-54v4m0 9v2m0 14v2m0 3v1m0 1v9m0 2v4m0 2v2m2-52v2m0 26v6m0 16v2m2-50v1m0 18v1m0 2v3m0 1v1m2-28v2m0 15v2m2-18v2m0 7v1m2-71v5m0 4v2m0 5v3m0 43v1m0 44v2m2-48v2m2-2v1m2-2v1m2-4v2m2-5v2m2-6v1m2-48v10m0 1v3m0 22v1m0 1v1m4-52v1m4 51v2m2 4v3m2 5v1m2-3v3m2-6v6m2-3v2m0 1v1m2-2v1m2-2v3m2-2v2m4-2v2m2-3v3m2-3v2m2-1v2m2-3v1m2-6v2m0 1v1m2-3v4m0 40v2m0 2v1m2-44v1m2-2v1m0 27v2m2-32v2m0 50v4m2-77v3m0 3v1m0 14v1m2-29v1m0 13v1m0 16v1m0 40v2m2-41v1m2 0v1m2-3v1m6 2v1m2 1v1m2-5v3m0 2v1m2-6v3m2 0v1m2 1v1m0 9v2m0 2v2m0 26v2m0 2v1m2-53v4m0 8v1m0 29v8m2-50v4m0 29v13m2-43v1m0 26v6m2-30v1m0 13v2m0 2v2m0 2v2m2-23v3m2-3v2m0 21v2m2-27v2m0 7v2m0 2v2m0 2v8m0 6v2m2-33v3m0 2v8m0 2v6m0 4v1m2-21v9m0 1v2m2-16v2m0 5v3m0 2v2m2-20v2m0 2v4m2-24v1m0 7v1m0 3v9m2-29v2m0 14v2m0 2v3m0 1v2m2-23v7m0 4v1m0 1v3m0 1v2m2 1v2m2-1v1m2-7v4m2-7v1m4-5v1m2 7v1m0 4v2m0 44v2m2-48v4m0 1v3m0 38v2m2-41v2m2-1v4m2-3v1m2-3v2m0 1v1m2-4v2m2-4v5m2-12v7m0 11v2m2-17v1m0 2v3m2-3v2m2-2v2m2-6v2m0 3v3m2-4v4m2-2v4m4-1v1m2 0v2m2-2v1m2-1v1m2 0v1m2-2v2m4-52v2m0 2v6m0 2v4m0 3v1m2-31v2m0 35v1m2-35v6m0 27v2m0 1v1m0 17v1m2-1v3m0 43v2m2-47v2m2 0v1m2-2v2m2-4v4m2-4v4m2-2v2m2-1v2m0 3v2m0 2v6m2-15v6m0 1v6m0 2v2m2-14v3m0 1v6m0 2v1m2-13v14m2-15v9m0 2v2m0 2v2m0 10v3m2-29v2m0 8v2m0 2v4m0 4v4m2-24v4m0 6v12m2-22v2m0 6v2m0 2v10m0 2v4m0 4v6m2-42v4m0 7v1m0 1v13m0 2v4m0 2v1m0 1v1m0 1v1m2-38v3m0 6v16m0 1v6m2-29v2m0 6v1m0 1v4m0 4v6m2-10v2m0 2v2m0 2v1m2-14v8m0 1v2m2-13v1m0 1v7m2-10v8m0 2v1m0 3v1m2-17v2m0 2v7m0 1v1m0 3v2m0 6v6m2-29v3m0 2v3m0 3v2m0 4v2m2-20v5m0 3v6m0 2v4m0 12v2m2-35v13m0 14v2m2-31v5m0 1v5m0 12v2m0 4v2m0 2v4m2-34v6m0 2v1m0 1v12m0 2v17m2-43v22m0 2v4m0 10v4m2-42v15m0 1v10m0 12v4m2-42v20m0 2v1m0 1v2m0 9v4m0 1v1m2-41v4m0 2v4m0 2v4m0 2v1m0 1v2m0 10v2m0 2v6m2-42v8m0 2v2m0 24v4m2-40v4m0 6v2m0 22v4m2-40v3m0 27v2m0 4v2m0 1v3m2-45v3m0 36v2m2-44v2m0 2v2m0 27v9m2-41v1m0 30v8m0 2v2m2-14v12m0 4v2m2-24v8m0 4v6m2-14v2m0 4v4m2-36v5m0 20v6m2-31v5m0 11v2m0 2v6m2-66v1m0 6v2m0 30v6m0 8v3m0 1v4m2-59v1m0 8v2m0 25v8m0 2v10m2-52v1m0 6v1m0 24v2m0 2v12m2-42v1m0 30v6m0 1v1m2-12v5m2-4v2m0 1v1m0 14v1m2-14v1m0 2v2m0 2v3m2-11v8m2-13v1m0 2v9m2-7v2m2-1v1m2-2v1m2-2v2m2-7v2m2-7v2m2-8v1m2-18v4m2-13v1m2-8v1m2 29v10m0 6v1m0 5v2m0 34v8m2-92v2m0 32v4m0 2v5m0 33v13m0 1v2m0 2v4m0 6v1m2-66v4m0 24v1m0 2v1m0 5v2m0 1v5m0 4v11m2-52v1m0 8v6m0 16v15m2-46v1m0 1v8m0 3v2m0 2v4m0 1v1m0 2v4m0 4v4m0 1v2m0 16v1m0 1v3m2-60v1m0 1v2m0 6v2m0 2v4m0 6v2m0 5v7m0 2v2m0 6v3m0 1v1m0 1v2m2-56v4m0 1v29m0 5v1m0 2v1m0 1v4m2-48v4m0 2v2m0 2v2m0 4v2m0 2v6m0 6v2m0 2v6m2-43v3m0 6v2m0 6v2m0 10v4m0 1v5m0 2v2m2-45v5m0 4v10m0 2v10m2-27v17m0 2v1m0 1v1m0 5v2m2-30v7m0 1v1m0 1v4m0 2v10m2-29v3m0 2v11m0 1v2m0 3v6m0 1v1m2-26v5m0 13v2m0 1v2m2-26v1m0 15v8m2-25v3m0 8v2m0 4v5m0 1v4m0 30v2m2-60v6m0 6v4m0 2v6m2-14v2m0 2v4m0 12v1m0 26v3m2-49v6m0 7v10m0 24v2m2-50v2m0 1v9m0 2v2m0 2v8m0 10v4m0 2v2m0 2v1m2-46v5m0 5v6m0 1v18m2-33v9m0 2v6m0 2v6m0 2v4m0 15v5m2-53v9m0 10v8m0 4v1m0 13v8m2-53v3m0 16v9m0 11v2m0 2v8m2-51v2m0 15v2m0 2v23m0 5v4m2-54v3m0 14v5m0 4v2m0 14v11m2-52v1m0 36v8m0 1v5m2-48v2m0 29v11m2-41v1m0 23v1m0 2v7m0 1v2m0 8v2m2-47v1m0 18v2m0 2v10m0 2v2m0 2v8m2-47v1m0 10v2m0 2v10m0 2v2m0 4v2m0 2v4m0 4v4m2-48v1m0 7v2m0 4v4m0 2v4m0 8v2m0 4v2m0 1v1m0 2v4m2-48v2m0 4v1m0 5v2m0 2v2m0 8v2m0 2v10m0 2v2m0 2v2m2-54v10m0 4v2m0 2v10m0 2v12m0 4v6m2-55v1m0 2v10m0 2v2m0 2v1m0 4v3m0 3v7m0 4v2m0 2v4m2-46v6m0 14v4m0 2v2m0 11v1m2-46v2m0 24v16m2-30v4m0 2v6m0 1v5m0 1v3m2-20v4m0 2v8m2-71v2m0 9v1m0 46v7m2-62v1m0 51v8m0 4v1m2-11v6m2-7v6m4-7v1m0 1v1m0 3v8m2-12v4m0 2v1m0 3v2m0 10v2m0 6v2m2-32v2m0 4v2m0 4v4m0 6v2m2-24v1m0 7v10m0 2v1m2-21v4m0 2v6m2-13v3m0 2v1m2-5v1m2-1v1m2-2v2m0 15v2m2-66v1m0 4v1m0 41v2m0 1v2m0 5v3m2-11v7m2-7v5m2-5v5m2-5v1"/>
<path stroke="#ff9100" d="M171 577v3m0 5v3m0 5v3m0 1v5m0 2v9m0 33v2m0 16v2m2-90v2m0 2v2m0 2v4m0 2v8m0 2v4m0 2v1m0 35v1m0 1v2m2-70v4m0 12v2m0 2v8m0 23v1m0 4v11m2-65v4m0 6v2m0 1v4m0 1v3m0 3v4m0 2v7m0 1v12m0 2v4m0 2v4m0 1v6m2-69v3m0 7v1m0 1v2m0 4v4m0 3v9m0 22v2m0 2v2m0 4v4m2-70v1m0 1v1m0 3v6m0 2v10m0 43v3m2-69v5m0 4v2m0 2v8m0 4v2m0 32v2m0 2v4m0 14v1m2-79v2m0 2v15m0 1v3m0 30v3m0 1v3m0 2v2m0 6v2m0 2v6m2-116v4m0 30v20m0 2v2m0 24v2m0 4v2m0 2v12m0 2v13m2-120v5m0 12v2m0 22v10m0 2v9m0 19v10m0 1v7m0 10v2m0 2v2m0 2v2m2-113v5m0 21v1m0 2v8m0 2v2m0 7v1m0 2v2m0 2v6m0 6v4m0 1v5m0 2v8m0 15v1m0 5v4m2-103v2m0 22v4m0 18v2m0 2v1m0 1v14m0 2v4m0 12v2m0 6v2m0 2v4m2-92v4m0 12v2m0 22v2m0 2v6m0 7v1m0 2v2m0 12v6m0 1v7m2-85v7m0 2v4m0 12v2m0 4v8m0 2v2m0 2v5m0 17v4m0 2v2m0 4v8m2-80v1m0 1v4m0 4v26m0 14v2m0 1v4m0 1v4m0 2v2m0 4v2m0 2v5m2-80v3m0 4v16m0 20v2m0 1v1m0 1v2m0 1v1m0 1v4m0 2v4m0 2v2m0 4v1m0 1v2m0 1v3m2-67v5m0 6v6m0 4v2m0 6v2m0 1v5m0 6v2m0 1v4m0 1v3m0 1v6m0 2v5m2-104v1m0 1v3m0 6v1m0 23v1m0 11v16m0 2v6m0 10v1m0 3v2m0 2v16m2-98v3m0 5v1m0 19v10m0 2v6m0 2v2m0 12v7m0 3v2m0 1v9m0 6v2m0 1v5m2-87v5m0 2v1m0 3v4m0 4v8m0 6v2m0 10v7m0 5v12m0 2v2m0 4v2m0 2v2m0 2v2m2-79v2m0 7v1m0 1v4m0 2v2m0 6v6m0 1v1m0 2v2m0 2v12m0 2v14m0 2v13m2-80v4m0 1v4m0 2v8m0 2v16m0 2v20m0 2v20m2-72v4m0 4v4m0 2v2m0 2v4m0 3v7m0 4v18m0 2v10m0 1v4m2-69v8m0 2v2m0 1v9m0 6v26m0 2v8m0 2v2m2-69v3m0 1v7m0 2v2m0 2v4m0 2v10m0 2v2m0 2v1m0 1v12m0 2v13m2-69v14m0 5v1m0 3v17m0 4v10m0 2v6m0 4v1m2-71v6m0 10v2m0 3v1m0 2v6m0 2v2m0 2v2m0 4v4m0 2v11m0 1v2m2-60v2m0 6v8m0 1v9m0 2v2m0 4v2m0 2v6m0 2v5m0 3v2m0 10v2m0 1v1m0 2v2m2-75v1m0 3v17m0 2v5m0 1v2m0 6v8m0 1v1m0 17v1m0 2v3m0 1v1m0 1v4m2-74v11m0 1v2m0 4v2m0 6v2m0 2v2m0 1v3m0 1v3m0 17v1m0 1v4m0 10v1m2-74v16m0 12v2m0 26v4m0 10v1m2-72v7m0 2v8m0 2v8m0 27v5m0 2v4m0 2v2m0 2v2m2-73v5m0 8v3m0 1v2m0 16v2m0 16v6m0 4v8m2-72v2m0 6v6m0 6v2m0 28v2m0 11v3m0 1v4m0 1v4m2-80v12m0 5v1m0 1v11m0 16v2m0 20v5m0 6v2m2-80v4m0 5v4m0 2v2m0 2v4m0 1v3m0 16v2m0 22v1m0 1v4m0 6v1m2-80v11m0 5v5m0 6v4m0 2v1m0 3v3m0 24v1m0 1v1m0 11v2m2-80v7m0 1v7m0 4v4m0 2v4m0 2v8m0 22v3m0 14v1m2-76v3m0 5v10m0 8v5m0 23v3m0 1v1m0 1v2m0 14v1m2-69v3m0 1v2m0 4v2m0 2v3m0 21v2m0 4v4m0 18v4m2-80v14m0 2v4m0 1v1m0 16v2m0 2v4m0 6v3m0 22v3m2-80v2m0 2v10m0 2v4m0 6v2m0 2v12m0 2v12m0 2v5m0 3v1m2-69v8m0 6v4m0 6v2m0 2v30m0 2v5m0 1v2m2-69v1m0 2v4m0 16v30m0 5v1m0 2v7m2-64v2m0 7v10m0 4v8m0 4v4m0 2v2m0 4v4m0 2v4m0 1v4m0 1v1m2-65v4m0 2v5m0 1v4m0 2v2m0 10v10m0 4v1m0 13v3m2-62v13m0 2v4m0 13v7m0 2v1m0 13v5m2-58v1m0 1v5m0 2v1m0 1v3m0 11v2m0 1v5m0 4v2m0 8v2m0 2v1m0 1v4m0 20v2m2-78v4m0 2v2m0 2v2m0 12v4m0 16v2m0 1v5m0 2v14m0 2v6m2-77v2m0 1v1m0 17v3m0 1v4m0 8v8m0 2v3m0 1v2m0 2v12m0 3v5m0 1v2m2-78v1m0 14v5m0 1v4m0 8v8m0 2v6m0 8v2m0 2v4m0 2v12m2-80v2m0 8v6m0 10v17m0 1v4m0 8v9m0 3v6m0 2v4m2-78v12m0 2v2m0 4v2m0 6v23m0 16v3m0 2v3m2-76v27m0 2v15m0 1v4m0 16v3m2-66v1m0 2v2m0 2v10m0 2v25m0 16v5m2-64v6m0 2v14m0 2v11m0 1v4m0 17v6m2-63v2m0 4v2m0 1v3m0 4v4m0 1v7m0 2v6m0 17v4m0 1v1m2-60v3m0 6v2m0 3v4m0 11v2m0 1v3m0 16v6m2-58v4m0 2v7m0 16v5m0 8v2m0 2v2m0 2v6m2-56v8m0 16v13m0 1v15m2-53v4m0 14v2m0 6v14m0 6v12m2-58v12m0 2v2m0 2v14m0 2v2m0 18v5m2-56v17m0 4v7m0 3v8m0 2v2m0 7v5m2-54v2m0 2v4m0 2v2m0 2v12m0 2v5m0 1v1m0 9v9m2-53v28m0 4v2m0 2v4m0 1v7m0 1v1m0 2v1m2-53v6m0 2v6m0 2v8m0 2v2m0 2v2m0 4v2m0 2v6m0 2v2m2-51v14m0 1v12m0 2v2m0 4v2m2-38v2m0 2v2m0 1v15m2-21v17m2-16v4m0 10v2m0 34v2m0 2v2m2-54v2m0 39v7m2-54v6m0 35v9m2-50v4m0 30v4m0 2v8m2-46v2m0 23v9m2-34v1m0 19v7m2-31v1m0 24v2m0 1v1m0 5v2m2-63v1m0 23v2m2-46v1m0 21v1m0 24v1m0 1v1m0 51v8m0 2v2m0 12v2m2-121v1m0 3v1m0 41v13m0 30v2m0 2v12m0 2v1m0 11v2m2-73v5m0 38v2m0 4v4m2-54v2m0 28v2m0 2v2m0 12v2m2-51v1m0 2v2m0 45v7m0 6v1m0 5v1m2-70v2m0 1v2m0 52v4m0 4v1m2-66v4m0 1v2m0 2v2m0 44v2m2-56v8m0 2v3m0 17v2m0 20v2m2-55v1m0 1v6m2-8v7m2-6v4m0 4v2m2-10v8m0 2v3m2-13v3m0 1v2m0 4v2m2-16v4m0 2v8m0 4v2m2-15v1m0 4v2m2-9v6m0 21v6m2-33v2m0 21v2m0 2v1m0 1v2m2-30v1m2-2v2m2-1v1m2-3v1m2-3v5m0 3v2m0 42v5m2-58v1m0 4v1m0 1v1m2-4v2m2-2v2m2-2v2m0 5v2m2-10v8m2-9v9m2-6v6m2-5v1m2-2v2m0 2v1m2-5v4m2-6v4m2-5v6m2-6v2m2-1v14m2-14v6m0 2v2m2-8v4m2-5v1m0 1v1m2-3v1m2-2v2m2-2v1m2 0v1m2 0v1m2-3v2m2-1v2m4-3v3m2-1v1m0 1v1m0 1v1m2-5v1m0 1v1m2-3v1m2-2v4m2-5v4m0 44v2m2-52v4m2-5v2m2-8v2m0 1v1m2-6v2m2-7v2m2-14v6m2-20v1m0 1v4m2-14v2m0 2v2m0 2v2m0 23v3m0 16v2m0 6v1m2-59v6m0 2v3m0 40v1m0 2v1m2-4v1m0 6v1m0 33v2m2-43v5m0 32v1m2-38v2m2-2v9m2-9v1m0 4v2m0 2v2m0 2v6m2-14v14m2-16v2m0 5v8m2-19v2m0 2v5m0 1v4m2-12v2m0 1v1m0 2v6m2-5v1m2-2v3m2-7v5m0 17v2m2-26v22m2-26v25m2-24v1m0 2v2m0 3v1m0 2v8m0 4v2m2-23v3m0 4v6m0 2v2m0 2v1m2-11v10m2-11v1m0 1v9m0 2v2m0 2v4m2-26v2m0 2v10m0 1v10m2-21v8m0 4v10m0 18v2m2-46v2m0 2v2m0 2v11m0 5v2m0 4v2m0 1v10m2-47v6m0 8v2m0 6v8m0 2v2m0 4v6m2-42v2m0 32v6m0 4v2m2-15v1m0 2v6m0 2v1m2-12v1m0 2v2m0 2v2m2-14v2m0 1v7m2-13v6m0 1v1m0 3v2m0 6v2m2-25v7m0 2v6m0 2v4m0 2v2m2-36v2m0 3v3m0 2v2m0 2v4m0 4v2m0 2v10m2-42v2m0 2v3m0 1v2m0 2v2m0 18v4m0 2v1m0 1v2m0 4v2m2-52v2m0 2v4m0 2v1m0 15v2m0 2v2m0 1v1m0 2v8m2-40v2m0 16v2m0 8v4m0 2v6m2-34v2m0 2v4m0 5v11m0 4v2m0 2v2m2-42v9m0 1v18m0 8v2m0 2v2m2-43v1m0 4v10m0 2v12m0 2v6m0 4v4m0 2v1m2-45v1m0 1v10m0 5v1m0 3v17m0 2v4m2-49v9m0 2v2m0 2v2m0 6v18m0 2v2m0 2v2m2-48v6m0 8v10m0 2v12m0 2v2m2-42v16m0 2v16m0 2v2m0 2v2m0 2v2m0 2v2m2-48v13m0 1v10m0 8v2m0 2v15m2-77v1m0 1v3m0 8v1m0 13v19m0 8v19m0 1v1m0 1v1m2-75v1m0 1v1m0 13v1m0 6v15m0 11v5m0 6v12m2-73v1m0 14v2m0 6v3m0 1v3m0 13v8m0 8v10m0 4v3m2-55v4m0 12v8m0 4v2m0 2v4m0 2v10m0 2v5m2-55v2m0 4v2m0 2v8m0 5v1m0 2v2m0 2v6m0 2v6m0 4v4m0 1v1m0 2v1m2-56v1m0 2v4m0 8v4m0 2v13m0 13v2m0 1v2m0 1v4m2-57v9m0 2v4m0 2v8m0 2v3m0 1v1m0 9v2m0 4v2m0 2v7m2-57v6m0 6v4m0 1v9m0 6v16m0 2v6m2-55v2m0 9v7m0 1v2m0 3v1m0 1v11m0 1v13m2-51v1m0 6v2m0 2v4m0 2v10m0 4v4m0 1v1m0 2v7m0 1v1m2-47v7m0 1v18m0 4v16m0 2v1m2-101v2m0 2v1m0 47v15m0 1v2m0 4v22m0 2v2m2-48v1m0 1v6m0 8v2m0 2v4m0 2v17m0 3v4m2-51v4m0 5v2m0 3v1m0 2v6m0 1v5m0 2v8m2-40v2m0 24v4m0 2v1m2-35v2m2-5v1m2-6v2m2-40v1m0 26v1m0 1v2m2-54v1m0 36v5m4-41v8m0 2v14m2 29v5m2 2v2m2 4v2m2-2v6m2-6v2m2-3v1m0 1v2m2-3v3m2-2v2m2-2v1m2-2v3m2-2v1m2-1v1m2-2v2m2-1v3m2-5v1m0 16v2m0 30v1m2-54v1m0 1v3m0 11v1m0 4v2m0 21v5m2-46v3m0 17v2m0 6v2m0 2v8m0 2v2m0 1v1m2-44v1m0 16v1m0 2v22m2-43v1m0 18v8m0 2v9m0 12v5m2-56v1m0 17v20m0 7v5m0 6v1m2-77v3m0 16v2m0 17v18m0 2v15m0 1v1m2-84v5m0 2v2m0 2v2m0 18v1m0 19v1m0 1v1m0 9v4m0 2v2m0 2v5m0 1v1m2-47v1m0 28v1m0 2v6m2-37v2m2-4v3m0 26v2m2-30v1m0 25v4m2-30v2m0 15v1m0 4v2m2-22v1m0 12v1m0 4v2m2-18v1m0 4v1m0 4v2m2-14v2m0 1v9m0 2v1m2-15v2m0 2v6m0 9v11m2-29v7m0 2v16m0 2v2m0 18v4m2-49v9m0 2v2m0 2v6m0 15v1m0 3v1m0 2v2m0 1v3m2-52v8m0 1v5m0 6v1m0 1v1m0 7v8m0 8v4m2-50v11m0 3v2m0 6v7m0 13v4m2-46v6m0 2v18m0 6v11m2-40v13m0 2v2m0 2v2m0 2v12m0 2v2m2-36v24m0 2v5m2-32v3m0 2v16m0 2v9m2-34v7m0 2v2m0 2v2m0 8v6m0 2v4m2-34v2m0 16v4m0 1v3m2-15v1m0 2v8m0 2v1m2-25v5m0 3v2m0 2v4m2-16v2m0 2v2m0 2v1m2-32v1m0 5v1m0 13v3m2-30v2m0 10v2m0 7v1m0 2v2m2-18v4m0 5v1m0 2v2m4 1v1m4-10v1m2-4v1m0 24v10m0 2v1m0 5v2m2-46v2m0 21v10m0 19v4m0 4v2m0 2v6m0 2v1m2-65v4m0 2v3m0 1v2m0 2v4m0 20v4m0 3v5m0 2v8m2-48v3m0 1v2m0 2v2m0 2v2m0 5v1m0 3v3m0 2v10m0 2v5m2-44v1m0 8v2m0 4v2m0 3v1m0 2v9m0 1v4m0 4v2m2-40v4m0 10v2m0 2v11m0 1v2m2-34v2m0 6v2m0 4v2m0 1v4m0 11v2m0 2v2m2-39v1m0 1v7m0 2v2m0 2v3m0 12v1m2-31v7m0 2v2m0 4v6m0 8v2m2-30v22m2-27v11m0 2v6m2-17v11m2-12v4m0 2v2m2-8v5m2-3v8m2-8v5m2-3v2m2-8v1m0 5v3m2-10v2m0 3v1m0 1v3m4-2v1m2-1v1m4 0v1m2-15v1m0 11v3m0 1v1m0 1v2m2-42v3m0 11v1m2-40v3m0 27v1m2-24v8m0 9v2m0 30v3m0 43v1m2-45v1m0 38v4m2-43v2m0 33v1m0 3v2m2-40v1m0 25v3m0 13v1m2-43v4m0 13v1m0 4v1m0 1v2m0 10v6m2-42v2m0 2v2m0 2v5m0 1v2m0 5v11m0 2v10m2-44v10m0 2v2m0 2v2m0 1v11m0 2v2m0 4v1m0 1v2m2-42v4m0 2v28m0 2v1m2-36v3m0 2v2m0 6v5m0 1v2m0 2v6m0 4v2m2-24v2m0 2v4m0 4v4m2-16v2m0 1v21m0 6v1m2-27v20m0 4v2m2-32v2m0 2v2m0 2v10m0 3v8m2-17v2m0 4v6m0 2v2m0 2v2m2-16v9m0 1v2m0 2v6m2-20v2m0 6v2m0 10v1m2-21v2m0 4v2m0 1v1m0 1v1m0 1v3m0 2v1m2-12v5m0 2v2m0 2v1m0 1v1m2-19v15m2-23v2m0 2v2m0 1v11m0 6v1m2-24v1m0 2v10m0 2v6m2-22v5m0 1v6m0 4v2m0 2v2m2-24v2m0 1v3m0 1v2m0 3v2m0 6v4m2-23v1m0 1v2m0 3v6m0 6v6m0 2v1m2-30v3m0 2v4m0 2v18m2-33v3m0 6v2m0 4v12m0 2v6m2-28v14m0 2v8m0 4v3m2-35v12m0 2v4m0 2v2m0 4v13m2-41v2m0 1v1m0 12v2m0 17v5m2-6v4m2-4v5m2-8v1m0 1v2m0 1v2m2-4v2m2-4v3m2-5v6m2-4v4m2-8v4m2-6v6m2-8v2m0 2v4m2-6v4m2-4v3m2-7v3m2-8v2m2-7v2m2-67v2m0 3v1m0 54v2m0 1v1m2-62v2m0 5v1m0 47v3m2-54v2m0 3v1m0 41v4m2-9v1m0 1v4m0 1v2m2-14v10m0 2v1m0 3v6m2-22v14m0 1v2m0 1v1m2-17v2m0 7v5m2-8v5m2-6v5m2-10v7m2-7v6m2-7v2m2-2v2m2-7v2m2-7v4m6-37v3m0 58v1m0 4v2m2-75v3m0 53v11m0 2v1m0 19v11m0 1v6m0 2v4m2-120v3m0 28v5m0 10v6m0 1v5m0 2v12m0 2v2m0 14v2m0 1v1m0 8v6m0 2v8m2-125v3m0 2v1m0 1v2m0 2v6m0 45v3m0 2v2m0 4v2m0 12v8m0 13v1m0 2v2m0 4v6m0 1v1m2-63v7m0 2v15m0 17v4m0 11v3m2-54v2m0 1v5m0 37v5m0 2v1m0 5v2m2-60v1m0 38v11m0 2v3m0 1v1m2-19v2m0 2v6m2-14v5m0 1v2m2-38v2m0 2v2m0 2v4m0 2v2m0 6v4m0 1v1m0 2v2m2-34v6m0 2v6m0 2v10m0 4v1m2-31v4m0 10v2m4-11v1m0 1v1m2-10v2m0 11v1m0 2v3m2-13v13m2-20v4m0 1v2m0 5v1m2-12v8m0 2v4m2-12v6m0 4v2m2-6v2m6 2v5m2 1v2m0 6v2m2-12v10m2-16v2m0 8v6m0 32v2m2-51v5m0 6v4m0 2v2m0 23v5m2-47v5m0 4v5m0 5v4m0 2v14m0 11v1m2-52v8m0 10v6m0 2v10m0 14v2m2-48v4m0 16v9m0 11v8m2-48v1m0 12v1m0 2v7m0 1v2m0 7v1m0 2v8m0 2v2m2-48v2m0 8v8m0 2v2m0 10v2m0 2v2m0 8v2m2-48v1m0 3v6m0 2v2m0 10v2m0 2v4m0 2v2m0 4v4m2-43v7m0 2v4m0 4v2m0 4v8m0 2v2m0 4v1m2-39v4m0 1v5m0 2v2m0 2v8m0 2v2m2-26v4m0 2v2m0 34v2m2-8v2m2-8v6m2-10v7m0 1v4m2-20v2m0 2v8m0 4v4m0 3v1m0 1v1m2-32v4m0 6v2m0 2v2m0 10v6m2-101v3m0 5v1m0 54v12m0 14v9m0 1v1m2-98v1m0 5v1m0 52v4m0 1v6m0 11v8m0 2v2m2-34v7m0 7v14m2-29v23m2-28v2m0 2v18m2-23v1m0 1v3m0 8v14m0 6v4m0 2v2m2-36v2m0 1v3m0 2v2m0 4v4m0 2v6m0 2v2m0 2v2m2-36v4m0 2v4m0 4v6m0 2v7m0 1v2m2-33v7m0 10v2m0 1v7m0 16v2m2-42v2m0 6v9m0 19v2m2-40v2m0 1v7m0 31v1m2-43v5m0 2v2m2-9v6m0 10v1m0 3v2m0 3v3m0 15v2m2-45v7m0 2v6m0 2v5m0 7v2m2-79v1m0 2v1m0 44v1m0 2v5m0 3v14m0 2v2m2-22v6m0 26v2m2-36v10m0 12v4m2-26v6m0 9v9m2-28v2m0 2v6m0 2v10"/>
<path stroke="#ff8000" d="M171 580v5m0 17v2m2-26v2m0 2v2m2-4v12m0 2v2m2-14v6m0 2v1m0 24v1m0 12v2m0 4v2m0 4v1m2-60v7m0 24v6m0 6v10m0 2v2m0 2v4m2-65v1m0 1v3m0 18v10m0 14v12m0 2v5m2-45v4m0 2v4m0 13v3m0 5v3m0 2v2m0 2v2m2-58v2m0 15v1m0 3v3m0 17v5m0 1v4m0 3v1m2-39v2m0 2v1m0 1v2m0 10v4m0 2v4m0 2v4m0 16v2m2-102v12m0 34v2m0 9v5m0 2v12m0 18v10m0 2v2m0 2v2m2-106v6m0 2v2m0 2v3m0 7v2m0 32v6m0 4v1m0 15v10m0 4v1m0 1v5m2-97v8m0 2v2m0 5v1m0 1v3m0 27v1m0 20v8m0 6v6m0 2v2m2-84v2m0 4v6m0 42v2m0 2v12m0 6v1m2-71v2m0 41v8m0 2v7m2-59v1m0 34v14m0 2v1m0 19v2m2-72v4m0 16v16m0 2v2m0 2v1m0 1v1m0 19v4m0 1v1m0 2v1m2-59v6m0 6v4m0 2v6m0 2v1m0 18v1m0 3v1m0 6v2m2-94v4m0 27v11m0 35v3m0 2v2m2-79v2m0 1v2m0 30v2m0 29v3m0 2v1m0 9v6m0 2v1m2-74v3m0 41v5m0 12v2m2-61v7m0 28v2m0 12v2m2-14v2m0 20v2m2-20v4m0 18v2m0 10v1m2-43v6m0 26v2m2-36v2m0 17v1m2-28v5m0 1v3m0 17v4m0 10v2m2-54v10m0 2v3m0 1v2m0 6v2m0 2v2m0 2v4m0 4v2m2-44v6m0 8v1m0 9v2m0 2v4m0 2v2m0 6v2m2-46v3m0 17v2m0 5v1m0 2v6m0 8v1m0 24v1m0 1v1m2-59v1m0 2v4m0 2v6m0 2v2m0 2v1m0 3v1m0 26v7m0 1v2m2-57v12m0 32v10m2-64v2m0 8v2m0 40v2m0 4v2m0 2v2m2-66v8m2-12v6m0 63v1m2-3v6m2-61v2m0 4v1m0 44v1m0 6v4m2-68v5m0 18v1m0 32v3m0 1v4m0 2v1m2-71v1m0 21v2m0 33v4m0 3v2m0 2v3m2-57v8m0 31v1m0 1v1m0 2v4m0 7v3m2-65v1m0 2v4m0 2v2m0 34v3m0 1v4m0 2v2m0 2v4m2-62v2m0 4v1m0 29v2m0 3v22m2-75v2m0 52v2m0 5v3m0 1v3m0 4v6m2-17v1m0 2v4m0 7v1m0 1v1m2-15v4m0 7v2m2-58v4m0 8v4m0 4v2m0 21v1m0 1v4m2-58v1m0 4v2m0 2v10m0 31v6m0 10v1m2-66v2m0 4v13m0 28v5m0 9v1m0 4v2m2-72v2m0 1v1m0 3v11m0 2v1m0 24v1m0 4v8m0 3v5m0 2v2m2-72v2m0 2v2m0 2v2m0 2v2m0 2v4m0 44v2m2-69v1m0 1v3m0 2v2m0 2v8m0 46v3m0 5v1m2-75v4m0 2v8m0 50v2m2-66v8m2 62v2m0 3v3m2-52v2m0 39v7m2-72v2m0 14v2m0 46v1m0 1v2m2-5v1m2-36v2m0 27v1m0 1v2m2-44v11m0 2v1m0 25v3m2-48v7m0 2v7m0 27v12m2-60v12m0 1v3m0 29v3m0 2v7m2-61v14m0 2v6m0 32v4m0 2v1m2-53v2m0 2v2m0 14v2m0 25v5m2-44v4m0 34v4m2-50v2m0 2v2m0 39v3m0 2v3m2-11v2m0 1v5m2-52v2m0 6v2m0 18v2m0 2v2m0 6v2m0 2v3m0 19v2m2-48v2m0 2v4m0 2v2m0 2v2m0 23v1m0 2v5m2-73v2m0 2v1m0 15v6m0 2v2m0 24v2m0 4v2m0 6v2m2-54v6m0 2v2m0 24v4m0 2v2m0 2v4m2-60v10m0 2v3m0 24v1m0 1v1m0 1v3m0 2v2m0 2v5m0 1v2m2-64v2m0 2v11m0 25v3m0 7v5m2-53v3m0 1v4m0 24v3m0 9v9m2-55v3m0 5v1m0 19v2m0 4v2m0 8v10m2-54v3m0 17v3m0 9v10m0 2v4m0 2v1m0 5v1m2-58v1m0 14v4m0 7v17m2-47v1m0 19v4m0 2v1m0 1v5m0 2v2m2-73v1m0 6v1m0 26v1m0 23v11m0 25v10m2-108v1m0 7v1m0 2v3m0 26v1m0 1v1m0 16v2m0 2v1m0 24v5m0 8v2m0 2v3m0 1v2m2-112v3m0 55v4m0 15v1m0 4v6m0 2v2m0 12v2m0 1v11m2-66v4m0 16v2m0 6v2m0 2v6m0 2v4m0 4v20m2-72v4m0 12v2m0 2v2m0 2v4m0 2v2m0 2v6m0 4v2m0 2v12m0 2v10m2-74v2m0 2v4m0 10v17m0 3v2m0 3v1m0 1v4m0 7v6m0 1v5m0 1v3m2-71v1m0 2v12m0 2v12m0 2v2m0 9v13m0 4v4m0 1v3m2-65v1m0 2v2m0 2v9m0 1v2m0 8v2m0 1v7m0 7v1m0 1v5m0 2v7m2-55v2m0 3v5m0 10v2m0 2v2m0 14v4m0 2v6m2-53v6m0 9v8m0 22v2m0 2v1m2-51v9m0 1v2m0 2v7m0 1v4m2-28v4m0 2v12m0 10v2m2-26v2m0 3v3m0 6v2m0 6v1m2-28v1m0 2v4m0 2v6m0 2v2m0 18v1m0 7v2m2-38v2m0 2v1m0 15v2m0 2v3m2-31v5m0 16v10m0 15v2m2-51v4m0 13v4m0 6v6m0 14v2m2-53v1m0 2v1m0 10v1m0 2v4m0 2v2m0 1v1m0 2v6m2-35v3m0 4v2m0 1v3m0 2v16m0 4v2m2-37v17m0 2v8m0 2v2m2-31v3m0 2v3m0 1v4m0 4v4m0 2v1m0 31v2m0 2v2m2-63v7m0 2v5m0 7v2m0 26v12m2-59v3m0 2v6m0 32v4m0 5v5m2-57v1m0 1v5m0 26v2m0 2v15m2-52v2m0 15v2m0 18v2m0 2v5m0 1v1m2-48v5m0 2v4m0 14v1m0 1v1m0 3v2m2-33v5m0 2v12m2-14v7m2-7v8m0 58v2m2-68v6m2-10v8m2-8v2m0 1v5m0 32v4m0 2v3m2-45v6m2-10v6m0 2v2m0 22v4m2-35v9m0 8v2m0 1v1m2-25v29m2-16v8m0 4v1m2-21v2m0 2v11m0 1v2m2-18v8m2-10v8m2-10v5m2-5v2m2-3v2m0 5v2m0 4v2m0 2v4m2-20v2m0 4v2m0 2v2m0 2v4m2-17v11m2-12v5m2-4v2m2-3v2m2-1v3m0 2v2m0 2v4m0 58v1m2-72v1m0 1v1m0 1v3m2-7v1m0 1v8m0 1v2m2-13v7m2-5v7m0 36v9m2-53v5m0 35v4m2-46v2m0 36v2m0 4v4m2-51v2m0 39v2m0 2v4m2-55v1m0 1v3m0 34v2m0 14v3m2-60v2m0 41v2m2-50v2m0 30v4m0 16v2m2-62v5m0 31v2m0 2v2m0 2v2m0 4v2m0 38v2m0 4v1m2-116v1m0 4v3m0 1v1m0 1v10m0 6v28m0 4v2m2-68v2m0 2v2m0 2v10m0 2v2m0 4v2m0 1v2m0 21v6m0 1v5m0 36v4m0 4v1m2-57v2m0 1v5m0 2v2m0 4v2m0 23v5m0 2v1m0 1v1m2-51v6m0 1v10m0 19v4m0 2v5m0 3v2m2-48v7m0 1v2m0 12v2m0 2v6m0 1v5m0 2v2m2-45v10m0 1v2m0 3v5m0 2v12m2-28v22m2-20v2m0 6v10m2-10v6m2-7v4m0 1v1m2-16v1m0 4v6m2-6v5m2-9v7m0 27v2m2-35v4m0 1v1m0 11v4m0 2v2m0 4v4m2-35v7m0 4v6m0 2v7m0 1v2m2-14v12m2-13v4m0 1v2m2-12v4m0 2v4m0 2v2m2-14v2m0 1v3m0 2v2m2-8v3m0 1v4m0 4v6m2-18v2m0 2v2m0 4v8m2-20v1m0 10v4m0 1v1m0 15v2m0 4v1m2-27v5m0 3v10m0 2v4m2-31v5m0 2v4m0 2v1m0 10v4m2-7v6m2-8v4m0 2v2m2-8v2m0 1v7m2-18v2m0 2v2m0 2v4m0 2v4m2-14v4m0 2v4m0 2v2m2-21v1m0 1v3m0 2v6m0 2v2m0 2v2m2-24v2m0 12v2m0 2v8m2-8v9m0 1v6m2-22v2m0 1v1m0 2v4m0 2v2m2-10v10m2-18v2m0 6v10m2-20v4m0 2v2m0 2v10m2-24v8m0 2v2m0 2v6m2-34v2m0 12v2m0 6v4m0 4v2m0 1v3m2-47v1m0 10v5m0 1v3m0 17v2m0 4v6m2-46v2m0 2v2m0 2v6m0 18v2m0 2v2m0 2v9m0 1v1m2-53v8m0 10v2m0 12v2m0 2v9m0 1v1m0 1v2m2-40v2m0 16v2m0 2v2m0 2v2m0 2v2m0 2v8m2-43v1m0 10v8m0 2v2m0 15v3m0 2v1m2-82v1m0 44v8m0 19v1m0 1v1m0 1v2m2-83v1m0 3v2m0 3v1m0 11v1m0 22v11m0 23v6m0 16v2m2-96v2m0 2v2m0 2v2m0 15v1m0 3v13m0 26v4m0 3v7m0 9v1m0 1v1m2-70v12m0 39v11m0 2v8m2-74v4m0 2v2m0 18v2m0 24v2m0 1v3m0 2v4m0 4v2m2-70v2m0 49v1m0 4v7m0 1v2m2-52v2m0 41v3m2-54v6m0 4v1m0 39v3m2-56v5m0 1v3m0 26v1m0 13v5m2-55v6m0 2v2m0 16v4m0 4v1m0 1v2m0 7v1m0 1v6m2-27v4m0 16v2m0 1v3m2-102v2m0 63v1m0 2v4m0 26v5m2-52v1m0 6v8m0 2v2m0 4v2m0 17v3m0 4v4m0 4v1m2-56v5m0 2v3m0 1v2m0 6v1m0 5v2m0 8v17m0 1v2m2-58v3m0 1v10m0 2v2m0 1v5m0 4v2m0 1v2m0 1v1m0 10v1m0 2v4m2-54v2m0 48v2m2-56v2m0 54v2m2-62v2m2-11v6m2-59v4m0 2v2m0 4v2m0 16v6m0 5v1m0 4v2m2-48v3m0 1v1m0 9v2m0 4v2m2-14v2m0 14v5m0 1v12m0 8v2m2 6v4m2 0v4m2 2v4m0 16v2m2-18v7m0 7v2m0 4v3m2-27v16m0 2v1m2-18v9m0 2v4m2-15v4m2-4v3m2-4v3m2-2v1m0 32v2m2-36v2m0 10v4m0 4v1m0 1v4m2-26v2m0 12v6m2-20v2m0 2v1m0 1v1m0 9v8m0 2v2m2-26v4m0 2v4m0 1v10m0 1v4m0 12v8m2-50v4m0 2v10m0 2v12m0 4v2m0 1v11m0 1v2m2-51v4m0 6v1m0 1v4m0 2v21m0 5v5m0 1v1m2-50v1m0 10v6m0 2v6m0 2v2m0 14v4m0 2v1m2-50v2m0 11v3m0 1v2m0 22v4m0 6v4m2-56v1m0 13v4m0 19v12m0 5v2m0 2v2m2-61v2m0 10v5m0 20v7m0 9v2m0 1v3m2-59v2m0 9v6m0 18v2m0 15v1m0 1v2m2-81v2m0 2v2m0 21v2m0 8v9m0 1v1m0 1v9m0 4v2m0 9v1m0 1v4m0 1v1m2-52v2m0 9v2m0 9v6m0 1v2m0 6v8m0 4v1m2-48v1m0 18v16m0 6v4m2-46v1m0 15v10m0 2v4m0 2v4m0 2v1m2-42v1m0 16v8m0 4v5m0 1v1m2-35v2m0 9v1m0 2v1m0 1v4m0 2v6m0 4v2m0 4v2m2-39v5m0 1v6m0 1v4m0 2v8m0 6v1m2-32v4m0 1v4m0 2v8m0 2v2m0 2v4m0 2v4m0 3v1m0 4v2m2-36v2m0 1v1m0 2v27m0 1v1m2-45v2m0 6v9m0 11v6m0 2v2m2-32v2m0 16v2m0 2v6m0 6v6m0 4v4m2-32v7m0 1v7m0 1v3m0 9v2m2-40v6m0 1v1m0 1v7m0 20v2m2-41v3m0 2v6m0 24v3m2-43v2m0 35v4m0 1v1m2-11v2m0 2v4m2-16v2m0 5v7m2-36v2m0 27v5m2-4v3m2-11v7m2-11v2m0 1v1m2-8v2m2-18v2m0 2v2m0 1v3m2-34v5m0 17v4m0 36v2m2-70v3m0 1v6m0 14v3m2-7v3m0 35v2m0 2v4m0 2v2m2-49v1m0 29v1m0 10v2m0 10v1m2-53v1m0 21v9m0 3v4m0 6v6m2-54v2m0 20v18m0 4v8m0 2v2m2-61v2m0 19v34m0 3v5m0 6v2m2-74v1m0 18v5m0 10v2m0 1v5m0 2v7m0 1v24m2-76v2m0 2v4m0 5v1m0 1v1m0 1v4m0 10v7m0 6v6m0 4v4m0 2v2m0 6v2m0 1v1m2-57v1m0 2v2m0 4v6m0 4v10m0 4v3m0 15v4m2-49v1m0 2v2m0 2v2m0 2v5m0 1v3m0 3v2m0 17v4m0 1v2m2-50v8m0 2v4m0 2v3m0 1v2m0 9v1m0 4v4m0 2v6m2-42v10m0 2v2m0 11v1m0 2v13m2-45v6m0 2v4m0 2v1m0 4v11m0 2v2m0 2v8m2-38v2m0 2v2m0 3v12m0 1v12m2-36v2m0 2v4m0 6v8m0 2v4m2-12v7m0 1v2m2-18v10m0 2v1m0 35v2m2-56v9m0 47v2m0 1v1m2-68v2m0 2v12m0 44v2m0 3v1m2-65v9m0 2v2m0 51v1m2-60v3m2-6v3m2-4v2m2-9v1m0 7v3m0 2v4m2-17v3m0 5v4m2-5v4m2-4v1m2-1v1m0 39v2m2-42v2m2-1v11m2-25v1m0 9v1m0 3v1m0 1v1m0 2v2m2-9v8m2-65v4m0 8v2m0 11v1m0 7v1m0 5v3m0 3v1m0 1v14m0 1v1m0 34v5m0 4v3m2-97v9m0 35v4m0 33v6m0 1v5m0 1v1m0 1v2m2-54v2m0 2v1m0 27v6m0 6v2m0 2v1m2-48v2m0 24v7m0 1v3m0 2v7m0 1v2m2-49v3m0 17v5m0 3v13m0 1v8m2-47v6m0 2v5m0 1v4m0 1v1m0 2v10m0 6v4m0 2v1m2-47v2m0 2v2m0 5v1m0 2v5m0 11v2m0 10v1m2-35v2m0 2v2m0 2v1m0 11v2m0 2v4m0 1v1m0 2v4m2-42v2m0 28v2m0 1v4m0 1v2m2-25v1m0 2v2m0 6v4m0 2v7m2-23v4m0 4v18m2-10v6m0 1v4m2-11v4m0 2v4m0 20v2m2-29v5m0 2v2m2-14v2m0 2v2m0 2v2m0 2v4m2-15v1m0 2v2m0 6v5m2-19v2m0 8v4m0 1v3m0 13v1m2-22v2m0 1v8m0 11v2m0 1v1m2-30v2m0 2v2m0 1v1m0 1v3m2-7v5m2-10v6m0 1v1m0 2v4m2-18v2m0 6v6m0 2v2m2-27v1m0 6v4m0 2v2m0 2v9m0 1v2m2-27v3m0 2v6m0 4v8m2-27v1m0 20v2m0 1v6m0 3v2m2-12v9m2-7v6m2-10v4m0 3v6m0 1v2m2-5v3m2-4v3m2-5v4m2-3v3m2-7v1m0 2v5m2-7v3m2-4v2m0 1v1m2-3v1m0 1v1m0 3v1m2-7v4m2-8v8m2-6v2m2-4v7m2-7v5m2-8v3m2-7v4m2-10v4m2-9v2m2-67v3m0 57v1m0 1v3m2-63v5m0 51v2m2-54v3m0 46v6m2-9v1m0 2v4m0 2v2m2-12v2m0 1v3m2 1v1m0 1v3m2-6v4m2-7v6m0 1v1m2-9v2m0 2v2m2-9v5m2-6v4m0 2v1m2-12v8m0 3v2m2-13v6m2-11v5m2-8v1m2-12v2m2-16v4m0 52v2m0 2v3m0 27v2m0 1v1m2-103v3m0 49v1m0 2v3m0 1v4m0 2v5m0 9v2m0 6v2m0 2v12m2-110v2m0 46v5m0 11v2m0 1v4m0 1v8m0 1v5m0 11v1m0 6v2m2-113v4m0 20v4m0 41v2m0 2v14m0 2v1m0 15v2m0 8v2m2-124v2m0 1v1m0 2v2m0 54v2m0 2v4m0 2v12m0 38v2m2-58v2m0 50v6m2-58v1m0 47v2m0 1v5m2-8v2m6-22v1m14-28v1m0 2v5m0 1v2m18-2v8m2-6v6m2-6v4m2-2v10m0 6v2m2-18v16m2-19v1m0 2v9m0 1v2m2-12v6m2-9v3m8 38v6m2-8v8m2-11v1m0 4v6m2-24v2m0 8v4m0 4v3m0 1v1m2-27v6m0 2v2m0 2v10m2-92v5m0 67v14m0 9v1m0 1v1m2-98v5m0 64v7m0 1v3m0 8v2m0 2v6m2-33v7m0 14v6m0 4v2m2-18v6m0 4v2m0 4v2m2-44v2m0 18v5m0 1v18m2-20v6m0 4v2m0 2v6m2-32v4m0 16v2m0 2v6m2-13v1m0 2v7m0 3v2m2-18v4m0 2v10m2-23v4m0 1v2m0 4v4m0 1v3m0 2v4m2-34v8m0 4v6m0 1v12m0 1v2m2-40v2m0 2v3m0 7v16m0 2v8m2-39v2m0 1v4m0 2v1m0 1v3m0 2v3m0 3v15m2-36v2m0 13v7m0 2v14m2-92v2m0 70v2m0 2v8m0 2v6m2-32v18m0 2v6m0 2v4m2-30v12m0 4v10m2-30v9m0 9v6m2-32v2m0 6v2m0 10v5m0 1v1m0 1v1m0 9v4"/>
<path stroke="#ff6e00" d="M179 618v6m2-12v14m0 12v2m2-30v8m0 2v3m0 3v5m0 3v2m2-28v3m0 1v4m0 2v7m0 5v1m2-26v1m0 2v10m0 4v2m2-12v2m2-52v2m0 2v2m0 80v4m2-82v2m0 2v5m0 1v1m0 59v4m2-70v2m2 53v2m4-15v2m4-56v2m2 1v1m22 94v1m12-3v2m2-5v1m0 4v2m2-9v3m0 2v2m2-6v7m2-14v1m0 4v2m0 2v2m4-2v4m2-4v7m0 1v1m2-10v5m0 4v2m2-11v5m0 4v2m2-13v3m0 4v3m0 1v2m2-16v4m0 3v2m0 1v4m2-12v3m0 5v2m2-60v2m0 2v2m2-14v2m0 2v2m2-8v2m6 68v4m2-11v1m0 2v2m0 2v2m2-10v6m2-9v3m0 6v2m2-13v5m0 2v2m0 2v2m0 2v2m2-58v2m0 46v1m0 1v1m2-51v1m0 35v2m0 7v2m0 9v2m2-16v2m0 1v2m0 4v7m2-14v4m0 3v5m2-14v12m0 2v2m2-18v2m0 3v7m0 4v2m2-16v4m0 4v8m2-21v7m0 2v2m0 2v6m2-34v2m0 2v7m0 1v10m0 2v3m0 1v2m0 5v1m2-48v2m0 2v8m0 2v2m0 5v3m0 2v2m0 2v4m0 2v6m0 2v4m2-52v2m0 2v2m0 2v1m0 1v1m0 13v4m0 4v2m0 2v2m0 4v4m2-49v9m0 13v2m0 1v1m0 1v1m0 14v1m0 2v4m2-53v7m0 14v4m0 15v7m0 3v1m0 2v2m2-65v1m0 4v5m0 1v2m0 8v8m0 21v6m0 1v8m2-67v5m0 1v7m0 3v1m0 3v1m0 2v2m0 26v5m0 1v1m0 1v4m2-63v7m0 2v8m0 22v2m0 4v2m0 1v5m0 1v4m2-61v1m0 5v2m0 5v1m0 28v12m0 13v3m0 2v2m2-78v1m0 17v1m0 17v10m0 6v4m0 2v2m0 2v2m0 2v2m0 2v6m2-112v6m0 28v1m0 19v3m0 11v5m0 3v2m0 1v1m0 2v11m0 10v11m2-118v4m0 2v1m0 1v2m0 32v1m0 3v12m0 2v2m0 1v4m0 1v4m0 4v11m0 20v1m0 2v6m2-54v4m0 4v2m0 2v1m0 1v4m2-26v16m0 2v6m0 2v2m2-32v12m0 2v2m0 2v2m0 16v4m0 16v2m2-56v10m0 17v3m0 2v3m0 1v1m0 27v2m2-58v2m0 12v2m0 2v9m0 25v6m2-55v1m0 2v8m0 2v1m0 7v1m0 3v3m0 1v1m0 14v4m0 1v4m2-54v10m0 6v10m0 2v2m0 12v8m0 2v1m2-58v9m0 8v7m0 1v4m0 4v6m0 2v2m0 1v7m2-49v1m0 2v2m0 7v1m0 4v2m0 4v2m0 10v11m2-39v10m0 2v3m0 8v1m0 1v13m2-44v6m0 2v6m0 1v5m0 10v16m0 3v3m0 4v2m2-56v2m0 2v18m0 1v7m0 2v8m0 2v14m2-57v5m0 4v6m0 2v2m0 3v3m0 2v17m0 5v2m0 3v3m2-61v7m0 4v5m0 10v5m0 2v8m0 2v7m0 1v2m0 2v2m2-61v13m0 16v4m0 2v8m0 2v3m0 1v2m2-58v2m0 1v10m0 1v2m0 18v21m2-53v4m0 2v1m0 3v2m0 16v4m0 2v10m0 2v8m0 15v1m2-56v2m0 8v2m0 2v10m0 2v2m0 2v10m0 2v14m2-70v2m0 3v1m0 4v4m0 4v2m0 1v14m0 5v2m0 1v9m0 2v2m0 2v8m0 2v1m2-67v2m0 5v7m0 2v10m0 9v1m0 1v5m0 12v4m0 2v2m2-56v32m0 14v2m2-52v26m0 2v2m0 15v5m2-55v4m0 1v10m0 2v18m0 2v2m0 5v1m0 1v4m2-47v2m0 4v14m0 1v1m0 1v3m0 2v16m2-30v18m2-25v9m0 2v2m0 26v2m0 14v4m2-58v8m0 2v2m0 30v2m0 4v10m2-60v1m0 5v2m0 28v6m0 2v2m0 4v4m0 6v2m2-64v6m0 26v2m0 1v14m0 13v2m2-64v10m0 13v1m0 4v4m0 4v2m0 3v6m2-53v2m0 6v5m0 14v19m0 2v2m0 14v2m2-62v2m0 2v6m0 2v2m0 2v10m0 4v7m0 1v2m0 9v1m0 8v2m2-56v8m0 2v1m0 1v18m0 14v6m2-34v6m0 13v12m2-39v4m0 1v5m0 13v13m0 12v6m2-55v1m0 2v5m0 13v12m0 16v4m2-60v7m0 14v1m0 2v6m0 2v4m0 2v2m0 20v2m2-64v4m0 16v2m0 2v2m0 14v2m2-47v5m0 14v10m0 12v2m0 14v2m0 3v7m2-72v6m0 8v16m0 12v2m0 26v2m2-73v5m0 2v4m0 2v2m0 4v5m0 47v2m2-72v4m0 2v2m0 2v2m0 4v4m0 48v2m2-60v12m2-19v6m0 1v2m0 4v2m2-17v7m0 63v1m2-72v12m0 58v2m2-70v2m0 2v2m0 57v5m0 1v1m2-66v7m0 43v16m2-63v1m0 2v3m0 36v11m0 8v2m2-66v7m0 33v13m0 9v2m0 1v1m2-64v1m0 32v3m0 9v3m0 2v1m0 9v2m2-65v3m0 27v5m0 6v7m0 1v1m0 1v2m0 4v4m0 2v1m2-69v3m0 30v3m0 2v4m0 4v6m0 2v2m0 4v2m0 8v2m2-75v3m0 27v9m0 2v2m0 4v14m0 12v2m2-78v3m0 25v6m0 2v10m0 2v2m0 3v7m0 12v2m2-79v2m0 24v1m0 1v13m0 2v14m0 8v2m2-72v5m0 23v2m0 4v16m0 2v6m0 3v7m0 2v2m0 9v7m2-93v1m0 2v1m0 1v4m0 2v2m0 11v7m0 2v2m0 2v2m0 2v4m0 6v8m0 4v2m0 2v2m0 2v3m0 7v4m0 2v4m0 1v1m2-109v1m0 1v1m0 10v6m0 28v4m0 2v10m0 2v3m0 7v14m0 2v8m0 2v8m2-106v2m0 2v4m0 2v1m0 35v18m0 13v5m0 4v4m0 1v3m0 2v4m2-58v2m0 2v4m0 2v7m0 10v6m0 5v2m0 1v1m0 1v6m0 6v3m2-49v11m0 2v6m0 11v3m0 2v4m2-45v1m0 2v12m0 2v2m0 12v2m0 2v8m2-43v1m0 2v3m0 5v2m0 12v14m0 2v2m2-24v8m0 2v4m2-16v3m0 1v6m0 2v2m2-18v5m0 1v2m2-11v1m0 1v4m0 1v1m2-11v6m0 20v2m0 2v2m0 2v2m2-37v2m0 1v2m0 20v8m2-35v4m0 11v12m0 2v6m2-37v1m0 1v11m0 4v2m0 2v4m0 4v3m0 1v2m2-34v4m0 15v1m0 2v8m2-10v3m0 1v2m0 2v2m2-19v1m0 2v8m0 2v1m0 1v2m2-16v2m0 2v8m0 2v2m2-20v2m0 2v12m0 2v6m2-25v1m0 4v4m0 6v8m2-8v4m0 12v2m2-23v1m0 1v15m0 2v4m0 1v2m0 12v1m0 1v1m2-39v3m0 16v2m0 11v1m0 2v4m2-23v4m0 1v2m0 2v2m0 3v1m0 4v4m2-24v12m0 10v2m2-24v10m0 4v2m0 2v2m2-18v6m2-12v2m0 4v10m0 6v2m2-28v2m0 4v2m0 2v9m0 3v4m0 1v5m2-26v2m0 2v8m0 4v9m2-19v18m2-17v1m0 6v4m2-12v7m0 1v1m2-9v6m2-6v4m0 2v4m2-10v4m0 2v1m2-11v4m0 2v2m2-6v4m2-2v7m0 1v1m0 3v2m0 2v2m2-15v1m0 1v5m0 2v8m2-23v1m0 1v1m0 2v16m2-14v10m2-12v2m0 1v3m2-7v7m0 7v5m2-101v3m0 6v4m0 2v5m0 63v4m0 2v1m0 1v2m0 2v4m2-92v2m0 2v2m0 2v4m0 68v9m0 1v1m0 1v2m2-10v2m2-8v2m0 4v4m0 2v4m2-11v1m0 2v6m2-12v5m0 1v4m2-11v9m2-60v1m0 48v6m0 1v2m0 7v1m2-19v6m0 5v2m0 2v4m2-20v6m0 2v1m0 5v6m2-19v19m2-18v4m0 1v9m2-13v1m0 2v1m0 1v1m2-58v1m0 10v2m0 2v1m0 14v1m0 1v5m0 4v1m0 1v2m0 4v5m2-57v6m0 2v2m0 2v4m0 1v12m0 5v1m0 10v3m0 2v3m0 1v1m0 1v1m2-61v4m0 47v1m2-56v3m0 51v5m2-64v4m0 1v1m0 52v1m0 2v2m2-118v2m0 2v4m0 2v16m0 12v4m0 2v14m0 55v4m0 20v3m2-141v1m0 1v9m0 2v4m0 2v16m0 2v16m0 2v2m0 52v13m2-96v1m0 12v8m0 2v10m0 2v1m0 43v2m0 1v13m2-62v2m0 42v16m2-56v4m0 6v2m0 16v2m0 3v1m0 2v6m0 2v5m0 3v1m2-47v16m0 6v12m0 2v2m2-31v7m0 2v4m0 3v2m0 1v4m0 4v2m0 10v1m2-35v2m0 1v7m0 2v4m0 6v2m0 6v2m0 2v2m2-42v2m0 4v6m2-17v5m0 2v4m0 2v2m0 10v2m0 5v1m0 2v2m0 2v8m2-48v2m0 2v2m0 24v4m0 2v8m2-45v3m0 18v14m0 4v1m2-41v2m0 4v1m0 1v2m0 2v2m0 2v16m0 2v2m0 4v1m2-41v5m0 3v2m0 4v4m0 1v1m0 4v6m0 4v1m2-35v12m0 6v16m2-34v2m0 1v1m0 1v9m0 8v2m0 2v6m0 2v2m0 2v11m0 1v1m2-47v2m0 4v1m0 10v1m0 4v2m0 2v6m0 1v1m0 8v4m2-50v2m0 24v4m0 2v1m0 14v5m2-50v4m0 39v1m0 1v3m2-52v10m0 36v2m0 1v3m2-51v1m0 8v2m0 32v6m0 4v5m0 1v1m2-62v2m0 8v3m0 42v2m0 2v3m2-62v2m0 5v3m0 47v4m2-61v2m0 4v3m0 45v2m0 1v2m2-57v8m0 42v1m0 1v2m2-52v3m0 3v3m0 2v9m0 23v4m0 1v1m2-48v1m0 11v6m0 16v6m0 4v3m2-48v3m0 6v6m0 16v2m0 4v2m0 1v1m0 2v4m2-48v2m0 9v5m0 17v1m0 1v6m0 1v6m2-46v4m0 2v3m0 1v2m0 14v4m0 2v4m0 2v2m0 2v2m2-40v1m0 21v6m0 1v4m0 1v1m2-19v2m0 2v2m0 4v2m0 4v3m0 1v2m0 1v1m0 2v2m2-34v2m0 27v1m0 1v2m2-13v2m0 2v18m2-22v6m0 14v2m2-27v1m0 22v2m4-7v3m2-5v1m0 1v1m2-4v4m2-6v1m0 1v2m2-6v4m2-5v1m2-5v2m2-9v2m2-12v2m0 2v2m2-10v2m0 28v7m2-45v3m0 28v5m0 2v5m2-72v1m0 23v4m0 19v8m0 2v12m2-49v3m0 18v14m0 2v2m0 4v2m0 2v6m2-54v1m0 16v5m0 2v5m0 1v10m0 2v10m0 1v5m2-57v2m0 12v3m0 2v2m0 9v3m0 4v6m0 6v8m0 2v1m2-63v1m0 1v1m0 11v6m0 18v4m0 8v2m0 2v10m0 8v4m2-81v7m0 6v6m0 34v3m0 5v6m0 2v14m2-87v7m0 2v1m0 1v1m0 2v4m0 32v1m0 24v1m0 1v1m0 3v6m2-86v2m0 4v5m0 1v1m0 1v1m0 21v6m0 28v5m0 9v2m2-58v4m0 36v4m2-7v1m0 2v6m2-8v3m0 1v3m0 1v1m2-10v7m2-8v7m2-11v6m2-14v12m0 21v1m2-39v1m0 2v9m0 22v1m0 2v2m2-44v2m0 1v1m0 4v2m0 30v4m2-51v11m0 20v2m0 4v2m0 4v4m0 2v1m2-51v5m0 21v4m0 2v2m0 2v8m0 2v3m0 1v2m2-58v2m0 2v4m0 22v2m0 14v2m0 2v5m0 1v2m2-59v7m0 6v2m0 6v2m0 20v2m0 8v6m2-62v8m0 2v10m0 26v2m0 4v10m2-64v12m0 2v1m0 26v1m0 14v4m0 2v2m2-72v4m0 6v2m0 4v2m0 2v2m0 24v5m0 1v2m0 2v2m0 4v2m0 2v2m0 2v2m2-61v4m0 27v2m0 1v5m0 4v4m0 2v1m0 5v6m2-62v2m0 27v1m0 4v2m0 4v4m0 12v2m2-61v3m0 23v1m0 2v2m0 2v2m0 4v4m0 4v1m0 1v2m2-51v5m0 14v2m0 12v6m0 2v6m0 2v2m2-50v16m0 14v14m0 4v1m0 14v1m2-54v3m0 11v6m0 8v1m0 22v3m2-78v4m0 4v1m0 11v10m0 8v2m0 2v2m0 10v2m0 8v2m0 2v10m2-87v11m0 7v2m0 8v9m0 2v2m0 14v8m0 2v14m0 2v5m2-119v8m0 2v11m0 1v1m0 7v5m0 3v3m0 1v1m0 14v1m0 1v5m0 2v2m0 18v7m0 5v4m0 3v5m2-54v7m0 3v4m0 10v9m0 12v1m0 1v1m0 2v2m2-54v2m0 1v2m0 1v1m0 1v2m0 16v4m0 14v2m0 1v4m0 5v2m2-57v6m0 7v1m0 3v7m0 20v1m0 2v4m2-50v6m0 2v9m0 30v2m0 1v2m2-46v2m0 34v2m0 1v5m2-9v5m2-4v1m2-6v1m0 2v6m2-7v11m2-8v7m2-6v7m0 8v2m0 1v3m2-22v6m0 8v6m2-22v2m0 2v6m0 2v4m0 2v6m2-24v2m0 4v12m2-11v9m0 5v3m2-18v8m0 4v1m0 1v4m2-15v3m0 2v6m0 2v1m2-17v18m2-20v14m0 2v4m2-22v2m0 4v12m0 2v2m2-20v2m0 2v2m0 2v4m0 4v4m2-17v1m0 2v1m0 7v6m2-18v18m2-15v3m0 2v6m0 1v3m2-13v13m2-14v14m2-11v1m0 2v6m2-8v7m0 1v2m2-11v3m0 2v2m2-8v8m0 2v1m2-11v8m2-7v3m0 2v2m2-11v4m2-6v1m0 1v4m2-6v1m0 1v3m0 1v1m2-4v6m2-6v3m0 1v2m0 4v4m2-22v2m0 2v16m2-13v5m2-7v2m2-7v6m2-9v4m2-10v4m2-11v6m2-8v3m2-8v8m0 1v4m2-12v10m0 2v1m2-15v2m0 2v8m2-8v6m2-6v3m2-5v4m0 2v1m2-8v1m0 1v1m0 4v1m2-13v2m0 2v4m2-8v5m0 1v2m2-10v2m0 1v7m0 2v1m2-14v3m0 2v5m2-12v7m2-13v3m2-10v2m0 44v1m2-57v4m0 38v2m0 2v2m0 4v4m0 20v2m2-90v6m0 40v6m0 2v2m0 3v13m0 6v2m0 2v4m0 2v1m2-99v2m0 43v4m0 1v2m0 15v9m0 2v6m0 2v2m2-96v3m0 1v2m0 2v2m0 14v22m0 23v1m0 8v1m2-84v20m56 47v2m2-2v2m22 22v1m2 15v4m2-10v4m0 2v4m2-17v1m4 16v2m2-5v3m2-12v2m2-9v1m0 2v4m0 4v1m2-17v4m0 6v1m2-18v7m0 16v2m2-29v1m0 4v2m4 22v2m2-8v2m2 8v4m2-10v10m2-17v1m0 1v1m0 1v9"/>
<path stroke="#ff5e00" d="M183 618v2m2-9v1m0 4v2m10-42v2m62 82v2m2-2v4m2-8v4m2-6v3m16 3v2m0 2v2m2-6v6m2-12v6m0 2v4m2-12v2m0 2v2m0 2v2m2-7v1m0 1v7m2-11v9m2-9v4m2-3v3m0 5v2m2-4v2m2-4v4m2-10v4m2-6v2m0 2v2m2-17v1m0 10v2m2-24v2m0 2v5m0 3v2m2-24v2m0 1v1m0 1v13m0 22v6m2-46v6m0 2v5m0 27v6m2-52v14m0 26v3m0 1v2m0 2v4m2-59v1m0 2v8m0 35v1m0 8v4m2-58v3m0 1v3m0 1v2m0 33v1m0 1v1m0 4v6m2-62v2m0 49v13m2-73v5m0 2v5m0 41v13m0 3v2m2-75v1m0 14v2m0 28v6m0 4v2m0 2v2m0 2v2m0 2v2m0 6v2m2-79v2m0 14v3m0 19v3m0 2v1m0 1v2m2-82v2m0 37v3m0 21v1m0 4v4m2-16v2m0 4v4m0 2v2m10 11v3m0 23v1m0 4v2m2-30v2m0 22v2m0 1v3m2-37v1m0 4v4m0 18v2m0 2v1m2-35v4m0 2v10m0 11v2m0 1v3m0 6v1m2-37v4m0 1v3m0 1v1m0 13v14m2-38v10m0 16v3m0 3v4m2-14v2m2-38v4m0 16v2m0 17v5m0 2v3m2-51v4m0 20v2m0 17v1m0 2v2m0 2v4m2-32v2m0 13v1m0 2v14m2-17v5m0 2v2m0 4v2m0 1v1m2-26v2m0 8v15m2-31v2m0 2v2m0 10v2m2-21v5m0 2v1m0 23v2m0 1v1m2-42v9m0 1v1m0 21v2m0 2v6m2-14v4m0 2v2m0 4v2m2-16v1m0 1v3m0 7v4m2-67v1m0 45v5m0 6v2m0 6v2m2-24v8m0 4v1m0 7v4m2-36v18m0 2v4m0 2v10m2-52v2m0 2v26m0 2v14m0 4v2m2-52v2m0 2v2m0 6v2m0 2v2m0 2v2m0 2v3m0 1v6m0 2v4m2-49v5m0 2v6m0 4v2m0 2v14m0 6v2m0 2v4m0 4v6m2-56v14m0 2v10m0 2v1m0 14v9m0 2v2m2-52v13m0 1v4m0 19v4m0 1v6m0 2v4m2-57v14m0 19v2m0 2v14m0 2v4m2-56v2m0 2v2m0 21v1m0 2v9m0 1v8m0 2v3m0 1v2m2-32v14m0 6v4m0 2v6m2-40v6m0 3v1m0 2v1m0 12v2m0 1v1m0 1v4m0 1v5m2-44v6m0 3v4m0 13v1m0 1v10m2-41v1m0 7v5m0 12v4m0 2v10m0 4v2m2-55v4m0 3v4m0 2v1m0 1v2m0 6v2m0 4v2m0 2v20m2-58v6m0 6v4m0 2v2m0 2v14m0 2v6m0 2v14m2-64v14m0 10v12m0 2v6m0 4v4m0 2v3m2-59v8m0 16v6m0 2v4m0 2v8m0 4v14m2-47v10m0 1v9m0 15v12m2-50v12m0 2v6m0 2v2m0 14v10m0 2v2m2-50v2m0 2v4m0 2v2m0 2v2m0 22v2m0 1v9m2-63v1m0 2v4m0 2v10m0 2v4m0 26v4m0 6v2m2-64v7m0 1v4m0 2v7m0 37v5m2-59v12m0 40v2m0 2v2m2-58v12m0 35v6m2-52v10m0 31v2m2-41v6m0 28v2m0 11v8m2-57v3m0 27v1m0 1v1m0 13v9m0 2v1m2-62v3m0 2v1m0 23v3m0 15v2m0 1v2m0 3v4m0 2v2m2-64v1m0 25v1m0 18v1m0 1v1m0 2v4m0 4v2m0 1v3m2-69v3m0 24v3m0 19v2m0 2v4m0 2v8m2-70v4m0 19v4m0 31v12m2-73v5m0 16v4m0 18v2m0 12v12m0 2v4m2-81v7m0 12v5m0 1v1m0 29v8m0 2v5m0 1v10m2-83v11m0 4v8m0 30v3m0 7v2m0 2v4m0 4v1m2-85v2m0 1v1m0 4v2m0 2v11m0 23v4m0 8v4m0 2v2m0 2v2m0 3v7m2-34v2m0 3v7m0 14v2m0 8v2m2-34v13m0 17v2m0 4v6m2-47v10m0 22v6m0 3v6m2-44v2m0 26v16m2-18v10m0 3v1m0 1v3m2-22v2m0 2v3m0 1v1m2-21v2m0 4v6m2-19v1m0 6v2m0 2v2m0 22v2m2-39v1m0 2v6m0 8v2m0 3v5m0 6v1m2-36v1m0 1v7m0 6v4m0 1v1m0 2v7m2-33v3m0 3v2m0 10v2m0 2v2m0 2v2m0 2v2m2-37v1m0 2v4m0 6v10m0 8v6m2-37v11m0 20v1m2-6v1m0 2v2m2-6v4m0 2v2m2-15v1m0 2v2m0 2v8m2-16v2m0 1v1m0 2v10m2-14v2m0 2v8m0 18v4m2-34v2m0 6v4m0 8v2m0 6v4m2-26v4m0 6v2m0 2v4m0 1v1m2-24v12m0 2v10m2-7v3m0 2v2m0 2v3m0 1v1m2-17v6m0 2v3m0 1v2m2-15v1m0 2v2m0 2v3m0 1v4m2-8v10m2-12v4m0 2v2m0 2v4m2-16v12m0 1v3m2-12v6m0 2v4m2-13v3m0 4v1m2-9v4m0 9v1m2-2v2m2-8v2m0 2v4m2-13v1m0 1v11m2-14v13m2-15v2m0 4v2m0 2v3m2-13v2m0 1v3m2-10v2m0 2v1m0 1v1m0 12v1m2-18v4m0 2v12m2-13v1m0 1v3m0 2v2m0 2v2m2-10v2m2 6v2m2-6v6m2-12v5m0 1v4m0 1v1m2-12v7m2-83v2m0 72v2m0 1v1m0 2v2m8 4v2m2-9v1m0 4v4m2-6v6m2-11v1m0 2v7m2-12v5m0 2v2m2-10v2m0 1v5m4 2v4m2-13v1m0 1v11m2-32v4m0 13v4m2-55v2m0 2v2m0 4v1m0 12v5m0 1v3m0 2v2m0 2v1m0 8v1m0 1v1m0 1v3m2-60v28m0 16v3m0 1v2m0 2v4m2-61v4m0 21v1m0 22v3m0 5v3m0 17v1m2-81v1m0 1v6m0 37v2m0 2v2m0 1v2m0 1v2m0 2v6m0 12v4m2-82v6m0 2v1m0 29v2m0 8v7m0 4v8m0 10v2m2-103v2m0 16v2m0 2v8m0 33v11m0 13v1m0 13v1m0 2v2m2-82v2m0 1v5m0 14v2m0 10v2m0 2v8m0 2v1m0 13v2m0 17v1m2-80v8m0 2v8m0 2v6m0 2v14m0 16v2m2-54v6m0 2v4m0 2v6m0 2v2m0 2v3m0 1v2m0 6v2m0 5v3m0 1v3m2-32v4m0 12v2m0 2v11m2-24v1m0 4v4m0 2v10m0 1v3m2-28v2m0 4v6m0 2v6m0 2v2m0 2v4m2-34v32m2-44v2m0 4v2m0 2v10m0 2v5m0 1v2m0 2v2m0 8v1m2-47v2m0 2v24m0 4v2m0 8v3m2-45v18m0 14v4m0 1v3m0 2v2m2-46v4m0 1v1m0 2v2m0 2v2m0 20v4m0 1v6m2-42v3m0 22v4m0 1v9m2-10v20m2-22v2m0 2v2m0 11v1m0 1v1m2-24v2m0 6v1m0 13v2m2 0v2m2-54v2m0 48v4m2-4v4m2-54v8m0 49v1m0 1v1m2-61v1m0 3v4m0 52v3m2-63v5m0 54v1m2-60v4m0 50v1m0 2v4m2-7v4m0 1v1m0 1v1m2-57v3m0 43v6m2-53v1m0 2v8m0 35v3m2-48v2m0 2v2m0 32v2m0 4v4m2-50v2m0 4v3m0 30v1m0 6v4m2-46v2m0 34v2m0 2v6m2-13v1m0 1v13m0 15v1m2-26v1m0 5v1m0 19v4m2-25v2m0 1v10m0 6v4m0 1v1m2-16v1m0 1v2m2-4v2m2-4v2m2-6v5m2-5v4m2-6v5m2-5v5m2-10v1m0 2v3m0 3v3m2-11v3m2-7v4m2-7v2m2-9v4m0 18v2m0 2v2m2-34v3m0 21v6m2-38v4m0 16v8m0 7v3m2-45v5m0 12v11m0 12v3m2-47v1m0 11v7m0 8v2m0 12v6m2-52v4m0 6v8m0 32v6m0 2v1m0 5v2m0 2v4m2-75v2m0 9v5m0 5v2m0 34v8m0 4v4m2-71v5m0 2v2m0 2v1m0 3v2m0 38v2m0 1v15m2-77v1m0 1v11m0 50v8m0 4v2m2-76v2m0 2v2m2-10v2m0 1v1m0 1v2m0 62v1m0 1v3m2-5v9m2-12v14m2-12v2m0 2v8m2-17v1m0 3v1m0 1v11m2-14v13m2-14v5m0 2v2m0 2v4m2-20v6m0 10v4m2-22v4m0 10v7m2-26v5m0 8v2m0 2v5m0 1v2m2-38v4m0 2v6m0 6v4m0 2v2m0 2v6m2-34v6m0 2v2m0 2v6m0 4v4m0 2v4m2-39v5m0 2v2m0 4v8m0 4v2m0 2v2m2-34v12m0 1v9m0 2v14m0 2v2m2-44v6m0 2v6m0 2v12m0 2v6m0 2v8m2-48v2m0 10v6m0 2v2m0 3v1m0 4v8m0 2v4m2-42v2m0 1v7m0 16v3m0 1v14m0 4v2m2-52v2m0 20v6m0 5v1m0 2v2m0 2v4m0 2v2m0 2v2m2-55v4m0 17v4m0 1v1m0 2v1m0 5v4m0 4v2m0 1v5m2-54v7m0 13v7m0 1v4m0 2v4m0 4v12m0 2v2m2-60v7m0 1v1m0 1v1m0 3v2m0 1v6m0 1v2m0 2v2m0 2v4m0 4v4m0 1v1m0 2v11m2-57v8m0 2v4m0 2v3m0 1v8m0 14v2m0 2v4m0 2v2m0 2v2m2-46v14m0 14v4m0 1v5m0 3v6m2-50v11m0 6v8m0 1v7m0 4v2m0 2v7m2-71v4m0 22v8m0 2v2m0 2v10m0 2v8m0 2v2m2-66v3m0 2v2m0 19v2m0 2v14m0 8v2m0 14v2m0 5v1m2-56v2m0 2v18m0 24v10m2-57v3m0 4v10m0 28v7m2-56v1m0 1v1m0 2v16m0 25v5m0 2v4m2-55v7m0 1v3m0 34v6m0 2v2m0 2v2m2-58v2m0 41v1m0 2v2m0 2v2m2-8v2m0 2v1m2-9v5m2-8v5m0 12v4m2-18v7m0 1v2m0 2v4m0 1v1m2-14v4m0 2v8m2-15v4m0 1v8m0 1v1m2-14v4m0 2v2m0 2v1m2-13v8m2-6v2m0 4v2m2 0v6m2-8v5m2-7v4m2-6v2m4 4v2m2 0v2m2-12v2m0 4v4m2-9v7m4 2v1m6 1v2m2-3v1m2-6v2m0 2v4m2-4v2m0 1v1m2-4v4m2-8v2m0 2v4m2-11v11m2-11v11m2-10v10m2-8v8m2-11v1m0 2v4m2 2v2m2-10v10m2-15v5m0 2v1m2-9v3m2-8v4m2-10v5m2-10v9m2-14v15m2-15v1m0 4v6m2-8v2m0 1v4m2-7v4m4-9v7m2-8v2m0 1v7m2-12v4m0 1v2m0 1v1m0 1v1m2-11v3m2-6v1m0 2v8m2-8v2m0 1v5m2-9v3m2-8v4m0 41v3m2-58v6m0 32v2m0 2v1m0 9v4m2-64v4m0 2v1m0 31v6m0 1v11m0 2v2m0 4v2m2-74v7m0 13v2m0 12v2m0 1v1m0 2v2m0 2v4m0 4v10m0 6v4m2-82v6m0 2v2m0 6v2m0 15v7m0 26v6m0 2v2m2-90v4m0 4v2m0 10v12m0 2v9m2-50v1m0 2v2m0 2v14"/>
<path stroke="#ff4c00" d="M309 626v2m6 36v2m6-76v1m0 9v4m2-15v1m0 10v3m18 55v2m0 1v5m2-11v1m0 3v6m2-32v1m12 20v2m0 2v4m0 2v1m10-9v2m0 2v4m2-13v1m0 3v7m2-12v6m0 2v6m2-14v4m0 1v7m2-14v2m0 4v2m4-36v6m0 2v2m0 2v2m0 2v2m0 3v1m2-24v4m0 2v2m2-4v2m0 36v2m2-9v1m0 6v2m4 1v1m2-6v2m2-28v3m0 1v2m0 15v1m0 1v1m0 4v1m2-33v3m0 18v1m2-30v7m0 21v2m2-35v3m0 4v2m2-12v6m0 32v2m2-6v4m2-20v2m0 14v4m2-23v1m0 9v11m0 1v3m2-26v2m0 6v2m0 2v5m0 3v6m2-34v2m0 4v2m0 2v2m0 2v8m0 6v8m0 2v1m2-35v2m0 4v8m0 14v4m0 4v6m2-55v1m0 4v2m0 7v5m0 2v2m0 14v2m0 1v11m2-42v7m0 3v1m0 5v2m0 8v2m0 2v6m0 2v2m0 2v2m2-44v6m0 16v2m0 4v7m2-36v2m0 17v2m0 3v1m0 1v5m2-33v3m0 2v1m0 14v3m0 2v3m2-33v2m0 2v2m0 16v5m0 1v1m2-33v2m0 1v2m0 15v6m0 23v3m2-55v5m0 2v1m0 1v2m0 9v5m2-28v5m0 3v2m0 2v2m0 2v8m2-26v2m0 2v2m0 2v2m0 2v2m0 2v3m2-21v16m2-20v12m0 51v1m2-62v4m0 56v4m12 0v3m0 1v1m2-12v1m0 1v5m0 1v7m2-22v5m0 1v2m0 2v12m2-28v10m0 2v10m0 2v4m2-34v8m0 2v3m0 5v6m0 1v3m0 4v2m2-36v6m0 4v1m0 1v2m0 7v13m0 1v1m2-45v3m0 2v10m0 14v3m0 1v1m0 7v4m2-46v6m0 28v6m0 1v5m2-21v7m2-8v8m2-10v2m0 2v4m0 4v2m2-10v9m2-9v4m0 13v1m0 1v1m2-22v8m0 7v3m2-18v4m0 6v6m0 4v2m2-24v6m0 2v2m0 4v1m0 1v8m2-8v8m2-12v2m0 2v2m2-6v2m8 6v1m10-3v2m4 3v1m2-8v2m0 3v3m2-10v6m0 2v2m2-15v1m0 1v2m0 1v9m2-13v2m10 5v1m0 4v1m30-10v11m2-34v2m0 2v2m0 16v2m0 2v1m0 3v4m2-44v10m0 2v4m0 12v4m0 6v2m2-69v21m0 1v22m0 11v8m0 6v3m2-72v11m0 2v14m0 4v6m0 2v2m0 2v1m0 13v2m0 8v2m2-72v2m0 1v15m0 2v12m0 2v8m0 19v5m0 1v4m2-71v24m0 6v3m0 25v13m0 1v2m2-72v8m0 2v4m0 2v10m0 2v2m0 26v12m0 1v4m2-71v2m0 8v2m0 6v2m0 32v6m0 12v2m2-62v2m0 6v2m0 30v7m2-8v7m2-6v4m2-2v3m2-5v3m2-4v3m2-5v4m2-9v2m0 2v2m2-3v2m0 1v2m2-8v12m2-2v1m2-3v3m2-3v3m2-1v2m0 17v1m2-20v2m0 12v2m2-16v16m0 2v2m2-14v5m0 1v1m0 4v3m2-74v3m0 59v2m0 2v2m0 2v4m2-15v13m2-12v3m0 10v1m2-17v1m0 1v1m0 1v1m2-6v3m2-55v2m0 46v3m0 1v3m0 1v2m2-56v2m0 44v5m2-53v4m0 44v4m0 14v2m2-20v4m0 12v2m0 1v3m2-20v8m0 2v2m0 2v1m0 1v4m2-23v12m0 3v4m2-19v1m0 10v6m0 4v1m2-14v1m0 2v12m2-14v2m2-4v3m2-4v3m4-5v2m2-2v3m2-7v3m0 3v1m2-9v1m0 2v4m2-10v2m2-7v3m0 11v1m2-20v2m0 12v4m0 2v2m2-29v5m0 8v8m0 6v4m2-38v10m0 5v1m0 18v2m0 14v2m2-56v5m0 1v4m0 26v3m0 1v2m0 8v6m2-66v3m0 1v7m0 35v4m0 12v4m2-68v6m0 46v2m0 1v5m0 2v2m2-69v9m0 54v4m0 4v2m2-68v2m0 2v2m4-12v2m8 62v2m4 7v1m2-10v2m0 2v2m2-10v2m0 2v6m2-14v10m2-14v8m0 2v2m2-18v6m0 4v2m0 2v2m2-22v2m0 2v2m0 6v2m2-22v2m0 2v4m2-4v1m2 13v2m2-14v2m0 4v1m0 1v4m2-18v6m0 2v4m0 1v3m2-24v3m0 13v2m2-21v3m0 10v4m0 4v1m2-22v1m0 4v2m0 3v3m0 38v2m2-55v1m0 1v1m0 1v3m0 2v1m0 42v3m2-52v2m0 9v1m0 30v2m0 2v2m0 2v2m2-10v3m2-11v4m0 2v2m4-63v2m4 66v5m2-4v4m2-8v2m0 2v2m2-8v2m0 2v6m2-12v2m0 1v4m0 3v2m2-13v5m0 2v6m2-16v12m2-7v1m0 2v2m0 4v1m2-9v2m2-3v1m0 8v1m2-9v2m58-2v2m0 1v1m0 2v4m2-13v3m0 2v8m2-17v7m0 2v2m0 1v1m2-18v6m0 2v2m2-11v5m2-4v1m0 1v2m2-8v4m0 20v2m2-27v2m2-5v3m0 1v2m2-12v12m2-8v8m2-6v5m2-10v1m0 1v1m0 1v3m2-11v10m2-5v8m0 2v1m2-11v8m2-14v4m0 2v6m0 22v2m0 1v3m2-44v4m0 2v4m0 2v2m0 2v2m0 2v16m0 2v3m2-49v12m0 2v8m0 2v8m0 2v2m0 1v9m0 4v2m2-62v2m0 1v11m0 2v4m0 2v12m0 18v2m0 2v4m2-65v13m0 4v6m0 2v2m0 2v1m0 25v6m2-72v2m0 2v6m0 2v15m2-43v4m0 2v10m0 12v2"/>
<path stroke="#ff3c00" d="M321 591v2m0 2v5m2-10v1m0 1v2m0 4v2m84 48v1m2-6v3m2-6v6m2-10v2m0 2v10m2-22v2m0 2v8m0 2v4m0 2v1m2-24v3m0 1v5m0 2v8m0 2v2m0 6v2m2-32v16m0 2v4m2-27v13m0 2v2m0 2v3m0 1v1m2-25v2m0 1v14m0 3v2m2-28v2m0 2v16m2-21v13m2-16v2m0 1v1m0 2v9m2-18v3m0 2v2m0 2v2m2-16v2m0 2v2m0 2v2m0 2v2m20 44v1m2-10v1m0 2v2m2-6v2m2 10v4m2 0v1m2-12v1m0 1v7m2-12v4m0 6v1m2-9v14m2-14v6m0 2v6m2-16v4m0 2v7m0 1v2m2-11v11m2-16v6m0 3v4m0 1v1m2-13v7m2-11v4m34 10v2m2-9v1m44 0v2m0 1v3m2-30v2m0 20v6m0 2v4m2-10v6m2-58v2m0 14v4m0 28v8m2-52v2m0 46v1m2-43v6m2-20v2m0 58v1m2-9v3m0 1v8m2-13v3m0 2v6m0 1v3m2-16v8m2-10v5m0 1v2m0 2v2m0 5v1m2-17v3m0 6v2m0 4v2m2-19v7m0 2v2m2-12v3m0 3v2m0 8v4m2-21v1m0 2v2m0 2v2m0 2v2m0 4v2m2-22v3m0 13v4m2-21v1m0 2v3m0 1v4m0 4v2m0 2v2m2-8v2m2-9v5m0 6v2m2-13v3m2-3v3m0 8v2m0 4v2m2-18v4m0 4v2m0 4v3m2-17v1m0 1v2m0 5v3m0 2v4m2-4v2m2-7v1m0 1v4m2-7v2m0 2v2m2 2v2m2-11v10m2-7v2m0 2v4m2-15v1m0 2v1m2-8v1m0 3v1m0 2v2m0 2v2m0 5v1m2-17v5m0 9v3m2-18v4m0 6v4m0 2v2m2-18v12m0 2v1m2-9v2m0 2v2m2-5v3m6-4v2m0 2v8m2-13v11m2-12v3m2-7v6m0 11v1m2-17v3m2-2v3m0 3v2m0 4v2m2-14v2m0 13v1m2-24v2m0 4v2m0 4v2m0 7v1m0 1v1m2-26v8m0 2v2m0 10v4m2-30v6m0 2v3m0 1v4m0 4v4m0 2v4m2-36v12m0 10v3m0 3v2m0 2v4m2-40v8m0 18v1m0 1v2m0 2v6m0 1v1m2-42v5m0 21v6m0 6v2m2-56v2m0 5v1m0 33v1m0 2v8m2-57v1m0 46v12m26-8v2m16-22v2m2-6v2m0 4v1m2-18v13m2-16v10m2-12v4m0 2v3m24 38v3m2-6v2m68 0v2m2-6v2m2-2v2m0 2v1m0 1v4m2-16v2m0 6v2m2-12v6m0 4v2m0 2v2m2-19v1m0 2v3m0 1v6m0 7v1m2-22v4m0 6v4m0 2v4m2-23v4m0 7v2m0 6v6m2-27v1m0 2v1m0 1v1m0 1v2m0 2v2m0 4v2m0 6v2m2-24v2m0 2v8m0 6v2m0 2v2m2-24v6m0 8v4m0 5v1m2-25v4m0 1v2m0 4v4m0 6v4m2-28v10m0 12v2m0 2v2m2-29v8m0 1v4m0 4v2m0 4v2m0 2v2m2-26v2m0 1v3m0 2v2m0 6v2m2-18v6m0 8v2m0 9v1m2-36v2m0 6v10m0 2v1m0 3v6m0 2v1m2-37v2m0 4v2m0 2v2m0 2v2m0 16v2m2-34v2m0 8v2m2-20v2m0 4v2m2-12v2m0 6v2"/>
<path stroke="#ff2a00" d="M321 593v2m2-4v1m0 2v4m90 40v2m2 0v2m6-10v2m6-10v2m42 32v2m2 3v1m4-8v3m98-4v1m2-2v2m0 6v1m2-5v8m2-13v1m0 2v2m0 2v5m2-13v6m0 2v4m2-10v2m0 2v8m2-17v3m0 2v8m2-16v2m0 2v2m0 2v2m0 2v4m0 2v2m2-21v13m0 4v4m2-19v1m0 4v4m0 2v2m0 2v4m2-18v6m0 2v10m2-14v6m0 2v6m2-16v16m2-16v8m0 2v4m2-12v4m0 2v4m2-13v1m0 2v5m12-3v4m0 2v2m2-10v2m0 1v11m2-10v2m0 2v5m2-11v9m2-11v6m12-2v2m2 6v2m2-11v11m2-12v11m2-13v14m2-13v3m0 2v4m0 2v2m2-14v13m2-15v4m0 2v7m0 1v1m2-17v2m0 2v10m2-20v2m0 8v4m0 4v2m2-7v3m0 2v2m2-9v1m0 2v2m0 6v1m2-9v6m154-8v4m0 2v6m2-12v4m0 2v2m0 2v2m2-15v1m0 6v7m2-17v6m0 4v2m2-15v7m0 2v6m2-17v1m0 1v1m0 2v2m0 2v4m0 2v6m2-20v2m0 8v6m0 2v2m2-16v8m0 4v5m2-20v1m0 2v4m0 4v6m2-14v12m0 2v2m2-19v1m0 4v4m0 2v4m0 2v2m2-18v2m0 2v6m0 2v8m2-20v8m0 2v9m2-17v2m0 1v3"/>
</g>
<g shape-rendering="crispEdges" fill="#0040ff">
<rect x="518" y="332" width="1" height="3"/>
<rect x="517" y="335" width="3" height="6"/>
<rect x="515" y="338" width="1" height="3"/>
<rect x="517" y="341" width="2" height="2"/>
<rect x="530" y="338" width="2" height="8"/>
<rect x="531" y="341" width="2" height="8"/>
<rect x="533" y="343" width="1" height="8"/>
<rect x="534" y="346" width="3" height="8"/>
<rect x="536" y="343" width="2" height="6"/>
</g>
<g shape-rendering="crispEdges" stroke="#000" stroke-width="1" fill="none">
<rect x="169.5" y="135.5" width="801" height="532"/>
<path d="M187.5 135v-3M187.5 668v2"/>
<path d="M209.5 135v-3M209.5 668v2"/>
<path d="M231.5 135v-3M231.5 668v2"/>
<path d="M254.5 135v-3M254.5 668v2"/>
<path d="M276.5 135v-3M276.5 668v2"/>
<path d="M298.5 135v-6M298.5 668v5"/>
<path d="M320.5 135v-3M320.5 668v2"/>
<path d="M343.5 135v-3M343.5 668v2"/>
<path d="M365.5 135v-3M365.5 668v2"/>
<path d="M387.5 135v-3M387.5 668v2"/>
<path d="M409.5 135v-3M409.5 668v2"/>
<path d="M432.5 135v-6M432.5 668v5"/>
<path d="M454.5 135v-3M454.5 668v2"/>
<path d="M476.5 135v-3M476.5 668v2"/>
<path d="M498.5 135v-3M498.5 668v2"/>
<path d="M521.5 135v-3M521.5 668v2"/>
<path d="M543.5 135v-3M543.5 668v2"/>
<path d="M565.5 135v-6M565.5 668v5"/>
<path d="M588.5 135v-3M588.5 668v2"/>
<path d="M610.5 135v-3M610.5 668v2"/>
<path d="M632.5 135v-3M632.5 668v2"/>
<path d="M654.5 135v-3M654.5 668v2"/>
<path d="M677.5 135v-3M677.5 668v2"/>
<path d="M699.5 135v-6M699.5 668v5"/>
<path d="M721.5 135v-3M721.5 668v2"/>
<path d="M743.5 135v-3M743.5 668v2"/>
<path d="M766.5 135v-3M766.5 668v2"/>
<path d="M788.5 135v-3M788.5 668v2"/>
<path d="M810.5 135v-3M810.5 668v2"/>
<path d="M832.5 135v-6M832.5 668v5"/>
<path d="M855.5 135v-3M855.5 668v2"/>
<path d="M877.5 135v-3M877.5 668v2"/>
<path d="M899.5 135v-3M899.5 668v2"/>
<path d="M921.5 135v-3M921.5 668v2"/>
<path d="M944.5 135v-3M944.5 668v2"/>
<path d="M966.5 135v-6M966.5 668v5"/>
<path d="M169 652.5h-4M971 652.5h4"/>
<path d="M169 629.5h-4M971 629.5h4"/>
<path d="M169 606.5h-4M971 606.5h4"/>
<path d="M169 584.5h-8M971 584.5h8"/>
<path d="M169 562.5h-4M971 562.5h4"/>
<path d="M169 539.5h-4M971 539.5h4"/>
<path d="M169 516.5h-4M971 516.5h4"/>
<path d="M169 494.5h-8M971 494.5h8"/>
<path d="M169 472.5h-4M971 472.5h4"/>
<path d="M169 449.5h-4M971 449.5h4"/>
<path d="M169 426.5h-4M971 426.5h4"/>
<path d="M169 404.5h-8M971 404.5h8"/>
<path d="M169 382.5h-4M971 382.5h4"/>
<path d="M169 359.5h-4M971 359.5h4"/>
<path d="M169 336.5h-4M971 336.5h4"/>
<path d="M169 314.5h-8M971 314.5h8"/>
<path d="M169 292.5h-4M971 292.5h4"/>
<path d="M169 269.5h-4M971 269.5h4"/>
<path d="M169 246.5h-4M971 246.5h4"/>
<path d="M169 224.5h-8M971 224.5h8"/>
<path d="M169 202.5h-4M971 202.5h4"/>
<path d="M169 179.5h-4M971 179.5h4"/>
<path d="M169 156.5h-4M971 156.5h4"/>
</g>
<defs><linearGradient id="jet" x1="0" y1="1" x2="0" y2="0">
<stop offset="0.0000" stop-color="#000080"/>
<stop offset="0.0312" stop-color="#00009f"/>
<stop offset="0.0625" stop-color="#0000bf"/>
<stop offset="0.0938" stop-color="#0000df"/>
<stop offset="0.1250" stop-color="#0000ff"/>
<stop offset="0.1562" stop-color="#0020ff"/>
<stop offset="0.1875" stop-color="#0040ff"/>
<stop offset="0.2188" stop-color="#0060ff"/>
<stop offset="0.2500" stop-color="#0080ff"/>
<stop offset="0.2812" stop-color="#009fff"/>
<stop offset="0.3125" stop-color="#00bfff"/>
<stop offset="0.3438" stop-color="#00dfff"/>
<stop offset="0.3750" stop-color="#00ffff"/>
<stop offset="0.4062" stop-color="#20ffdf"/>
<stop offset="0.4375" stop-color="#40ffbf"/>
<stop offset="0.4688" stop-color="#60ff9f"/>
<stop offset="0.5000" stop-color="#80ff80"/>
<stop offset="0.5312" stop-color="#9fff60"/>
<stop offset="0.5625" stop-color="#bfff40"/>
<stop offset="0.5938" stop-color="#dfff20"/>
<stop offset="0.6250" stop-color="#ffff00"/>
<stop offset="0.6562" stop-color="#ffdf00"/>
<stop offset="0.6875" stop-color="#ffbf00"/>
<stop offset="0.7188" stop-color="#ff9f00"/>
<stop offset="0.7500" stop-color="#ff8000"/>
<stop offset="0.7812" stop-color="#ff6000"/>
<stop offset="0.8125" stop-color="#ff4000"/>
<stop offset="0.8438" stop-color="#ff2000"/>
<stop offset="0.8750" stop-color="#ff0000"/>
<stop offset="0.9062" stop-color="#df0000"/>
<stop offset="0.9375" stop-color="#bf0000"/>
<stop offset="0.9688" stop-color="#9f0000"/>
<stop offset="1.0000" stop-color="#800000"/>
</linearGradient></defs>
<rect x="990" y="135" width="21" height="533" fill="url(#jet)"/>
<g shape-rendering="crispEdges" stroke="#000" stroke-width="1" fill="none">
<rect x="990.5" y="135.5" width="20" height="532"/>
<path d="M1010 637.5h-2"/>
<path d="M1010 607.5h-2"/>
<path d="M1010 578.5h-2"/>
<path d="M1010 548.5h-2"/>
<path d="M1010 519.5h-2"/>
<path d="M1010 489.5h-2"/>
<path d="M1010 460.5h-2"/>
<path d="M1010 430.5h-2"/>
<path d="M1010 400.5h-2"/>
<path d="M1010 371.5h-2"/>
<path d="M1010 341.5h-2"/>
<path d="M1010 312.5h-2"/>
<path d="M1010 282.5h-2"/>
<path d="M1010 253.5h-2"/>
<path d="M1010 223.5h-2"/>
<path d="M1010 194.5h-2"/>
<path d="M1010 164.5h-2"/>
</g>
<g font-family="Liberation Sans, sans-serif" fill="#000" stroke="#000" stroke-width="0.35" opacity="0.999">
<text transform="translate(142.50 114.50) scale(1 0.8897)" font-size="19.06" xml:space="preserve">Equivalent Radar Reflectivity Factor Ze of Hydrometeors   15:01 29.12.2014 - 18:00 29.12.2014 Muenchen</text>
<text transform="translate(299.62 694.00) scale(1 0.8708)" font-size="18.60" text-anchor="middle" xml:space="preserve">15:30</text>
<text transform="translate(433.20 694.00) scale(1 0.8708)" font-size="18.60" text-anchor="middle" xml:space="preserve">16:00</text>
<text transform="translate(566.77 694.00) scale(1 0.8708)" font-size="18.60" text-anchor="middle" xml:space="preserve">16:30</text>
<text transform="translate(700.35 694.00) scale(1 0.8708)" font-size="18.60" text-anchor="middle" xml:space="preserve">17:00</text>
<text transform="translate(833.92 694.00) scale(1 0.8708)" font-size="18.60" text-anchor="middle" xml:space="preserve">17:30</text>
<text transform="translate(967.50 694.00) scale(1 0.8708)" font-size="18.60" text-anchor="middle" xml:space="preserve">18:00</text>
<text transform="translate(569.50 714.00) scale(1 0.9202)" font-size="18.90" text-anchor="middle" xml:space="preserve">Time UTC</text>
<text transform="translate(157.20 231.00) scale(1 0.8935)" font-size="18.60" text-anchor="end" xml:space="preserve">10</text>
<text transform="translate(157.20 321.00) scale(1 0.8935)" font-size="18.60" text-anchor="end" xml:space="preserve">8</text>
<text transform="translate(157.20 411.00) scale(1 0.8935)" font-size="18.60" text-anchor="end" xml:space="preserve">6</text>
<text transform="translate(157.20 501.00) scale(1 0.8935)" font-size="18.60" text-anchor="end" xml:space="preserve">4</text>
<text transform="translate(157.20 591.00) scale(1 0.8935)" font-size="18.60" text-anchor="end" xml:space="preserve">2</text>
<text transform="translate(1015.30 200.11) scale(1 0.8851)" font-size="18.30" xml:space="preserve">20</text>
<text transform="translate(1015.30 318.33) scale(1 0.8851)" font-size="18.30" xml:space="preserve">0</text>
<text transform="translate(1015.30 436.56) scale(1 0.8851)" font-size="18.30" xml:space="preserve">-20</text>
<text transform="translate(1015.30 554.78) scale(1 0.8851)" font-size="18.30" xml:space="preserve">-40</text>
<text transform="translate(1015.30 666.50) scale(1 0.8851)" font-size="18.30" xml:space="preserve">-60</text>
<text transform="translate(119.80 459.60) rotate(-90) scale(1 1.1054)" font-size="17.57" xml:space="preserve">Height AGL km</text>
<text transform="translate(1060.40 467.00) rotate(-90) scale(1 1.1314)" font-size="17.68" xml:space="preserve">Ze dBmm^6/m^3</text>
</g>
</svg>
</body></html>
